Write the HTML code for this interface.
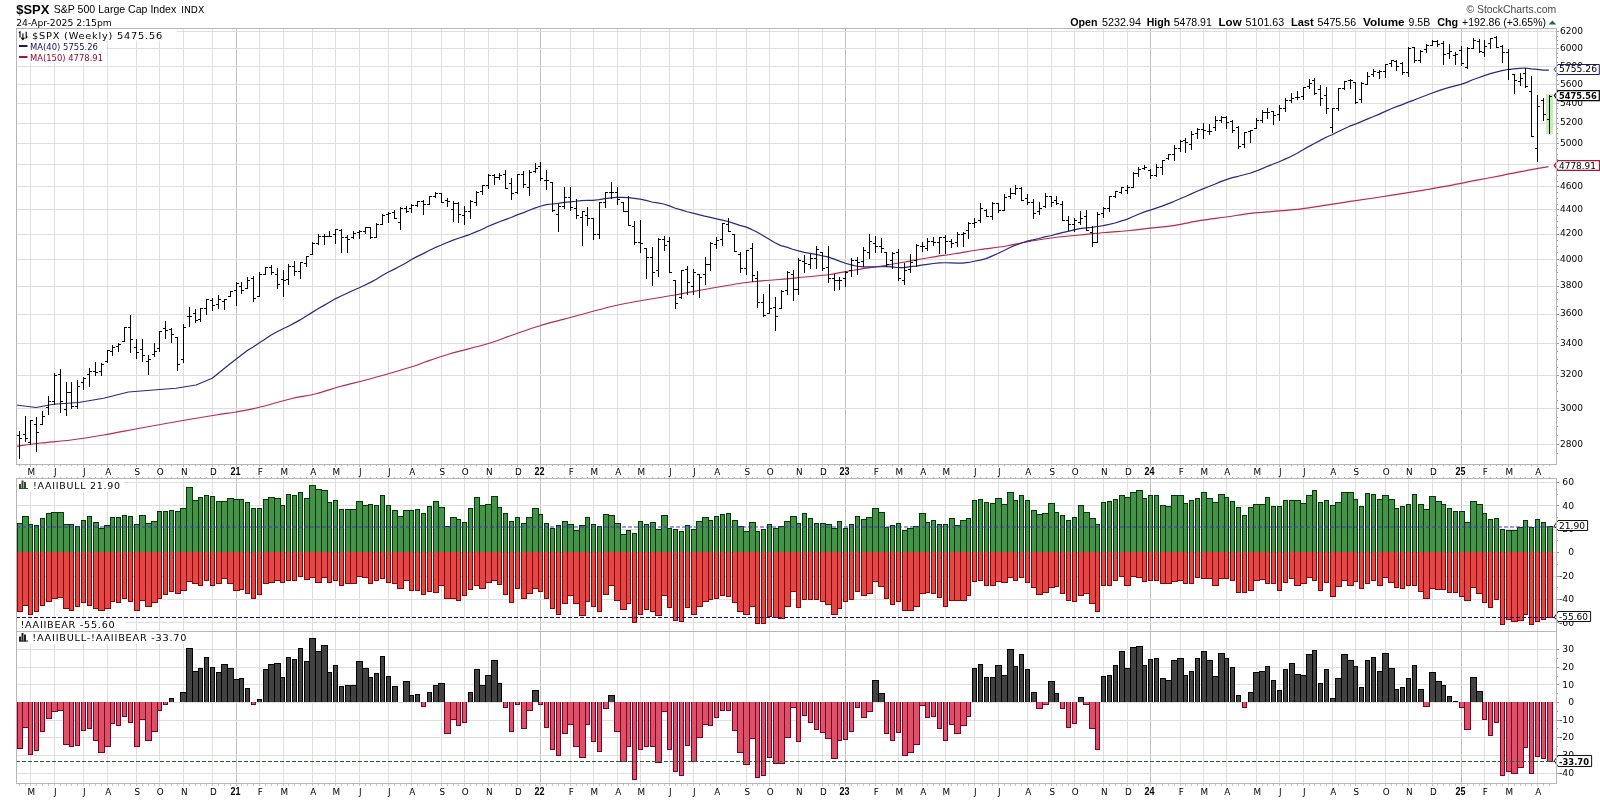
<!DOCTYPE html>
<html><head><meta charset="utf-8"><title>$SPX Weekly - StockCharts</title>
<style>html,body{margin:0;padding:0;background:#fff;overflow:hidden}svg{display:block;will-change:transform}</style>
</head><body><svg width="1600" height="800" viewBox="0 0 1600 800"><rect x="0" y="0" width="1600" height="800" fill="#fff"/><text x="16.25" y="13.5" font-size="13" font-family="'Liberation Sans', Arial, sans-serif" fill="#000" font-weight="bold" textLength="33.1" lengthAdjust="spacingAndGlyphs">$SPX</text><text x="53.75" y="13.1" font-size="10.5" font-family="'Liberation Sans', Arial, sans-serif" fill="#000" textLength="122.5" lengthAdjust="spacingAndGlyphs">S&amp;P 500 Large Cap Index</text><text x="181.25" y="13.1" font-size="9.3" font-family="'DejaVu Sans', Verdana, sans-serif" fill="#000" textLength="23" lengthAdjust="spacingAndGlyphs">INDX</text><text x="16.25" y="25.6" font-size="9.3" font-family="'DejaVu Sans', Verdana, sans-serif" fill="#000" textLength="95.6" lengthAdjust="spacingAndGlyphs">24-Apr-2025 2:15pm</text><text x="1070.2" y="25.75" font-size="11" font-family="'Liberation Sans', Arial, sans-serif" fill="#000" font-weight="bold" textLength="27.3" lengthAdjust="spacingAndGlyphs">Open</text><text x="1101.9" y="25.75" font-size="10.6" font-family="'Liberation Sans', Arial, sans-serif" fill="#000" textLength="39" lengthAdjust="spacingAndGlyphs">5232.94</text><text x="1146.7" y="25.75" font-size="11" font-family="'Liberation Sans', Arial, sans-serif" fill="#000" font-weight="bold" textLength="23.5" lengthAdjust="spacingAndGlyphs">High</text><text x="1173.75" y="25.75" font-size="10.6" font-family="'Liberation Sans', Arial, sans-serif" fill="#000" textLength="38.1" lengthAdjust="spacingAndGlyphs">5478.91</text><text x="1218.6" y="25.75" font-size="11" font-family="'Liberation Sans', Arial, sans-serif" fill="#000" font-weight="bold" textLength="23" lengthAdjust="spacingAndGlyphs">Low</text><text x="1245.6" y="25.75" font-size="10.6" font-family="'Liberation Sans', Arial, sans-serif" fill="#000" textLength="38.6" lengthAdjust="spacingAndGlyphs">5101.63</text><text x="1290.9" y="25.75" font-size="11" font-family="'Liberation Sans', Arial, sans-serif" fill="#000" font-weight="bold" textLength="22.7" lengthAdjust="spacingAndGlyphs">Last</text><text x="1317.6" y="25.75" font-size="10.6" font-family="'Liberation Sans', Arial, sans-serif" fill="#000" textLength="38.5" lengthAdjust="spacingAndGlyphs">5475.56</text><text x="1363.1" y="25.75" font-size="11" font-family="'Liberation Sans', Arial, sans-serif" fill="#000" font-weight="bold" textLength="41.5" lengthAdjust="spacingAndGlyphs">Volume</text><text x="1408.6" y="25.75" font-size="10.6" font-family="'Liberation Sans', Arial, sans-serif" fill="#000" textLength="21.6" lengthAdjust="spacingAndGlyphs">9.5B</text><text x="1437.2" y="25.75" font-size="11" font-family="'Liberation Sans', Arial, sans-serif" fill="#000" font-weight="bold" textLength="21" lengthAdjust="spacingAndGlyphs">Chg</text><text x="1462" y="25.75" font-size="10.6" font-family="'Liberation Sans', Arial, sans-serif" fill="#000" textLength="84" lengthAdjust="spacingAndGlyphs">+192.86 (+3.65%)</text><path d="M1548.6 24.5 L1552.4 20.6 L1556.2 24.5 Z" fill="#335f3f"/><text x="1466.4" y="13.1" font-size="10.4" font-family="'Liberation Sans', Arial, sans-serif" fill="#474747" textLength="89.8" lengthAdjust="spacingAndGlyphs">&#169; StockCharts.com</text><g shape-rendering="crispEdges"><line x1="30.5" y1="28" x2="30.5" y2="464" stroke="#dedede"/><line x1="54.5" y1="28" x2="54.5" y2="464" stroke="#dedede"/><line x1="83.5" y1="28" x2="83.5" y2="464" stroke="#dedede"/><line x1="107.5" y1="28" x2="107.5" y2="464" stroke="#dedede"/><line x1="136.5" y1="28" x2="136.5" y2="464" stroke="#dedede"/><line x1="159.5" y1="28" x2="159.5" y2="464" stroke="#dedede"/><line x1="183.5" y1="28" x2="183.5" y2="464" stroke="#dedede"/><line x1="212.5" y1="28" x2="212.5" y2="464" stroke="#dedede"/><line x1="236.5" y1="28" x2="236.5" y2="464" stroke="#c0c0c0"/><line x1="259.5" y1="28" x2="259.5" y2="464" stroke="#dedede"/><line x1="283.5" y1="28" x2="283.5" y2="464" stroke="#dedede"/><line x1="312.5" y1="28" x2="312.5" y2="464" stroke="#dedede"/><line x1="335.5" y1="28" x2="335.5" y2="464" stroke="#dedede"/><line x1="359.5" y1="28" x2="359.5" y2="464" stroke="#dedede"/><line x1="388.5" y1="28" x2="388.5" y2="464" stroke="#dedede"/><line x1="411.5" y1="28" x2="411.5" y2="464" stroke="#dedede"/><line x1="441.5" y1="28" x2="441.5" y2="464" stroke="#dedede"/><line x1="464.5" y1="28" x2="464.5" y2="464" stroke="#dedede"/><line x1="488.5" y1="28" x2="488.5" y2="464" stroke="#dedede"/><line x1="517.5" y1="28" x2="517.5" y2="464" stroke="#dedede"/><line x1="540.5" y1="28" x2="540.5" y2="464" stroke="#c0c0c0"/><line x1="570.5" y1="28" x2="570.5" y2="464" stroke="#dedede"/><line x1="593.5" y1="28" x2="593.5" y2="464" stroke="#dedede"/><line x1="617.5" y1="28" x2="617.5" y2="464" stroke="#dedede"/><line x1="640.5" y1="28" x2="640.5" y2="464" stroke="#dedede"/><line x1="669.5" y1="28" x2="669.5" y2="464" stroke="#dedede"/><line x1="693.5" y1="28" x2="693.5" y2="464" stroke="#dedede"/><line x1="716.5" y1="28" x2="716.5" y2="464" stroke="#dedede"/><line x1="746.5" y1="28" x2="746.5" y2="464" stroke="#dedede"/><line x1="769.5" y1="28" x2="769.5" y2="464" stroke="#dedede"/><line x1="798.5" y1="28" x2="798.5" y2="464" stroke="#dedede"/><line x1="822.5" y1="28" x2="822.5" y2="464" stroke="#dedede"/><line x1="845.5" y1="28" x2="845.5" y2="464" stroke="#c0c0c0"/><line x1="875.5" y1="28" x2="875.5" y2="464" stroke="#dedede"/><line x1="898.5" y1="28" x2="898.5" y2="464" stroke="#dedede"/><line x1="922.5" y1="28" x2="922.5" y2="464" stroke="#dedede"/><line x1="945.5" y1="28" x2="945.5" y2="464" stroke="#dedede"/><line x1="974.5" y1="28" x2="974.5" y2="464" stroke="#dedede"/><line x1="998.5" y1="28" x2="998.5" y2="464" stroke="#dedede"/><line x1="1027.5" y1="28" x2="1027.5" y2="464" stroke="#dedede"/><line x1="1051.5" y1="28" x2="1051.5" y2="464" stroke="#dedede"/><line x1="1074.5" y1="28" x2="1074.5" y2="464" stroke="#dedede"/><line x1="1103.5" y1="28" x2="1103.5" y2="464" stroke="#dedede"/><line x1="1127.5" y1="28" x2="1127.5" y2="464" stroke="#dedede"/><line x1="1150.5" y1="28" x2="1150.5" y2="464" stroke="#c0c0c0"/><line x1="1180.5" y1="28" x2="1180.5" y2="464" stroke="#dedede"/><line x1="1203.5" y1="28" x2="1203.5" y2="464" stroke="#dedede"/><line x1="1226.5" y1="28" x2="1226.5" y2="464" stroke="#dedede"/><line x1="1256.5" y1="28" x2="1256.5" y2="464" stroke="#dedede"/><line x1="1279.5" y1="28" x2="1279.5" y2="464" stroke="#dedede"/><line x1="1303.5" y1="28" x2="1303.5" y2="464" stroke="#dedede"/><line x1="1332.5" y1="28" x2="1332.5" y2="464" stroke="#dedede"/><line x1="1355.5" y1="28" x2="1355.5" y2="464" stroke="#dedede"/><line x1="1385.5" y1="28" x2="1385.5" y2="464" stroke="#dedede"/><line x1="1408.5" y1="28" x2="1408.5" y2="464" stroke="#dedede"/><line x1="1432.5" y1="28" x2="1432.5" y2="464" stroke="#dedede"/><line x1="1461.5" y1="28" x2="1461.5" y2="464" stroke="#c0c0c0"/><line x1="1484.5" y1="28" x2="1484.5" y2="464" stroke="#dedede"/><line x1="1508.5" y1="28" x2="1508.5" y2="464" stroke="#dedede"/><line x1="1537.5" y1="28" x2="1537.5" y2="464" stroke="#dedede"/><line x1="16" y1="444.5" x2="1556" y2="444.5" stroke="#dedede"/><line x1="16" y1="408.5" x2="1556" y2="408.5" stroke="#dedede"/><line x1="16" y1="375.5" x2="1556" y2="375.5" stroke="#dedede"/><line x1="16" y1="343.5" x2="1556" y2="343.5" stroke="#dedede"/><line x1="16" y1="314.5" x2="1556" y2="314.5" stroke="#dedede"/><line x1="16" y1="286.5" x2="1556" y2="286.5" stroke="#dedede"/><line x1="16" y1="259.5" x2="1556" y2="259.5" stroke="#dedede"/><line x1="16" y1="234.5" x2="1556" y2="234.5" stroke="#dedede"/><line x1="16" y1="209.5" x2="1556" y2="209.5" stroke="#dedede"/><line x1="16" y1="186.5" x2="1556" y2="186.5" stroke="#dedede"/><line x1="16" y1="164.5" x2="1556" y2="164.5" stroke="#dedede"/><line x1="16" y1="143.5" x2="1556" y2="143.5" stroke="#dedede"/><line x1="16" y1="123.5" x2="1556" y2="123.5" stroke="#dedede"/><line x1="16" y1="103.5" x2="1556" y2="103.5" stroke="#dedede"/><line x1="16" y1="84.5" x2="1556" y2="84.5" stroke="#dedede"/><line x1="16" y1="66.5" x2="1556" y2="66.5" stroke="#dedede"/><line x1="16" y1="48.5" x2="1556" y2="48.5" stroke="#dedede"/><line x1="16" y1="31.5" x2="1556" y2="31.5" stroke="#dedede"/></g><path d="M16 446.25 C20.17 445.71 31.83 444.04 41 443 C50.17 441.96 60.58 441.33 71 440 C81.42 438.67 91.83 437 103.5 435 C115.17 433 128.5 430.29 141 428 C153.5 425.71 166 423.42 178.5 421.25 C191 419.08 206.42 416.54 216 415 C225.58 413.46 228.92 413.25 236 412 C243.08 410.75 249.33 409.71 258.5 407.5 C267.67 405.29 281.42 401.04 291 398.75 C300.58 396.46 307.67 395.83 316 393.75 C324.33 391.67 332.67 388.54 341 386.25 C349.33 383.96 357.67 382.21 366 380 C374.33 377.79 382.67 375.42 391 373 C399.33 370.58 410.33 367.33 416 365.5 C421.67 363.67 419.33 363.96 425 362 C430.67 360.04 439.58 356.79 450 353.75 C460.42 350.71 477.08 346.88 487.5 343.75 C497.92 340.62 503.75 338 512.5 335 C521.25 332 529.58 328.88 540 325.75 C550.42 322.62 562.92 319.5 575 316.25 C587.08 313 602.08 308.75 612.5 306.25 C622.92 303.75 627.08 303.12 637.5 301.25 C647.92 299.38 662.5 297.21 675 295 C687.5 292.79 700 290.17 712.5 288 C725 285.83 738.75 283.42 750 282 C761.25 280.58 770.83 280.33 780 279.5 C789.17 278.67 796.67 277.83 805 277 C813.33 276.17 821.67 275.67 830 274.5 C838.33 273.33 846.67 271.38 855 270 C863.33 268.62 871.67 267.58 880 266.25 C888.33 264.92 896.67 263.46 905 262 C913.33 260.54 921.67 258.88 930 257.5 C938.33 256.12 946.67 255.08 955 253.75 C963.33 252.42 971.67 250.75 980 249.5 C988.33 248.25 996.67 247.62 1005 246.25 C1013.33 244.88 1021.67 242.71 1030 241.25 C1038.33 239.79 1046.67 238.54 1055 237.5 C1063.33 236.46 1071.67 235.83 1080 235 C1088.33 234.17 1096.67 233.25 1105 232.5 C1113.33 231.75 1122.45 231.22 1130 230.5 C1137.55 229.78 1142.8 229.07 1150.3 228.2 C1157.8 227.33 1166.62 226.6 1175 225.3 C1183.38 224 1192.1 221.78 1200.6 220.4 C1209.1 219.02 1217.6 218.18 1226 217 C1234.4 215.82 1242.67 214.27 1251 213.3 C1259.33 212.33 1267.62 211.93 1276 211.2 C1284.38 210.47 1292.97 209.9 1301.3 208.9 C1309.63 207.9 1317.62 206.48 1326 205.2 C1334.38 203.92 1343.1 202.48 1351.6 201.2 C1360.1 199.92 1368.62 198.75 1377 197.5 C1385.38 196.25 1393.57 195.03 1401.9 193.7 C1410.23 192.37 1418.62 190.93 1427 189.5 C1435.38 188.07 1443.87 186.65 1452.2 185.1 C1460.53 183.55 1468.62 181.83 1477 180.2 C1485.38 178.57 1494.5 176.87 1502.5 175.3 C1510.5 173.73 1517.33 172.23 1525 170.8 C1532.67 169.37 1544.58 167.38 1548.5 166.7" fill="none" stroke="#bc2850" stroke-width="1.2"/><path d="M16 405 L36 407.5 L53.5 404.25 L78.5 402.5 L103.5 398.25 L128.5 392 L153.5 390 L176 388.25 L196 385 L212.25 378.25 L228.5 365 L247.33 350.43 L253.19 347.04 L259.06 342.99 L264.92 339.17 L270.78 335.26 L276.65 332.05 L282.51 329.08 L288.37 326.3 L294.23 323.1 L300.1 319.89 L305.96 316.22 L311.82 312.63 L317.69 309.04 L323.55 305.64 L329.41 302.23 L335.27 298.85 L341.14 296 L347 293.29 L352.86 290.51 L358.73 288.05 L364.59 285.22 L370.45 282.4 L376.31 279.16 L382.18 275.6 L388.04 272.19 L393.9 269.39 L399.77 266.34 L405.63 263.31 L411.49 259.5 L417.35 256.38 L423.22 253.61 L429.08 250.55 L434.94 247.68 L440.81 245.27 L446.67 242.71 L452.53 240.35 L458.39 238.3 L464.26 236.33 L470.12 234.32 L475.98 231.88 L481.85 229.52 L487.71 226.5 L493.57 224.08 L499.44 221.77 L505.3 219.69 L511.16 217.5 L517.02 214.89 L522.89 212.9 L528.75 210.49 L534.61 208.15 L540.48 206.21 L546.34 204.64 L552.2 204.02 L558.06 203.29 L563.93 202.34 L569.79 201.8 L575.65 201.27 L581.52 200.6 L587.38 200.25 L593.24 200.31 L599.1 199.71 L604.97 198.62 L610.83 197.86 L616.69 197.47 L622.56 197.41 L628.42 197.56 L634.28 198.37 L640.14 199.14 L646.01 200.37 L651.87 202.03 L657.73 202.85 L663.6 204.03 L669.46 205.9 L675.32 208.21 L681.19 209.87 L687.05 211.73 L692.91 213.09 L698.77 214.67 L704.64 216.18 L710.5 217.46 L716.36 218.83 L722.23 220.09 L728.09 221.47 L733.95 223.41 L739.81 225.42 L745.68 226.86 L751.54 229.42 L757.4 232.3 L763.27 235.81 L769.13 239.32 L774.99 242.76 L780.85 245.59 L786.72 247.17 L792.58 249.27 L798.44 250.91 L804.31 252.36 L810.17 253.46 L816.03 254.46 L821.89 255.73 L827.76 256.84 L833.62 258.84 L839.48 261.13 L845.35 263.25 L851.21 264.87 L857.07 266.24 L862.94 266.91 L868.8 266.87 L874.66 266.96 L880.52 266.75 L886.39 266.53 L892.25 266.89 L898.11 267.72 L903.98 267.68 L909.84 266.69 L915.7 266.06 L921.56 265.14 L927.43 264.36 L933.29 263.48 L939.15 262.8 L945.02 262.77 L950.88 262.86 L956.74 263.15 L962.6 263.22 L968.47 262.47 L974.33 261.26 L980.19 260.15 L986.06 258.64 L991.92 256.13 L997.78 253.54 L1003.64 250.74 L1009.51 247.69 L1015.37 245.08 L1021.23 243.25 L1027.1 241.09 L1032.96 239.9 L1038.82 238.52 L1044.68 236.94 L1050.55 235.74 L1056.41 234.12 L1062.27 232.7 L1068.14 231.36 L1074 229.91 L1079.86 228.6 L1085.73 227.89 L1091.59 227.39 L1097.45 226.51 L1103.31 225.67 L1109.18 224.4 L1115.04 222.96 L1120.9 221.07 L1126.77 219.41 L1132.63 216.82 L1138.49 214.29 L1144.35 211.9 L1150.22 210.14 L1156.08 208.16 L1161.94 206.1 L1167.81 203.86 L1173.67 201.57 L1179.53 199.01 L1185.39 196.45 L1191.26 193.9 L1197.12 191.23 L1202.98 188.85 L1208.85 186.54 L1214.71 184.23 L1220.57 181.67 L1226.43 179.58 L1232.3 177.56 L1238.16 176.29 L1244.02 174.73 L1249.89 173.25 L1255.75 171.19 L1261.61 168.87 L1267.48 166.32 L1273.34 163.98 L1279.2 161.73 L1285.06 159.14 L1290.93 156.46 L1296.79 153.42 L1302.65 150.02 L1308.52 146.61 L1314.38 143.54 L1320.24 140.35 L1326.1 137.23 L1331.97 134.69 L1337.83 131.78 L1343.69 128.94 L1349.56 126.19 L1355.42 124.13 L1361.28 121.58 L1367.14 119.17 L1373.01 116.73 L1378.87 114.35 L1384.73 111.61 L1390.6 108.97 L1396.46 106.62 L1402.32 104.61 L1408.18 102.09 L1414.05 100.06 L1419.91 97.77 L1425.77 95.51 L1431.64 93.26 L1437.5 91.07 L1443.36 89.16 L1449.23 87.43 L1455.09 85.85 L1460.95 84.4 L1466.81 82.35 L1472.68 79.73 L1478.54 77.74 L1484.4 75.68 L1490.27 73.66 L1496.13 72.05 L1501.99 70.58 L1507.85 69.48 L1513.72 68.82 L1519.58 68.28 L1525.44 68 L1531.31 68.88 L1537.17 69.32 L1543.03 70.05 L1548.89 70.1" fill="none" stroke="#2a287e" stroke-width="1.2" stroke-linejoin="round"/><rect x="1546" y="94" width="7" height="40" fill="#c6eeb4"/><g fill="#000" shape-rendering="crispEdges"><rect x="19" y="431" width="1" height="28"/><rect x="17" y="435" width="2" height="1"/><rect x="20" y="438" width="2" height="1"/><rect x="25" y="416" width="1" height="26"/><rect x="23" y="434" width="2" height="1"/><rect x="26" y="438" width="2" height="1"/><rect x="30" y="420" width="1" height="25"/><rect x="28" y="442" width="2" height="1"/><rect x="31" y="420" width="2" height="1"/><rect x="36" y="417" width="1" height="35"/><rect x="34" y="424" width="2" height="1"/><rect x="37" y="432" width="2" height="1"/><rect x="42" y="411" width="1" height="14"/><rect x="40" y="424" width="2" height="1"/><rect x="43" y="416" width="2" height="1"/><rect x="48" y="396" width="1" height="19"/><rect x="46" y="407" width="2" height="1"/><rect x="49" y="401" width="2" height="1"/><rect x="54" y="373" width="1" height="32"/><rect x="52" y="401" width="2" height="1"/><rect x="55" y="375" width="2" height="1"/><rect x="60" y="369" width="1" height="44"/><rect x="58" y="374" width="2" height="1"/><rect x="61" y="401" width="2" height="1"/><rect x="66" y="382" width="1" height="34"/><rect x="64" y="409" width="2" height="1"/><rect x="67" y="392" width="2" height="1"/><rect x="71" y="382" width="1" height="27"/><rect x="69" y="392" width="2" height="1"/><rect x="72" y="406" width="2" height="1"/><rect x="77" y="380" width="1" height="29"/><rect x="75" y="406" width="2" height="1"/><rect x="78" y="386" width="2" height="1"/><rect x="83" y="377" width="1" height="13"/><rect x="81" y="382" width="2" height="1"/><rect x="84" y="378" width="2" height="1"/><rect x="89" y="368" width="1" height="19"/><rect x="87" y="374" width="2" height="1"/><rect x="90" y="371" width="2" height="1"/><rect x="95" y="362" width="1" height="14"/><rect x="93" y="371" width="2" height="1"/><rect x="96" y="372" width="2" height="1"/><rect x="101" y="363" width="1" height="13"/><rect x="99" y="371" width="2" height="1"/><rect x="102" y="364" width="2" height="1"/><rect x="107" y="350" width="1" height="13"/><rect x="105" y="361" width="2" height="1"/><rect x="108" y="350" width="2" height="1"/><rect x="112" y="345" width="1" height="11"/><rect x="110" y="351" width="2" height="1"/><rect x="113" y="347" width="2" height="1"/><rect x="118" y="343" width="1" height="9"/><rect x="116" y="346" width="2" height="1"/><rect x="119" y="344" width="2" height="1"/><rect x="124" y="327" width="1" height="15"/><rect x="122" y="341" width="2" height="1"/><rect x="125" y="327" width="2" height="1"/><rect x="130" y="315" width="1" height="38"/><rect x="128" y="327" width="2" height="1"/><rect x="131" y="339" width="2" height="1"/><rect x="136" y="339" width="1" height="20"/><rect x="134" y="347" width="2" height="1"/><rect x="137" y="352" width="2" height="1"/><rect x="142" y="339" width="1" height="23"/><rect x="140" y="349" width="2" height="1"/><rect x="143" y="355" width="2" height="1"/><rect x="148" y="355" width="1" height="20"/><rect x="146" y="361" width="2" height="1"/><rect x="149" y="359" width="2" height="1"/><rect x="154" y="343" width="1" height="14"/><rect x="152" y="354" width="2" height="1"/><rect x="155" y="351" width="2" height="1"/><rect x="159" y="331" width="1" height="21"/><rect x="157" y="348" width="2" height="1"/><rect x="160" y="331" width="2" height="1"/><rect x="165" y="321" width="1" height="18"/><rect x="163" y="328" width="2" height="1"/><rect x="166" y="330" width="2" height="1"/><rect x="171" y="328" width="1" height="15"/><rect x="169" y="329" width="2" height="1"/><rect x="172" y="334" width="2" height="1"/><rect x="177" y="337" width="1" height="34"/><rect x="175" y="337" width="2" height="1"/><rect x="178" y="364" width="2" height="1"/><rect x="183" y="324" width="1" height="39"/><rect x="181" y="359" width="2" height="1"/><rect x="184" y="327" width="2" height="1"/><rect x="189" y="307" width="1" height="20"/><rect x="187" y="316" width="2" height="1"/><rect x="190" y="316" width="2" height="1"/><rect x="195" y="309" width="1" height="14"/><rect x="193" y="313" width="2" height="1"/><rect x="196" y="320" width="2" height="1"/><rect x="200" y="308" width="1" height="14"/><rect x="198" y="319" width="2" height="1"/><rect x="201" y="308" width="2" height="1"/><rect x="206" y="299" width="1" height="16"/><rect x="204" y="308" width="2" height="1"/><rect x="207" y="299" width="2" height="1"/><rect x="212" y="298" width="1" height="13"/><rect x="210" y="300" width="2" height="1"/><rect x="213" y="305" width="2" height="1"/><rect x="218" y="295" width="1" height="14"/><rect x="216" y="304" width="2" height="1"/><rect x="219" y="299" width="2" height="1"/><rect x="224" y="299" width="1" height="11"/><rect x="222" y="301" width="2" height="1"/><rect x="225" y="299" width="2" height="1"/><rect x="230" y="291" width="1" height="6"/><rect x="228" y="296" width="2" height="1"/><rect x="231" y="291" width="2" height="1"/><rect x="236" y="282" width="1" height="24"/><rect x="234" y="290" width="2" height="1"/><rect x="237" y="283" width="2" height="1"/><rect x="241" y="282" width="1" height="12"/><rect x="239" y="286" width="2" height="1"/><rect x="242" y="290" width="2" height="1"/><rect x="247" y="277" width="1" height="12"/><rect x="245" y="288" width="2" height="1"/><rect x="248" y="280" width="2" height="1"/><rect x="253" y="276" width="1" height="26"/><rect x="251" y="278" width="2" height="1"/><rect x="254" y="298" width="2" height="1"/><rect x="259" y="272" width="1" height="25"/><rect x="257" y="296" width="2" height="1"/><rect x="260" y="274" width="2" height="1"/><rect x="265" y="267" width="1" height="8"/><rect x="263" y="274" width="2" height="1"/><rect x="266" y="267" width="2" height="1"/><rect x="271" y="265" width="1" height="10"/><rect x="269" y="267" width="2" height="1"/><rect x="272" y="272" width="2" height="1"/><rect x="277" y="268" width="1" height="21"/><rect x="275" y="274" width="2" height="1"/><rect x="278" y="284" width="2" height="1"/><rect x="283" y="270" width="1" height="27"/><rect x="281" y="279" width="2" height="1"/><rect x="284" y="280" width="2" height="1"/><rect x="288" y="264" width="1" height="21"/><rect x="286" y="279" width="2" height="1"/><rect x="289" y="266" width="2" height="1"/><rect x="294" y="261" width="1" height="15"/><rect x="292" y="266" width="2" height="1"/><rect x="295" y="271" width="2" height="1"/><rect x="300" y="262" width="1" height="17"/><rect x="298" y="271" width="2" height="1"/><rect x="301" y="262" width="2" height="1"/><rect x="306" y="256" width="1" height="11"/><rect x="304" y="263" width="2" height="1"/><rect x="307" y="256" width="2" height="1"/><rect x="312" y="242" width="1" height="13"/><rect x="310" y="254" width="2" height="1"/><rect x="313" y="243" width="2" height="1"/><rect x="318" y="234" width="1" height="11"/><rect x="316" y="243" width="2" height="1"/><rect x="319" y="236" width="2" height="1"/><rect x="324" y="234" width="1" height="11"/><rect x="322" y="236" width="2" height="1"/><rect x="325" y="236" width="2" height="1"/><rect x="329" y="231" width="1" height="6"/><rect x="327" y="236" width="2" height="1"/><rect x="330" y="236" width="2" height="1"/><rect x="335" y="229" width="1" height="15"/><rect x="333" y="234" width="2" height="1"/><rect x="336" y="229" width="2" height="1"/><rect x="341" y="229" width="1" height="24"/><rect x="339" y="230" width="2" height="1"/><rect x="342" y="237" width="2" height="1"/><rect x="347" y="235" width="1" height="18"/><rect x="345" y="237" width="2" height="1"/><rect x="348" y="239" width="2" height="1"/><rect x="353" y="231" width="1" height="8"/><rect x="351" y="237" width="2" height="1"/><rect x="354" y="233" width="2" height="1"/><rect x="359" y="230" width="1" height="9"/><rect x="357" y="232" width="2" height="1"/><rect x="360" y="231" width="2" height="1"/><rect x="365" y="227" width="1" height="7"/><rect x="363" y="231" width="2" height="1"/><rect x="366" y="227" width="2" height="1"/><rect x="370" y="227" width="1" height="12"/><rect x="368" y="227" width="2" height="1"/><rect x="371" y="237" width="2" height="1"/><rect x="376" y="223" width="1" height="15"/><rect x="374" y="237" width="2" height="1"/><rect x="377" y="224" width="2" height="1"/><rect x="382" y="214" width="1" height="11"/><rect x="380" y="224" width="2" height="1"/><rect x="383" y="215" width="2" height="1"/><rect x="388" y="212" width="1" height="11"/><rect x="386" y="214" width="2" height="1"/><rect x="389" y="213" width="2" height="1"/><rect x="394" y="210" width="1" height="9"/><rect x="392" y="212" width="2" height="1"/><rect x="395" y="218" width="2" height="1"/><rect x="400" y="207" width="1" height="23"/><rect x="398" y="222" width="2" height="1"/><rect x="401" y="208" width="2" height="1"/><rect x="406" y="206" width="1" height="7"/><rect x="404" y="208" width="2" height="1"/><rect x="407" y="211" width="2" height="1"/><rect x="411" y="204" width="1" height="9"/><rect x="409" y="208" width="2" height="1"/><rect x="412" y="205" width="2" height="1"/><rect x="417" y="201" width="1" height="6"/><rect x="415" y="205" width="2" height="1"/><rect x="418" y="201" width="2" height="1"/><rect x="423" y="200" width="1" height="15"/><rect x="421" y="201" width="2" height="1"/><rect x="424" y="204" width="2" height="1"/><rect x="429" y="196" width="1" height="9"/><rect x="427" y="204" width="2" height="1"/><rect x="430" y="196" width="2" height="1"/><rect x="435" y="192" width="1" height="6"/><rect x="433" y="196" width="2" height="1"/><rect x="436" y="193" width="2" height="1"/><rect x="441" y="193" width="1" height="10"/><rect x="439" y="193" width="2" height="1"/><rect x="442" y="202" width="2" height="1"/><rect x="447" y="198" width="1" height="9"/><rect x="445" y="200" width="2" height="1"/><rect x="448" y="201" width="2" height="1"/><rect x="453" y="201" width="1" height="21"/><rect x="451" y="209" width="2" height="1"/><rect x="454" y="203" width="2" height="1"/><rect x="458" y="202" width="1" height="21"/><rect x="456" y="203" width="2" height="1"/><rect x="459" y="214" width="2" height="1"/><rect x="464" y="206" width="1" height="19"/><rect x="462" y="215" width="2" height="1"/><rect x="465" y="211" width="2" height="1"/><rect x="470" y="200" width="1" height="19"/><rect x="468" y="211" width="2" height="1"/><rect x="471" y="201" width="2" height="1"/><rect x="476" y="191" width="1" height="15"/><rect x="474" y="202" width="2" height="1"/><rect x="477" y="192" width="2" height="1"/><rect x="482" y="185" width="1" height="10"/><rect x="480" y="191" width="2" height="1"/><rect x="483" y="185" width="2" height="1"/><rect x="488" y="174" width="1" height="15"/><rect x="486" y="185" width="2" height="1"/><rect x="489" y="175" width="2" height="1"/><rect x="494" y="174" width="1" height="11"/><rect x="492" y="175" width="2" height="1"/><rect x="495" y="177" width="2" height="1"/><rect x="499" y="173" width="1" height="7"/><rect x="497" y="177" width="2" height="1"/><rect x="500" y="175" width="2" height="1"/><rect x="505" y="170" width="1" height="19"/><rect x="503" y="174" width="2" height="1"/><rect x="506" y="188" width="2" height="1"/><rect x="511" y="178" width="1" height="22"/><rect x="509" y="183" width="2" height="1"/><rect x="512" y="193" width="2" height="1"/><rect x="517" y="174" width="1" height="20"/><rect x="515" y="192" width="2" height="1"/><rect x="518" y="174" width="2" height="1"/><rect x="523" y="171" width="1" height="17"/><rect x="521" y="174" width="2" height="1"/><rect x="524" y="184" width="2" height="1"/><rect x="529" y="170" width="1" height="26"/><rect x="527" y="187" width="2" height="1"/><rect x="530" y="172" width="2" height="1"/><rect x="535" y="163" width="1" height="10"/><rect x="533" y="171" width="2" height="1"/><rect x="536" y="168" width="2" height="1"/><rect x="540" y="162" width="1" height="19"/><rect x="538" y="166" width="2" height="1"/><rect x="541" y="178" width="2" height="1"/><rect x="546" y="170" width="1" height="20"/><rect x="544" y="180" width="2" height="1"/><rect x="547" y="180" width="2" height="1"/><rect x="552" y="182" width="1" height="30"/><rect x="550" y="182" width="2" height="1"/><rect x="553" y="210" width="2" height="1"/><rect x="558" y="204" width="1" height="28"/><rect x="556" y="214" width="2" height="1"/><rect x="559" y="206" width="2" height="1"/><rect x="564" y="187" width="1" height="22"/><rect x="562" y="206" width="2" height="1"/><rect x="565" y="197" width="2" height="1"/><rect x="570" y="187" width="1" height="24"/><rect x="568" y="197" width="2" height="1"/><rect x="571" y="207" width="2" height="1"/><rect x="576" y="199" width="1" height="20"/><rect x="574" y="208" width="2" height="1"/><rect x="577" y="215" width="2" height="1"/><rect x="582" y="211" width="1" height="35"/><rect x="580" y="217" width="2" height="1"/><rect x="583" y="211" width="2" height="1"/><rect x="587" y="207" width="1" height="19"/><rect x="585" y="215" width="2" height="1"/><rect x="588" y="218" width="2" height="1"/><rect x="593" y="218" width="1" height="22"/><rect x="591" y="218" width="2" height="1"/><rect x="594" y="234" width="2" height="1"/><rect x="599" y="202" width="1" height="37"/><rect x="597" y="234" width="2" height="1"/><rect x="600" y="202" width="2" height="1"/><rect x="605" y="192" width="1" height="16"/><rect x="603" y="202" width="2" height="1"/><rect x="606" y="192" width="2" height="1"/><rect x="611" y="182" width="1" height="17"/><rect x="609" y="192" width="2" height="1"/><rect x="612" y="192" width="2" height="1"/><rect x="617" y="187" width="1" height="18"/><rect x="615" y="192" width="2" height="1"/><rect x="618" y="199" width="2" height="1"/><rect x="623" y="202" width="1" height="10"/><rect x="621" y="202" width="2" height="1"/><rect x="624" y="211" width="2" height="1"/><rect x="628" y="196" width="1" height="30"/><rect x="626" y="211" width="2" height="1"/><rect x="629" y="225" width="2" height="1"/><rect x="634" y="221" width="1" height="24"/><rect x="632" y="226" width="2" height="1"/><rect x="635" y="242" width="2" height="1"/><rect x="640" y="220" width="1" height="33"/><rect x="638" y="242" width="2" height="1"/><rect x="641" y="243" width="2" height="1"/><rect x="646" y="248" width="1" height="31"/><rect x="644" y="248" width="2" height="1"/><rect x="647" y="257" width="2" height="1"/><rect x="652" y="247" width="1" height="39"/><rect x="650" y="257" width="2" height="1"/><rect x="653" y="272" width="2" height="1"/><rect x="658" y="238" width="1" height="39"/><rect x="656" y="270" width="2" height="1"/><rect x="659" y="239" width="2" height="1"/><rect x="664" y="236" width="1" height="15"/><rect x="662" y="239" width="2" height="1"/><rect x="665" y="245" width="2" height="1"/><rect x="669" y="237" width="1" height="36"/><rect x="667" y="241" width="2" height="1"/><rect x="670" y="272" width="2" height="1"/><rect x="675" y="280" width="1" height="29"/><rect x="673" y="280" width="2" height="1"/><rect x="676" y="303" width="2" height="1"/><rect x="681" y="270" width="1" height="29"/><rect x="679" y="297" width="2" height="1"/><rect x="682" y="270" width="2" height="1"/><rect x="687" y="266" width="1" height="29"/><rect x="685" y="269" width="2" height="1"/><rect x="688" y="282" width="2" height="1"/><rect x="693" y="269" width="1" height="26"/><rect x="691" y="286" width="2" height="1"/><rect x="694" y="272" width="2" height="1"/><rect x="699" y="274" width="1" height="24"/><rect x="697" y="274" width="2" height="1"/><rect x="700" y="277" width="2" height="1"/><rect x="705" y="257" width="1" height="28"/><rect x="703" y="274" width="2" height="1"/><rect x="706" y="264" width="2" height="1"/><rect x="710" y="242" width="1" height="29"/><rect x="708" y="264" width="2" height="1"/><rect x="711" y="243" width="2" height="1"/><rect x="716" y="237" width="1" height="12"/><rect x="714" y="244" width="2" height="1"/><rect x="717" y="240" width="2" height="1"/><rect x="722" y="223" width="1" height="23"/><rect x="720" y="239" width="2" height="1"/><rect x="723" y="223" width="2" height="1"/><rect x="728" y="218" width="1" height="14"/><rect x="726" y="224" width="2" height="1"/><rect x="729" y="231" width="2" height="1"/><rect x="734" y="234" width="1" height="18"/><rect x="732" y="234" width="2" height="1"/><rect x="735" y="251" width="2" height="1"/><rect x="740" y="252" width="1" height="21"/><rect x="738" y="254" width="2" height="1"/><rect x="741" y="268" width="2" height="1"/><rect x="746" y="250" width="1" height="25"/><rect x="744" y="268" width="2" height="1"/><rect x="747" y="250" width="2" height="1"/><rect x="752" y="243" width="1" height="39"/><rect x="750" y="248" width="2" height="1"/><rect x="753" y="275" width="2" height="1"/><rect x="757" y="271" width="1" height="37"/><rect x="755" y="278" width="2" height="1"/><rect x="758" y="302" width="2" height="1"/><rect x="763" y="294" width="1" height="23"/><rect x="761" y="302" width="2" height="1"/><rect x="764" y="315" width="2" height="1"/><rect x="769" y="284" width="1" height="30"/><rect x="767" y="313" width="2" height="1"/><rect x="770" y="308" width="2" height="1"/><rect x="775" y="297" width="1" height="34"/><rect x="773" y="307" width="2" height="1"/><rect x="776" y="316" width="2" height="1"/><rect x="781" y="290" width="1" height="19"/><rect x="779" y="308" width="2" height="1"/><rect x="782" y="291" width="2" height="1"/><rect x="787" y="271" width="1" height="24"/><rect x="785" y="290" width="2" height="1"/><rect x="788" y="272" width="2" height="1"/><rect x="793" y="270" width="1" height="31"/><rect x="791" y="274" width="2" height="1"/><rect x="794" y="289" width="2" height="1"/><rect x="798" y="258" width="1" height="37"/><rect x="796" y="289" width="2" height="1"/><rect x="799" y="260" width="2" height="1"/><rect x="804" y="255" width="1" height="18"/><rect x="802" y="261" width="2" height="1"/><rect x="805" y="263" width="2" height="1"/><rect x="810" y="254" width="1" height="15"/><rect x="808" y="264" width="2" height="1"/><rect x="811" y="258" width="2" height="1"/><rect x="816" y="246" width="1" height="23"/><rect x="814" y="258" width="2" height="1"/><rect x="817" y="249" width="2" height="1"/><rect x="822" y="252" width="1" height="19"/><rect x="820" y="252" width="2" height="1"/><rect x="823" y="268" width="2" height="1"/><rect x="828" y="246" width="1" height="37"/><rect x="826" y="267" width="2" height="1"/><rect x="829" y="278" width="2" height="1"/><rect x="834" y="274" width="1" height="17"/><rect x="832" y="278" width="2" height="1"/><rect x="835" y="280" width="2" height="1"/><rect x="839" y="277" width="1" height="13"/><rect x="837" y="280" width="2" height="1"/><rect x="840" y="280" width="2" height="1"/><rect x="845" y="271" width="1" height="16"/><rect x="843" y="278" width="2" height="1"/><rect x="846" y="272" width="2" height="1"/><rect x="851" y="258" width="1" height="19"/><rect x="849" y="270" width="2" height="1"/><rect x="852" y="260" width="2" height="1"/><rect x="857" y="257" width="1" height="18"/><rect x="855" y="260" width="2" height="1"/><rect x="858" y="262" width="2" height="1"/><rect x="863" y="247" width="1" height="20"/><rect x="861" y="261" width="2" height="1"/><rect x="864" y="250" width="2" height="1"/><rect x="869" y="234" width="1" height="25"/><rect x="867" y="252" width="2" height="1"/><rect x="870" y="241" width="2" height="1"/><rect x="875" y="236" width="1" height="17"/><rect x="873" y="243" width="2" height="1"/><rect x="876" y="246" width="2" height="1"/><rect x="881" y="238" width="1" height="15"/><rect x="879" y="246" width="2" height="1"/><rect x="882" y="248" width="2" height="1"/><rect x="886" y="252" width="1" height="15"/><rect x="884" y="252" width="2" height="1"/><rect x="887" y="264" width="2" height="1"/><rect x="892" y="252" width="1" height="17"/><rect x="890" y="260" width="2" height="1"/><rect x="893" y="253" width="2" height="1"/><rect x="898" y="249" width="1" height="32"/><rect x="896" y="252" width="2" height="1"/><rect x="899" y="278" width="2" height="1"/><rect x="904" y="263" width="1" height="22"/><rect x="902" y="280" width="2" height="1"/><rect x="905" y="270" width="2" height="1"/><rect x="910" y="254" width="1" height="19"/><rect x="908" y="269" width="2" height="1"/><rect x="911" y="262" width="2" height="1"/><rect x="916" y="244" width="1" height="23"/><rect x="914" y="260" width="2" height="1"/><rect x="917" y="245" width="2" height="1"/><rect x="922" y="242" width="1" height="10"/><rect x="920" y="246" width="2" height="1"/><rect x="923" y="246" width="2" height="1"/><rect x="927" y="238" width="1" height="13"/><rect x="925" y="248" width="2" height="1"/><rect x="928" y="241" width="2" height="1"/><rect x="933" y="237" width="1" height="9"/><rect x="931" y="241" width="2" height="1"/><rect x="934" y="242" width="2" height="1"/><rect x="939" y="237" width="1" height="17"/><rect x="937" y="242" width="2" height="1"/><rect x="940" y="237" width="2" height="1"/><rect x="945" y="235" width="1" height="19"/><rect x="943" y="237" width="2" height="1"/><rect x="946" y="241" width="2" height="1"/><rect x="951" y="239" width="1" height="9"/><rect x="949" y="241" width="2" height="1"/><rect x="952" y="243" width="2" height="1"/><rect x="957" y="232" width="1" height="15"/><rect x="955" y="242" width="2" height="1"/><rect x="958" y="234" width="2" height="1"/><rect x="963" y="232" width="1" height="15"/><rect x="961" y="234" width="2" height="1"/><rect x="964" y="233" width="2" height="1"/><rect x="968" y="222" width="1" height="17"/><rect x="966" y="230" width="2" height="1"/><rect x="969" y="223" width="2" height="1"/><rect x="974" y="218" width="1" height="10"/><rect x="972" y="223" width="2" height="1"/><rect x="975" y="222" width="2" height="1"/><rect x="980" y="203" width="1" height="20"/><rect x="978" y="220" width="2" height="1"/><rect x="981" y="208" width="2" height="1"/><rect x="986" y="209" width="1" height="8"/><rect x="984" y="210" width="2" height="1"/><rect x="987" y="216" width="2" height="1"/><rect x="992" y="202" width="1" height="18"/><rect x="990" y="216" width="2" height="1"/><rect x="993" y="203" width="2" height="1"/><rect x="998" y="203" width="1" height="10"/><rect x="996" y="203" width="2" height="1"/><rect x="999" y="210" width="2" height="1"/><rect x="1004" y="194" width="1" height="17"/><rect x="1002" y="210" width="2" height="1"/><rect x="1005" y="197" width="2" height="1"/><rect x="1010" y="188" width="1" height="11"/><rect x="1008" y="196" width="2" height="1"/><rect x="1011" y="193" width="2" height="1"/><rect x="1015" y="185" width="1" height="10"/><rect x="1013" y="193" width="2" height="1"/><rect x="1016" y="188" width="2" height="1"/><rect x="1021" y="187" width="1" height="14"/><rect x="1019" y="188" width="2" height="1"/><rect x="1022" y="200" width="2" height="1"/><rect x="1027" y="194" width="1" height="11"/><rect x="1025" y="198" width="2" height="1"/><rect x="1028" y="202" width="2" height="1"/><rect x="1033" y="199" width="1" height="20"/><rect x="1031" y="202" width="2" height="1"/><rect x="1034" y="213" width="2" height="1"/><rect x="1039" y="202" width="1" height="13"/><rect x="1037" y="211" width="2" height="1"/><rect x="1040" y="208" width="2" height="1"/><rect x="1045" y="193" width="1" height="15"/><rect x="1043" y="206" width="2" height="1"/><rect x="1046" y="196" width="2" height="1"/><rect x="1051" y="196" width="1" height="11"/><rect x="1049" y="196" width="2" height="1"/><rect x="1052" y="202" width="2" height="1"/><rect x="1056" y="196" width="1" height="9"/><rect x="1054" y="200" width="2" height="1"/><rect x="1057" y="203" width="2" height="1"/><rect x="1062" y="201" width="1" height="20"/><rect x="1060" y="204" width="2" height="1"/><rect x="1063" y="220" width="2" height="1"/><rect x="1068" y="216" width="1" height="15"/><rect x="1066" y="220" width="2" height="1"/><rect x="1069" y="224" width="2" height="1"/><rect x="1074" y="218" width="1" height="14"/><rect x="1072" y="224" width="2" height="1"/><rect x="1075" y="220" width="2" height="1"/><rect x="1080" y="211" width="1" height="14"/><rect x="1078" y="222" width="2" height="1"/><rect x="1081" y="218" width="2" height="1"/><rect x="1086" y="210" width="1" height="21"/><rect x="1084" y="216" width="2" height="1"/><rect x="1087" y="230" width="2" height="1"/><rect x="1092" y="226" width="1" height="21"/><rect x="1090" y="232" width="2" height="1"/><rect x="1093" y="242" width="2" height="1"/><rect x="1097" y="212" width="1" height="31"/><rect x="1095" y="242" width="2" height="1"/><rect x="1098" y="214" width="2" height="1"/><rect x="1103" y="207" width="1" height="11"/><rect x="1101" y="213" width="2" height="1"/><rect x="1104" y="208" width="2" height="1"/><rect x="1109" y="196" width="1" height="16"/><rect x="1107" y="208" width="2" height="1"/><rect x="1110" y="196" width="2" height="1"/><rect x="1115" y="191" width="1" height="7"/><rect x="1113" y="196" width="2" height="1"/><rect x="1116" y="191" width="2" height="1"/><rect x="1121" y="187" width="1" height="7"/><rect x="1119" y="192" width="2" height="1"/><rect x="1122" y="187" width="2" height="1"/><rect x="1127" y="185" width="1" height="9"/><rect x="1125" y="190" width="2" height="1"/><rect x="1128" y="187" width="2" height="1"/><rect x="1133" y="172" width="1" height="16"/><rect x="1131" y="187" width="2" height="1"/><rect x="1134" y="173" width="2" height="1"/><rect x="1138" y="167" width="1" height="10"/><rect x="1136" y="173" width="2" height="1"/><rect x="1139" y="169" width="2" height="1"/><rect x="1144" y="165" width="1" height="5"/><rect x="1142" y="168" width="2" height="1"/><rect x="1145" y="167" width="2" height="1"/><rect x="1150" y="169" width="1" height="10"/><rect x="1148" y="170" width="2" height="1"/><rect x="1151" y="175" width="2" height="1"/><rect x="1156" y="164" width="1" height="13"/><rect x="1154" y="175" width="2" height="1"/><rect x="1157" y="167" width="2" height="1"/><rect x="1162" y="160" width="1" height="15"/><rect x="1160" y="167" width="2" height="1"/><rect x="1163" y="160" width="2" height="1"/><rect x="1168" y="154" width="1" height="6"/><rect x="1166" y="158" width="2" height="1"/><rect x="1169" y="154" width="2" height="1"/><rect x="1174" y="145" width="1" height="16"/><rect x="1172" y="154" width="2" height="1"/><rect x="1175" y="148" width="2" height="1"/><rect x="1180" y="140" width="1" height="12"/><rect x="1178" y="148" width="2" height="1"/><rect x="1181" y="141" width="2" height="1"/><rect x="1185" y="138" width="1" height="15"/><rect x="1183" y="140" width="2" height="1"/><rect x="1186" y="142" width="2" height="1"/><rect x="1191" y="131" width="1" height="19"/><rect x="1189" y="144" width="2" height="1"/><rect x="1192" y="134" width="2" height="1"/><rect x="1197" y="128" width="1" height="11"/><rect x="1195" y="133" width="2" height="1"/><rect x="1198" y="129" width="2" height="1"/><rect x="1203" y="123" width="1" height="16"/><rect x="1201" y="129" width="2" height="1"/><rect x="1204" y="130" width="2" height="1"/><rect x="1209" y="124" width="1" height="11"/><rect x="1207" y="131" width="2" height="1"/><rect x="1210" y="131" width="2" height="1"/><rect x="1215" y="116" width="1" height="15"/><rect x="1213" y="127" width="2" height="1"/><rect x="1216" y="120" width="2" height="1"/><rect x="1221" y="116" width="1" height="7"/><rect x="1219" y="120" width="2" height="1"/><rect x="1222" y="117" width="2" height="1"/><rect x="1226" y="116" width="1" height="13"/><rect x="1224" y="117" width="2" height="1"/><rect x="1227" y="122" width="2" height="1"/><rect x="1232" y="120" width="1" height="13"/><rect x="1230" y="121" width="2" height="1"/><rect x="1233" y="130" width="2" height="1"/><rect x="1238" y="126" width="1" height="23"/><rect x="1236" y="127" width="2" height="1"/><rect x="1239" y="146" width="2" height="1"/><rect x="1244" y="132" width="1" height="16"/><rect x="1242" y="144" width="2" height="1"/><rect x="1245" y="132" width="2" height="1"/><rect x="1250" y="130" width="1" height="13"/><rect x="1248" y="131" width="2" height="1"/><rect x="1251" y="130" width="2" height="1"/><rect x="1256" y="118" width="1" height="11"/><rect x="1254" y="128" width="2" height="1"/><rect x="1257" y="120" width="2" height="1"/><rect x="1262" y="110" width="1" height="13"/><rect x="1260" y="120" width="2" height="1"/><rect x="1263" y="112" width="2" height="1"/><rect x="1267" y="108" width="1" height="11"/><rect x="1265" y="112" width="2" height="1"/><rect x="1268" y="112" width="2" height="1"/><rect x="1273" y="111" width="1" height="14"/><rect x="1271" y="111" width="2" height="1"/><rect x="1274" y="115" width="2" height="1"/><rect x="1279" y="105" width="1" height="16"/><rect x="1277" y="114" width="2" height="1"/><rect x="1280" y="108" width="2" height="1"/><rect x="1285" y="98" width="1" height="14"/><rect x="1283" y="108" width="2" height="1"/><rect x="1286" y="100" width="2" height="1"/><rect x="1291" y="93" width="1" height="10"/><rect x="1289" y="100" width="2" height="1"/><rect x="1292" y="98" width="2" height="1"/><rect x="1297" y="91" width="1" height="9"/><rect x="1295" y="97" width="2" height="1"/><rect x="1298" y="97" width="2" height="1"/><rect x="1303" y="87" width="1" height="13"/><rect x="1301" y="96" width="2" height="1"/><rect x="1304" y="87" width="2" height="1"/><rect x="1309" y="79" width="1" height="10"/><rect x="1307" y="86" width="2" height="1"/><rect x="1310" y="83" width="2" height="1"/><rect x="1314" y="78" width="1" height="17"/><rect x="1312" y="80" width="2" height="1"/><rect x="1315" y="93" width="2" height="1"/><rect x="1320" y="85" width="1" height="21"/><rect x="1318" y="89" width="2" height="1"/><rect x="1321" y="98" width="2" height="1"/><rect x="1326" y="87" width="1" height="27"/><rect x="1324" y="95" width="2" height="1"/><rect x="1327" y="108" width="2" height="1"/><rect x="1332" y="108" width="1" height="25"/><rect x="1330" y="127" width="2" height="1"/><rect x="1333" y="108" width="2" height="1"/><rect x="1338" y="88" width="1" height="23"/><rect x="1336" y="108" width="2" height="1"/><rect x="1339" y="88" width="2" height="1"/><rect x="1344" y="81" width="1" height="9"/><rect x="1342" y="88" width="2" height="1"/><rect x="1345" y="81" width="2" height="1"/><rect x="1350" y="79" width="1" height="10"/><rect x="1348" y="80" width="2" height="1"/><rect x="1351" y="80" width="2" height="1"/><rect x="1355" y="82" width="1" height="22"/><rect x="1353" y="82" width="2" height="1"/><rect x="1356" y="102" width="2" height="1"/><rect x="1361" y="82" width="1" height="21"/><rect x="1359" y="99" width="2" height="1"/><rect x="1362" y="83" width="2" height="1"/><rect x="1367" y="72" width="1" height="13"/><rect x="1365" y="84" width="2" height="1"/><rect x="1368" y="76" width="2" height="1"/><rect x="1373" y="69" width="1" height="8"/><rect x="1371" y="74" width="2" height="1"/><rect x="1374" y="71" width="2" height="1"/><rect x="1379" y="70" width="1" height="9"/><rect x="1377" y="72" width="2" height="1"/><rect x="1380" y="71" width="2" height="1"/><rect x="1385" y="64" width="1" height="14"/><rect x="1383" y="71" width="2" height="1"/><rect x="1386" y="64" width="2" height="1"/><rect x="1391" y="60" width="1" height="7"/><rect x="1389" y="63" width="2" height="1"/><rect x="1392" y="60" width="2" height="1"/><rect x="1396" y="60" width="1" height="11"/><rect x="1394" y="61" width="2" height="1"/><rect x="1397" y="66" width="2" height="1"/><rect x="1402" y="62" width="1" height="13"/><rect x="1400" y="63" width="2" height="1"/><rect x="1403" y="72" width="2" height="1"/><rect x="1408" y="47" width="1" height="30"/><rect x="1406" y="72" width="2" height="1"/><rect x="1409" y="48" width="2" height="1"/><rect x="1414" y="47" width="1" height="16"/><rect x="1412" y="47" width="2" height="1"/><rect x="1415" y="60" width="2" height="1"/><rect x="1420" y="50" width="1" height="13"/><rect x="1418" y="60" width="2" height="1"/><rect x="1421" y="51" width="2" height="1"/><rect x="1426" y="44" width="1" height="9"/><rect x="1424" y="49" width="2" height="1"/><rect x="1427" y="45" width="2" height="1"/><rect x="1432" y="40" width="1" height="6"/><rect x="1430" y="45" width="2" height="1"/><rect x="1433" y="41" width="2" height="1"/><rect x="1437" y="40" width="1" height="7"/><rect x="1435" y="41" width="2" height="1"/><rect x="1438" y="44" width="2" height="1"/><rect x="1443" y="41" width="1" height="24"/><rect x="1441" y="43" width="2" height="1"/><rect x="1444" y="54" width="2" height="1"/><rect x="1449" y="44" width="1" height="15"/><rect x="1447" y="53" width="2" height="1"/><rect x="1450" y="51" width="2" height="1"/><rect x="1455" y="52" width="1" height="13"/><rect x="1453" y="55" width="2" height="1"/><rect x="1456" y="54" width="2" height="1"/><rect x="1461" y="46" width="1" height="20"/><rect x="1459" y="50" width="2" height="1"/><rect x="1462" y="63" width="2" height="1"/><rect x="1467" y="47" width="1" height="22"/><rect x="1465" y="67" width="2" height="1"/><rect x="1468" y="48" width="2" height="1"/><rect x="1473" y="38" width="1" height="11"/><rect x="1471" y="48" width="2" height="1"/><rect x="1474" y="40" width="2" height="1"/><rect x="1479" y="39" width="1" height="14"/><rect x="1477" y="41" width="2" height="1"/><rect x="1480" y="51" width="2" height="1"/><rect x="1484" y="40" width="1" height="17"/><rect x="1482" y="52" width="2" height="1"/><rect x="1485" y="46" width="2" height="1"/><rect x="1490" y="38" width="1" height="11"/><rect x="1488" y="43" width="2" height="1"/><rect x="1491" y="38" width="2" height="1"/><rect x="1496" y="36" width="1" height="12"/><rect x="1494" y="37" width="2" height="1"/><rect x="1497" y="47" width="2" height="1"/><rect x="1502" y="45" width="1" height="18"/><rect x="1500" y="46" width="2" height="1"/><rect x="1503" y="52" width="2" height="1"/><rect x="1508" y="49" width="1" height="31"/><rect x="1506" y="52" width="2" height="1"/><rect x="1509" y="69" width="2" height="1"/><rect x="1514" y="74" width="1" height="20"/><rect x="1512" y="74" width="2" height="1"/><rect x="1515" y="80" width="2" height="1"/><rect x="1520" y="73" width="1" height="13"/><rect x="1518" y="81" width="2" height="1"/><rect x="1521" y="78" width="2" height="1"/><rect x="1525" y="68" width="1" height="20"/><rect x="1523" y="73" width="2" height="1"/><rect x="1526" y="86" width="2" height="1"/><rect x="1531" y="76" width="1" height="61"/><rect x="1529" y="91" width="2" height="1"/><rect x="1532" y="136" width="2" height="1"/><rect x="1537" y="95" width="1" height="67"/><rect x="1535" y="148" width="2" height="1"/><rect x="1538" y="106" width="2" height="1"/><rect x="1543" y="98" width="1" height="23"/><rect x="1541" y="100" width="2" height="1"/><rect x="1544" y="114" width="2" height="1"/><rect x="1549" y="95" width="1" height="39"/><rect x="1547" y="119" width="2" height="1"/><rect x="1550" y="96" width="2" height="1"/></g><g fill="#fff"><rect x="17" y="29" width="160" height="11.5"/><rect x="17" y="40" width="89" height="23"/></g><path d="M18.8 32.6 L20 31.8 V37.6 M22.9 33.6 V39.4 M21.3 37.6 L22.9 39.6 L24.5 37.6 M26.2 31.8 V37.8 L27.4 36.4" stroke="#000" stroke-width="1.1" fill="none"/><text x="32" y="38.7" font-size="8.9" font-family="'DejaVu Sans', Verdana, sans-serif" fill="#000" textLength="131" lengthAdjust="spacingAndGlyphs" letter-spacing="0.7">$SPX (Weekly) 5475.56</text><rect x="19" y="45" width="8.5" height="2" fill="#1a1a6a"/><text x="30" y="49.5" font-size="8.6" font-family="'DejaVu Sans', Verdana, sans-serif" fill="#12125c" textLength="68" lengthAdjust="spacingAndGlyphs">MA(40) 5755.26</text><rect x="19" y="56" width="8.5" height="2" fill="#b0103a"/><text x="30" y="60.5" font-size="8.6" font-family="'DejaVu Sans', Verdana, sans-serif" fill="#920a34" textLength="73" lengthAdjust="spacingAndGlyphs">MA(150) 4778.91</text><g stroke="#999" shape-rendering="crispEdges"><line x1="1556" y1="444.5" x2="1559" y2="444.5"/><line x1="1556" y1="408.5" x2="1559" y2="408.5"/><line x1="1556" y1="375.5" x2="1559" y2="375.5"/><line x1="1556" y1="343.5" x2="1559" y2="343.5"/><line x1="1556" y1="314.5" x2="1559" y2="314.5"/><line x1="1556" y1="286.5" x2="1559" y2="286.5"/><line x1="1556" y1="259.5" x2="1559" y2="259.5"/><line x1="1556" y1="234.5" x2="1559" y2="234.5"/><line x1="1556" y1="209.5" x2="1559" y2="209.5"/><line x1="1556" y1="186.5" x2="1559" y2="186.5"/><line x1="1556" y1="164.5" x2="1559" y2="164.5"/><line x1="1556" y1="143.5" x2="1559" y2="143.5"/><line x1="1556" y1="123.5" x2="1559" y2="123.5"/><line x1="1556" y1="103.5" x2="1559" y2="103.5"/><line x1="1556" y1="84.5" x2="1559" y2="84.5"/><line x1="1556" y1="66.5" x2="1559" y2="66.5"/><line x1="1556" y1="48.5" x2="1559" y2="48.5"/><line x1="1556" y1="31.5" x2="1559" y2="31.5"/><line x1="1556" y1="453.5" x2="1558" y2="453.5"/><line x1="1556" y1="435.5" x2="1558" y2="435.5"/><line x1="1556" y1="426.5" x2="1558" y2="426.5"/><line x1="1556" y1="417.5" x2="1558" y2="417.5"/><line x1="1556" y1="400.5" x2="1558" y2="400.5"/><line x1="1556" y1="391.5" x2="1558" y2="391.5"/><line x1="1556" y1="383.5" x2="1558" y2="383.5"/><line x1="1556" y1="367.5" x2="1558" y2="367.5"/><line x1="1556" y1="359.5" x2="1558" y2="359.5"/><line x1="1556" y1="351.5" x2="1558" y2="351.5"/><line x1="1556" y1="336.5" x2="1558" y2="336.5"/><line x1="1556" y1="328.5" x2="1558" y2="328.5"/><line x1="1556" y1="321.5" x2="1558" y2="321.5"/><line x1="1556" y1="306.5" x2="1558" y2="306.5"/><line x1="1556" y1="299.5" x2="1558" y2="299.5"/><line x1="1556" y1="292.5" x2="1558" y2="292.5"/><line x1="1556" y1="279.5" x2="1558" y2="279.5"/><line x1="1556" y1="272.5" x2="1558" y2="272.5"/><line x1="1556" y1="265.5" x2="1558" y2="265.5"/><line x1="1556" y1="252.5" x2="1558" y2="252.5"/><line x1="1556" y1="246.5" x2="1558" y2="246.5"/><line x1="1556" y1="240.5" x2="1558" y2="240.5"/><line x1="1556" y1="227.5" x2="1558" y2="227.5"/><line x1="1556" y1="221.5" x2="1558" y2="221.5"/><line x1="1556" y1="215.5" x2="1558" y2="215.5"/><line x1="1556" y1="204.5" x2="1558" y2="204.5"/><line x1="1556" y1="198.5" x2="1558" y2="198.5"/><line x1="1556" y1="192.5" x2="1558" y2="192.5"/><line x1="1556" y1="181.5" x2="1558" y2="181.5"/><line x1="1556" y1="175.5" x2="1558" y2="175.5"/><line x1="1556" y1="170.5" x2="1558" y2="170.5"/><line x1="1556" y1="159.5" x2="1558" y2="159.5"/><line x1="1556" y1="154.5" x2="1558" y2="154.5"/><line x1="1556" y1="148.5" x2="1558" y2="148.5"/><line x1="1556" y1="138.5" x2="1558" y2="138.5"/><line x1="1556" y1="133.5" x2="1558" y2="133.5"/><line x1="1556" y1="128.5" x2="1558" y2="128.5"/><line x1="1556" y1="118.5" x2="1558" y2="118.5"/><line x1="1556" y1="113.5" x2="1558" y2="113.5"/><line x1="1556" y1="108.5" x2="1558" y2="108.5"/><line x1="1556" y1="98.5" x2="1558" y2="98.5"/><line x1="1556" y1="94.5" x2="1558" y2="94.5"/><line x1="1556" y1="89.5" x2="1558" y2="89.5"/><line x1="1556" y1="80.5" x2="1558" y2="80.5"/><line x1="1556" y1="75.5" x2="1558" y2="75.5"/><line x1="1556" y1="71.5" x2="1558" y2="71.5"/><line x1="1556" y1="62.5" x2="1558" y2="62.5"/><line x1="1556" y1="57.5" x2="1558" y2="57.5"/><line x1="1556" y1="53.5" x2="1558" y2="53.5"/><line x1="1556" y1="44.5" x2="1558" y2="44.5"/><line x1="1556" y1="40.5" x2="1558" y2="40.5"/><line x1="1556" y1="36.5" x2="1558" y2="36.5"/></g><text x="1583" y="446.79" font-size="9.2" font-family="'DejaVu Sans', Verdana, sans-serif" fill="#000" text-anchor="end" textLength="23" lengthAdjust="spacingAndGlyphs">2800</text><text x="1583" y="410.97" font-size="9.2" font-family="'DejaVu Sans', Verdana, sans-serif" fill="#000" text-anchor="end" textLength="23" lengthAdjust="spacingAndGlyphs">3000</text><text x="1583" y="377.46" font-size="9.2" font-family="'DejaVu Sans', Verdana, sans-serif" fill="#000" text-anchor="end" textLength="23" lengthAdjust="spacingAndGlyphs">3200</text><text x="1583" y="345.99" font-size="9.2" font-family="'DejaVu Sans', Verdana, sans-serif" fill="#000" text-anchor="end" textLength="23" lengthAdjust="spacingAndGlyphs">3400</text><text x="1583" y="316.32" font-size="9.2" font-family="'DejaVu Sans', Verdana, sans-serif" fill="#000" text-anchor="end" textLength="23" lengthAdjust="spacingAndGlyphs">3600</text><text x="1583" y="288.25" font-size="9.2" font-family="'DejaVu Sans', Verdana, sans-serif" fill="#000" text-anchor="end" textLength="23" lengthAdjust="spacingAndGlyphs">3800</text><text x="1583" y="261.62" font-size="9.2" font-family="'DejaVu Sans', Verdana, sans-serif" fill="#000" text-anchor="end" textLength="23" lengthAdjust="spacingAndGlyphs">4000</text><text x="1583" y="236.28" font-size="9.2" font-family="'DejaVu Sans', Verdana, sans-serif" fill="#000" text-anchor="end" textLength="23" lengthAdjust="spacingAndGlyphs">4200</text><text x="1583" y="212.13" font-size="9.2" font-family="'DejaVu Sans', Verdana, sans-serif" fill="#000" text-anchor="end" textLength="23" lengthAdjust="spacingAndGlyphs">4400</text><text x="1583" y="189.06" font-size="9.2" font-family="'DejaVu Sans', Verdana, sans-serif" fill="#000" text-anchor="end" textLength="23" lengthAdjust="spacingAndGlyphs">4600</text><text x="1583" y="166.96" font-size="9.2" font-family="'DejaVu Sans', Verdana, sans-serif" fill="#000" text-anchor="end" textLength="23" lengthAdjust="spacingAndGlyphs">4800</text><text x="1583" y="145.77" font-size="9.2" font-family="'DejaVu Sans', Verdana, sans-serif" fill="#000" text-anchor="end" textLength="23" lengthAdjust="spacingAndGlyphs">5000</text><text x="1583" y="125.4" font-size="9.2" font-family="'DejaVu Sans', Verdana, sans-serif" fill="#000" text-anchor="end" textLength="23" lengthAdjust="spacingAndGlyphs">5200</text><text x="1583" y="105.81" font-size="9.2" font-family="'DejaVu Sans', Verdana, sans-serif" fill="#000" text-anchor="end" textLength="23" lengthAdjust="spacingAndGlyphs">5400</text><text x="1583" y="86.93" font-size="9.2" font-family="'DejaVu Sans', Verdana, sans-serif" fill="#000" text-anchor="end" textLength="23" lengthAdjust="spacingAndGlyphs">5600</text><text x="1583" y="68.71" font-size="9.2" font-family="'DejaVu Sans', Verdana, sans-serif" fill="#000" text-anchor="end" textLength="23" lengthAdjust="spacingAndGlyphs">5800</text><text x="1583" y="51.11" font-size="9.2" font-family="'DejaVu Sans', Verdana, sans-serif" fill="#000" text-anchor="end" textLength="23" lengthAdjust="spacingAndGlyphs">6000</text><text x="1583" y="34.09" font-size="9.2" font-family="'DejaVu Sans', Verdana, sans-serif" fill="#000" text-anchor="end" textLength="23" lengthAdjust="spacingAndGlyphs">6200</text><path d="M1554.3 69.4 L1558 64.5 H1599.3 V74.5 H1558 Z" fill="#fff" stroke="#1a1a6a" stroke-width="1.0"/><text x="1559" y="72.4" font-size="9.3" font-family="'DejaVu Sans', Verdana, sans-serif" fill="#000" textLength="38" lengthAdjust="spacingAndGlyphs">5755.26</text><path d="M1554.3 95.6 L1558 90.7 H1599.3 V100.6 H1558 Z" fill="#fff" stroke="#000" stroke-width="1.2"/><text x="1559" y="99.4" font-size="9.3" font-family="'DejaVu Sans', Verdana, sans-serif" fill="#000" font-weight="bold" textLength="37.8" lengthAdjust="spacingAndGlyphs">5475.56</text><path d="M1554.3 165.4 L1558 160.6 H1599.6 V170.4 H1558 Z" fill="#fff" stroke="#a8183e" stroke-width="1.4"/><text x="1559" y="168.8" font-size="9.3" font-family="'DejaVu Sans', Verdana, sans-serif" fill="#000" textLength="37" lengthAdjust="spacingAndGlyphs">4778.91</text><rect x="16.5" y="28.5" width="1540" height="436" fill="none" stroke="#b6b6b6" shape-rendering="crispEdges"/><g shape-rendering="crispEdges"><line x1="16" y1="464.5" x2="1557" y2="464.5" stroke="#b6b6b6"/><line x1="16" y1="478.5" x2="1557" y2="478.5" stroke="#b6b6b6"/><line x1="19.5" y1="465" x2="19.5" y2="466" stroke="#b8b8b8"/><line x1="19.5" y1="477" x2="19.5" y2="478" stroke="#b8b8b8"/><line x1="25.5" y1="465" x2="25.5" y2="466" stroke="#b8b8b8"/><line x1="25.5" y1="477" x2="25.5" y2="478" stroke="#b8b8b8"/><line x1="30.5" y1="465" x2="30.5" y2="467" stroke="#b8b8b8"/><line x1="30.5" y1="476" x2="30.5" y2="478" stroke="#b8b8b8"/><line x1="36.5" y1="465" x2="36.5" y2="466" stroke="#b8b8b8"/><line x1="36.5" y1="477" x2="36.5" y2="478" stroke="#b8b8b8"/><line x1="42.5" y1="465" x2="42.5" y2="466" stroke="#b8b8b8"/><line x1="42.5" y1="477" x2="42.5" y2="478" stroke="#b8b8b8"/><line x1="48.5" y1="465" x2="48.5" y2="466" stroke="#b8b8b8"/><line x1="48.5" y1="477" x2="48.5" y2="478" stroke="#b8b8b8"/><line x1="54.5" y1="465" x2="54.5" y2="467" stroke="#b8b8b8"/><line x1="54.5" y1="476" x2="54.5" y2="478" stroke="#b8b8b8"/><line x1="60.5" y1="465" x2="60.5" y2="466" stroke="#b8b8b8"/><line x1="60.5" y1="477" x2="60.5" y2="478" stroke="#b8b8b8"/><line x1="66.5" y1="465" x2="66.5" y2="466" stroke="#b8b8b8"/><line x1="66.5" y1="477" x2="66.5" y2="478" stroke="#b8b8b8"/><line x1="71.5" y1="465" x2="71.5" y2="466" stroke="#b8b8b8"/><line x1="71.5" y1="477" x2="71.5" y2="478" stroke="#b8b8b8"/><line x1="77.5" y1="465" x2="77.5" y2="466" stroke="#b8b8b8"/><line x1="77.5" y1="477" x2="77.5" y2="478" stroke="#b8b8b8"/><line x1="83.5" y1="465" x2="83.5" y2="467" stroke="#b8b8b8"/><line x1="83.5" y1="476" x2="83.5" y2="478" stroke="#b8b8b8"/><line x1="89.5" y1="465" x2="89.5" y2="466" stroke="#b8b8b8"/><line x1="89.5" y1="477" x2="89.5" y2="478" stroke="#b8b8b8"/><line x1="95.5" y1="465" x2="95.5" y2="466" stroke="#b8b8b8"/><line x1="95.5" y1="477" x2="95.5" y2="478" stroke="#b8b8b8"/><line x1="101.5" y1="465" x2="101.5" y2="466" stroke="#b8b8b8"/><line x1="101.5" y1="477" x2="101.5" y2="478" stroke="#b8b8b8"/><line x1="107.5" y1="465" x2="107.5" y2="467" stroke="#b8b8b8"/><line x1="107.5" y1="476" x2="107.5" y2="478" stroke="#b8b8b8"/><line x1="112.5" y1="465" x2="112.5" y2="466" stroke="#b8b8b8"/><line x1="112.5" y1="477" x2="112.5" y2="478" stroke="#b8b8b8"/><line x1="118.5" y1="465" x2="118.5" y2="466" stroke="#b8b8b8"/><line x1="118.5" y1="477" x2="118.5" y2="478" stroke="#b8b8b8"/><line x1="124.5" y1="465" x2="124.5" y2="466" stroke="#b8b8b8"/><line x1="124.5" y1="477" x2="124.5" y2="478" stroke="#b8b8b8"/><line x1="130.5" y1="465" x2="130.5" y2="466" stroke="#b8b8b8"/><line x1="130.5" y1="477" x2="130.5" y2="478" stroke="#b8b8b8"/><line x1="136.5" y1="465" x2="136.5" y2="467" stroke="#b8b8b8"/><line x1="136.5" y1="476" x2="136.5" y2="478" stroke="#b8b8b8"/><line x1="142.5" y1="465" x2="142.5" y2="466" stroke="#b8b8b8"/><line x1="142.5" y1="477" x2="142.5" y2="478" stroke="#b8b8b8"/><line x1="148.5" y1="465" x2="148.5" y2="466" stroke="#b8b8b8"/><line x1="148.5" y1="477" x2="148.5" y2="478" stroke="#b8b8b8"/><line x1="154.5" y1="465" x2="154.5" y2="466" stroke="#b8b8b8"/><line x1="154.5" y1="477" x2="154.5" y2="478" stroke="#b8b8b8"/><line x1="159.5" y1="465" x2="159.5" y2="467" stroke="#b8b8b8"/><line x1="159.5" y1="476" x2="159.5" y2="478" stroke="#b8b8b8"/><line x1="165.5" y1="465" x2="165.5" y2="466" stroke="#b8b8b8"/><line x1="165.5" y1="477" x2="165.5" y2="478" stroke="#b8b8b8"/><line x1="171.5" y1="465" x2="171.5" y2="466" stroke="#b8b8b8"/><line x1="171.5" y1="477" x2="171.5" y2="478" stroke="#b8b8b8"/><line x1="177.5" y1="465" x2="177.5" y2="466" stroke="#b8b8b8"/><line x1="177.5" y1="477" x2="177.5" y2="478" stroke="#b8b8b8"/><line x1="183.5" y1="465" x2="183.5" y2="467" stroke="#b8b8b8"/><line x1="183.5" y1="476" x2="183.5" y2="478" stroke="#b8b8b8"/><line x1="189.5" y1="465" x2="189.5" y2="466" stroke="#b8b8b8"/><line x1="189.5" y1="477" x2="189.5" y2="478" stroke="#b8b8b8"/><line x1="195.5" y1="465" x2="195.5" y2="466" stroke="#b8b8b8"/><line x1="195.5" y1="477" x2="195.5" y2="478" stroke="#b8b8b8"/><line x1="200.5" y1="465" x2="200.5" y2="466" stroke="#b8b8b8"/><line x1="200.5" y1="477" x2="200.5" y2="478" stroke="#b8b8b8"/><line x1="206.5" y1="465" x2="206.5" y2="466" stroke="#b8b8b8"/><line x1="206.5" y1="477" x2="206.5" y2="478" stroke="#b8b8b8"/><line x1="212.5" y1="465" x2="212.5" y2="467" stroke="#b8b8b8"/><line x1="212.5" y1="476" x2="212.5" y2="478" stroke="#b8b8b8"/><line x1="218.5" y1="465" x2="218.5" y2="466" stroke="#b8b8b8"/><line x1="218.5" y1="477" x2="218.5" y2="478" stroke="#b8b8b8"/><line x1="224.5" y1="465" x2="224.5" y2="466" stroke="#b8b8b8"/><line x1="224.5" y1="477" x2="224.5" y2="478" stroke="#b8b8b8"/><line x1="230.5" y1="465" x2="230.5" y2="466" stroke="#b8b8b8"/><line x1="230.5" y1="477" x2="230.5" y2="478" stroke="#b8b8b8"/><line x1="236.5" y1="465" x2="236.5" y2="467" stroke="#b8b8b8"/><line x1="236.5" y1="476" x2="236.5" y2="478" stroke="#b8b8b8"/><line x1="241.5" y1="465" x2="241.5" y2="466" stroke="#b8b8b8"/><line x1="241.5" y1="477" x2="241.5" y2="478" stroke="#b8b8b8"/><line x1="247.5" y1="465" x2="247.5" y2="466" stroke="#b8b8b8"/><line x1="247.5" y1="477" x2="247.5" y2="478" stroke="#b8b8b8"/><line x1="253.5" y1="465" x2="253.5" y2="466" stroke="#b8b8b8"/><line x1="253.5" y1="477" x2="253.5" y2="478" stroke="#b8b8b8"/><line x1="259.5" y1="465" x2="259.5" y2="467" stroke="#b8b8b8"/><line x1="259.5" y1="476" x2="259.5" y2="478" stroke="#b8b8b8"/><line x1="265.5" y1="465" x2="265.5" y2="466" stroke="#b8b8b8"/><line x1="265.5" y1="477" x2="265.5" y2="478" stroke="#b8b8b8"/><line x1="271.5" y1="465" x2="271.5" y2="466" stroke="#b8b8b8"/><line x1="271.5" y1="477" x2="271.5" y2="478" stroke="#b8b8b8"/><line x1="277.5" y1="465" x2="277.5" y2="466" stroke="#b8b8b8"/><line x1="277.5" y1="477" x2="277.5" y2="478" stroke="#b8b8b8"/><line x1="283.5" y1="465" x2="283.5" y2="467" stroke="#b8b8b8"/><line x1="283.5" y1="476" x2="283.5" y2="478" stroke="#b8b8b8"/><line x1="288.5" y1="465" x2="288.5" y2="466" stroke="#b8b8b8"/><line x1="288.5" y1="477" x2="288.5" y2="478" stroke="#b8b8b8"/><line x1="294.5" y1="465" x2="294.5" y2="466" stroke="#b8b8b8"/><line x1="294.5" y1="477" x2="294.5" y2="478" stroke="#b8b8b8"/><line x1="300.5" y1="465" x2="300.5" y2="466" stroke="#b8b8b8"/><line x1="300.5" y1="477" x2="300.5" y2="478" stroke="#b8b8b8"/><line x1="306.5" y1="465" x2="306.5" y2="466" stroke="#b8b8b8"/><line x1="306.5" y1="477" x2="306.5" y2="478" stroke="#b8b8b8"/><line x1="312.5" y1="465" x2="312.5" y2="467" stroke="#b8b8b8"/><line x1="312.5" y1="476" x2="312.5" y2="478" stroke="#b8b8b8"/><line x1="318.5" y1="465" x2="318.5" y2="466" stroke="#b8b8b8"/><line x1="318.5" y1="477" x2="318.5" y2="478" stroke="#b8b8b8"/><line x1="324.5" y1="465" x2="324.5" y2="466" stroke="#b8b8b8"/><line x1="324.5" y1="477" x2="324.5" y2="478" stroke="#b8b8b8"/><line x1="329.5" y1="465" x2="329.5" y2="466" stroke="#b8b8b8"/><line x1="329.5" y1="477" x2="329.5" y2="478" stroke="#b8b8b8"/><line x1="335.5" y1="465" x2="335.5" y2="467" stroke="#b8b8b8"/><line x1="335.5" y1="476" x2="335.5" y2="478" stroke="#b8b8b8"/><line x1="341.5" y1="465" x2="341.5" y2="466" stroke="#b8b8b8"/><line x1="341.5" y1="477" x2="341.5" y2="478" stroke="#b8b8b8"/><line x1="347.5" y1="465" x2="347.5" y2="466" stroke="#b8b8b8"/><line x1="347.5" y1="477" x2="347.5" y2="478" stroke="#b8b8b8"/><line x1="353.5" y1="465" x2="353.5" y2="466" stroke="#b8b8b8"/><line x1="353.5" y1="477" x2="353.5" y2="478" stroke="#b8b8b8"/><line x1="359.5" y1="465" x2="359.5" y2="467" stroke="#b8b8b8"/><line x1="359.5" y1="476" x2="359.5" y2="478" stroke="#b8b8b8"/><line x1="365.5" y1="465" x2="365.5" y2="466" stroke="#b8b8b8"/><line x1="365.5" y1="477" x2="365.5" y2="478" stroke="#b8b8b8"/><line x1="370.5" y1="465" x2="370.5" y2="466" stroke="#b8b8b8"/><line x1="370.5" y1="477" x2="370.5" y2="478" stroke="#b8b8b8"/><line x1="376.5" y1="465" x2="376.5" y2="466" stroke="#b8b8b8"/><line x1="376.5" y1="477" x2="376.5" y2="478" stroke="#b8b8b8"/><line x1="382.5" y1="465" x2="382.5" y2="466" stroke="#b8b8b8"/><line x1="382.5" y1="477" x2="382.5" y2="478" stroke="#b8b8b8"/><line x1="388.5" y1="465" x2="388.5" y2="467" stroke="#b8b8b8"/><line x1="388.5" y1="476" x2="388.5" y2="478" stroke="#b8b8b8"/><line x1="394.5" y1="465" x2="394.5" y2="466" stroke="#b8b8b8"/><line x1="394.5" y1="477" x2="394.5" y2="478" stroke="#b8b8b8"/><line x1="400.5" y1="465" x2="400.5" y2="466" stroke="#b8b8b8"/><line x1="400.5" y1="477" x2="400.5" y2="478" stroke="#b8b8b8"/><line x1="406.5" y1="465" x2="406.5" y2="466" stroke="#b8b8b8"/><line x1="406.5" y1="477" x2="406.5" y2="478" stroke="#b8b8b8"/><line x1="411.5" y1="465" x2="411.5" y2="467" stroke="#b8b8b8"/><line x1="411.5" y1="476" x2="411.5" y2="478" stroke="#b8b8b8"/><line x1="417.5" y1="465" x2="417.5" y2="466" stroke="#b8b8b8"/><line x1="417.5" y1="477" x2="417.5" y2="478" stroke="#b8b8b8"/><line x1="423.5" y1="465" x2="423.5" y2="466" stroke="#b8b8b8"/><line x1="423.5" y1="477" x2="423.5" y2="478" stroke="#b8b8b8"/><line x1="429.5" y1="465" x2="429.5" y2="466" stroke="#b8b8b8"/><line x1="429.5" y1="477" x2="429.5" y2="478" stroke="#b8b8b8"/><line x1="435.5" y1="465" x2="435.5" y2="466" stroke="#b8b8b8"/><line x1="435.5" y1="477" x2="435.5" y2="478" stroke="#b8b8b8"/><line x1="441.5" y1="465" x2="441.5" y2="467" stroke="#b8b8b8"/><line x1="441.5" y1="476" x2="441.5" y2="478" stroke="#b8b8b8"/><line x1="447.5" y1="465" x2="447.5" y2="466" stroke="#b8b8b8"/><line x1="447.5" y1="477" x2="447.5" y2="478" stroke="#b8b8b8"/><line x1="453.5" y1="465" x2="453.5" y2="466" stroke="#b8b8b8"/><line x1="453.5" y1="477" x2="453.5" y2="478" stroke="#b8b8b8"/><line x1="458.5" y1="465" x2="458.5" y2="466" stroke="#b8b8b8"/><line x1="458.5" y1="477" x2="458.5" y2="478" stroke="#b8b8b8"/><line x1="464.5" y1="465" x2="464.5" y2="467" stroke="#b8b8b8"/><line x1="464.5" y1="476" x2="464.5" y2="478" stroke="#b8b8b8"/><line x1="470.5" y1="465" x2="470.5" y2="466" stroke="#b8b8b8"/><line x1="470.5" y1="477" x2="470.5" y2="478" stroke="#b8b8b8"/><line x1="476.5" y1="465" x2="476.5" y2="466" stroke="#b8b8b8"/><line x1="476.5" y1="477" x2="476.5" y2="478" stroke="#b8b8b8"/><line x1="482.5" y1="465" x2="482.5" y2="466" stroke="#b8b8b8"/><line x1="482.5" y1="477" x2="482.5" y2="478" stroke="#b8b8b8"/><line x1="488.5" y1="465" x2="488.5" y2="467" stroke="#b8b8b8"/><line x1="488.5" y1="476" x2="488.5" y2="478" stroke="#b8b8b8"/><line x1="494.5" y1="465" x2="494.5" y2="466" stroke="#b8b8b8"/><line x1="494.5" y1="477" x2="494.5" y2="478" stroke="#b8b8b8"/><line x1="499.5" y1="465" x2="499.5" y2="466" stroke="#b8b8b8"/><line x1="499.5" y1="477" x2="499.5" y2="478" stroke="#b8b8b8"/><line x1="505.5" y1="465" x2="505.5" y2="466" stroke="#b8b8b8"/><line x1="505.5" y1="477" x2="505.5" y2="478" stroke="#b8b8b8"/><line x1="511.5" y1="465" x2="511.5" y2="466" stroke="#b8b8b8"/><line x1="511.5" y1="477" x2="511.5" y2="478" stroke="#b8b8b8"/><line x1="517.5" y1="465" x2="517.5" y2="467" stroke="#b8b8b8"/><line x1="517.5" y1="476" x2="517.5" y2="478" stroke="#b8b8b8"/><line x1="523.5" y1="465" x2="523.5" y2="466" stroke="#b8b8b8"/><line x1="523.5" y1="477" x2="523.5" y2="478" stroke="#b8b8b8"/><line x1="529.5" y1="465" x2="529.5" y2="466" stroke="#b8b8b8"/><line x1="529.5" y1="477" x2="529.5" y2="478" stroke="#b8b8b8"/><line x1="535.5" y1="465" x2="535.5" y2="466" stroke="#b8b8b8"/><line x1="535.5" y1="477" x2="535.5" y2="478" stroke="#b8b8b8"/><line x1="540.5" y1="465" x2="540.5" y2="467" stroke="#b8b8b8"/><line x1="540.5" y1="476" x2="540.5" y2="478" stroke="#b8b8b8"/><line x1="546.5" y1="465" x2="546.5" y2="466" stroke="#b8b8b8"/><line x1="546.5" y1="477" x2="546.5" y2="478" stroke="#b8b8b8"/><line x1="552.5" y1="465" x2="552.5" y2="466" stroke="#b8b8b8"/><line x1="552.5" y1="477" x2="552.5" y2="478" stroke="#b8b8b8"/><line x1="558.5" y1="465" x2="558.5" y2="466" stroke="#b8b8b8"/><line x1="558.5" y1="477" x2="558.5" y2="478" stroke="#b8b8b8"/><line x1="564.5" y1="465" x2="564.5" y2="466" stroke="#b8b8b8"/><line x1="564.5" y1="477" x2="564.5" y2="478" stroke="#b8b8b8"/><line x1="570.5" y1="465" x2="570.5" y2="467" stroke="#b8b8b8"/><line x1="570.5" y1="476" x2="570.5" y2="478" stroke="#b8b8b8"/><line x1="576.5" y1="465" x2="576.5" y2="466" stroke="#b8b8b8"/><line x1="576.5" y1="477" x2="576.5" y2="478" stroke="#b8b8b8"/><line x1="582.5" y1="465" x2="582.5" y2="466" stroke="#b8b8b8"/><line x1="582.5" y1="477" x2="582.5" y2="478" stroke="#b8b8b8"/><line x1="587.5" y1="465" x2="587.5" y2="466" stroke="#b8b8b8"/><line x1="587.5" y1="477" x2="587.5" y2="478" stroke="#b8b8b8"/><line x1="593.5" y1="465" x2="593.5" y2="467" stroke="#b8b8b8"/><line x1="593.5" y1="476" x2="593.5" y2="478" stroke="#b8b8b8"/><line x1="599.5" y1="465" x2="599.5" y2="466" stroke="#b8b8b8"/><line x1="599.5" y1="477" x2="599.5" y2="478" stroke="#b8b8b8"/><line x1="605.5" y1="465" x2="605.5" y2="466" stroke="#b8b8b8"/><line x1="605.5" y1="477" x2="605.5" y2="478" stroke="#b8b8b8"/><line x1="611.5" y1="465" x2="611.5" y2="466" stroke="#b8b8b8"/><line x1="611.5" y1="477" x2="611.5" y2="478" stroke="#b8b8b8"/><line x1="617.5" y1="465" x2="617.5" y2="467" stroke="#b8b8b8"/><line x1="617.5" y1="476" x2="617.5" y2="478" stroke="#b8b8b8"/><line x1="623.5" y1="465" x2="623.5" y2="466" stroke="#b8b8b8"/><line x1="623.5" y1="477" x2="623.5" y2="478" stroke="#b8b8b8"/><line x1="628.5" y1="465" x2="628.5" y2="466" stroke="#b8b8b8"/><line x1="628.5" y1="477" x2="628.5" y2="478" stroke="#b8b8b8"/><line x1="634.5" y1="465" x2="634.5" y2="466" stroke="#b8b8b8"/><line x1="634.5" y1="477" x2="634.5" y2="478" stroke="#b8b8b8"/><line x1="640.5" y1="465" x2="640.5" y2="467" stroke="#b8b8b8"/><line x1="640.5" y1="476" x2="640.5" y2="478" stroke="#b8b8b8"/><line x1="646.5" y1="465" x2="646.5" y2="466" stroke="#b8b8b8"/><line x1="646.5" y1="477" x2="646.5" y2="478" stroke="#b8b8b8"/><line x1="652.5" y1="465" x2="652.5" y2="466" stroke="#b8b8b8"/><line x1="652.5" y1="477" x2="652.5" y2="478" stroke="#b8b8b8"/><line x1="658.5" y1="465" x2="658.5" y2="466" stroke="#b8b8b8"/><line x1="658.5" y1="477" x2="658.5" y2="478" stroke="#b8b8b8"/><line x1="664.5" y1="465" x2="664.5" y2="466" stroke="#b8b8b8"/><line x1="664.5" y1="477" x2="664.5" y2="478" stroke="#b8b8b8"/><line x1="669.5" y1="465" x2="669.5" y2="467" stroke="#b8b8b8"/><line x1="669.5" y1="476" x2="669.5" y2="478" stroke="#b8b8b8"/><line x1="675.5" y1="465" x2="675.5" y2="466" stroke="#b8b8b8"/><line x1="675.5" y1="477" x2="675.5" y2="478" stroke="#b8b8b8"/><line x1="681.5" y1="465" x2="681.5" y2="466" stroke="#b8b8b8"/><line x1="681.5" y1="477" x2="681.5" y2="478" stroke="#b8b8b8"/><line x1="687.5" y1="465" x2="687.5" y2="466" stroke="#b8b8b8"/><line x1="687.5" y1="477" x2="687.5" y2="478" stroke="#b8b8b8"/><line x1="693.5" y1="465" x2="693.5" y2="467" stroke="#b8b8b8"/><line x1="693.5" y1="476" x2="693.5" y2="478" stroke="#b8b8b8"/><line x1="699.5" y1="465" x2="699.5" y2="466" stroke="#b8b8b8"/><line x1="699.5" y1="477" x2="699.5" y2="478" stroke="#b8b8b8"/><line x1="705.5" y1="465" x2="705.5" y2="466" stroke="#b8b8b8"/><line x1="705.5" y1="477" x2="705.5" y2="478" stroke="#b8b8b8"/><line x1="710.5" y1="465" x2="710.5" y2="466" stroke="#b8b8b8"/><line x1="710.5" y1="477" x2="710.5" y2="478" stroke="#b8b8b8"/><line x1="716.5" y1="465" x2="716.5" y2="467" stroke="#b8b8b8"/><line x1="716.5" y1="476" x2="716.5" y2="478" stroke="#b8b8b8"/><line x1="722.5" y1="465" x2="722.5" y2="466" stroke="#b8b8b8"/><line x1="722.5" y1="477" x2="722.5" y2="478" stroke="#b8b8b8"/><line x1="728.5" y1="465" x2="728.5" y2="466" stroke="#b8b8b8"/><line x1="728.5" y1="477" x2="728.5" y2="478" stroke="#b8b8b8"/><line x1="734.5" y1="465" x2="734.5" y2="466" stroke="#b8b8b8"/><line x1="734.5" y1="477" x2="734.5" y2="478" stroke="#b8b8b8"/><line x1="740.5" y1="465" x2="740.5" y2="466" stroke="#b8b8b8"/><line x1="740.5" y1="477" x2="740.5" y2="478" stroke="#b8b8b8"/><line x1="746.5" y1="465" x2="746.5" y2="467" stroke="#b8b8b8"/><line x1="746.5" y1="476" x2="746.5" y2="478" stroke="#b8b8b8"/><line x1="752.5" y1="465" x2="752.5" y2="466" stroke="#b8b8b8"/><line x1="752.5" y1="477" x2="752.5" y2="478" stroke="#b8b8b8"/><line x1="757.5" y1="465" x2="757.5" y2="466" stroke="#b8b8b8"/><line x1="757.5" y1="477" x2="757.5" y2="478" stroke="#b8b8b8"/><line x1="763.5" y1="465" x2="763.5" y2="466" stroke="#b8b8b8"/><line x1="763.5" y1="477" x2="763.5" y2="478" stroke="#b8b8b8"/><line x1="769.5" y1="465" x2="769.5" y2="467" stroke="#b8b8b8"/><line x1="769.5" y1="476" x2="769.5" y2="478" stroke="#b8b8b8"/><line x1="775.5" y1="465" x2="775.5" y2="466" stroke="#b8b8b8"/><line x1="775.5" y1="477" x2="775.5" y2="478" stroke="#b8b8b8"/><line x1="781.5" y1="465" x2="781.5" y2="466" stroke="#b8b8b8"/><line x1="781.5" y1="477" x2="781.5" y2="478" stroke="#b8b8b8"/><line x1="787.5" y1="465" x2="787.5" y2="466" stroke="#b8b8b8"/><line x1="787.5" y1="477" x2="787.5" y2="478" stroke="#b8b8b8"/><line x1="793.5" y1="465" x2="793.5" y2="466" stroke="#b8b8b8"/><line x1="793.5" y1="477" x2="793.5" y2="478" stroke="#b8b8b8"/><line x1="798.5" y1="465" x2="798.5" y2="467" stroke="#b8b8b8"/><line x1="798.5" y1="476" x2="798.5" y2="478" stroke="#b8b8b8"/><line x1="804.5" y1="465" x2="804.5" y2="466" stroke="#b8b8b8"/><line x1="804.5" y1="477" x2="804.5" y2="478" stroke="#b8b8b8"/><line x1="810.5" y1="465" x2="810.5" y2="466" stroke="#b8b8b8"/><line x1="810.5" y1="477" x2="810.5" y2="478" stroke="#b8b8b8"/><line x1="816.5" y1="465" x2="816.5" y2="466" stroke="#b8b8b8"/><line x1="816.5" y1="477" x2="816.5" y2="478" stroke="#b8b8b8"/><line x1="822.5" y1="465" x2="822.5" y2="467" stroke="#b8b8b8"/><line x1="822.5" y1="476" x2="822.5" y2="478" stroke="#b8b8b8"/><line x1="828.5" y1="465" x2="828.5" y2="466" stroke="#b8b8b8"/><line x1="828.5" y1="477" x2="828.5" y2="478" stroke="#b8b8b8"/><line x1="834.5" y1="465" x2="834.5" y2="466" stroke="#b8b8b8"/><line x1="834.5" y1="477" x2="834.5" y2="478" stroke="#b8b8b8"/><line x1="839.5" y1="465" x2="839.5" y2="466" stroke="#b8b8b8"/><line x1="839.5" y1="477" x2="839.5" y2="478" stroke="#b8b8b8"/><line x1="845.5" y1="465" x2="845.5" y2="467" stroke="#b8b8b8"/><line x1="845.5" y1="476" x2="845.5" y2="478" stroke="#b8b8b8"/><line x1="851.5" y1="465" x2="851.5" y2="466" stroke="#b8b8b8"/><line x1="851.5" y1="477" x2="851.5" y2="478" stroke="#b8b8b8"/><line x1="857.5" y1="465" x2="857.5" y2="466" stroke="#b8b8b8"/><line x1="857.5" y1="477" x2="857.5" y2="478" stroke="#b8b8b8"/><line x1="863.5" y1="465" x2="863.5" y2="466" stroke="#b8b8b8"/><line x1="863.5" y1="477" x2="863.5" y2="478" stroke="#b8b8b8"/><line x1="869.5" y1="465" x2="869.5" y2="466" stroke="#b8b8b8"/><line x1="869.5" y1="477" x2="869.5" y2="478" stroke="#b8b8b8"/><line x1="875.5" y1="465" x2="875.5" y2="467" stroke="#b8b8b8"/><line x1="875.5" y1="476" x2="875.5" y2="478" stroke="#b8b8b8"/><line x1="881.5" y1="465" x2="881.5" y2="466" stroke="#b8b8b8"/><line x1="881.5" y1="477" x2="881.5" y2="478" stroke="#b8b8b8"/><line x1="886.5" y1="465" x2="886.5" y2="466" stroke="#b8b8b8"/><line x1="886.5" y1="477" x2="886.5" y2="478" stroke="#b8b8b8"/><line x1="892.5" y1="465" x2="892.5" y2="466" stroke="#b8b8b8"/><line x1="892.5" y1="477" x2="892.5" y2="478" stroke="#b8b8b8"/><line x1="898.5" y1="465" x2="898.5" y2="467" stroke="#b8b8b8"/><line x1="898.5" y1="476" x2="898.5" y2="478" stroke="#b8b8b8"/><line x1="904.5" y1="465" x2="904.5" y2="466" stroke="#b8b8b8"/><line x1="904.5" y1="477" x2="904.5" y2="478" stroke="#b8b8b8"/><line x1="910.5" y1="465" x2="910.5" y2="466" stroke="#b8b8b8"/><line x1="910.5" y1="477" x2="910.5" y2="478" stroke="#b8b8b8"/><line x1="916.5" y1="465" x2="916.5" y2="466" stroke="#b8b8b8"/><line x1="916.5" y1="477" x2="916.5" y2="478" stroke="#b8b8b8"/><line x1="922.5" y1="465" x2="922.5" y2="467" stroke="#b8b8b8"/><line x1="922.5" y1="476" x2="922.5" y2="478" stroke="#b8b8b8"/><line x1="927.5" y1="465" x2="927.5" y2="466" stroke="#b8b8b8"/><line x1="927.5" y1="477" x2="927.5" y2="478" stroke="#b8b8b8"/><line x1="933.5" y1="465" x2="933.5" y2="466" stroke="#b8b8b8"/><line x1="933.5" y1="477" x2="933.5" y2="478" stroke="#b8b8b8"/><line x1="939.5" y1="465" x2="939.5" y2="466" stroke="#b8b8b8"/><line x1="939.5" y1="477" x2="939.5" y2="478" stroke="#b8b8b8"/><line x1="945.5" y1="465" x2="945.5" y2="467" stroke="#b8b8b8"/><line x1="945.5" y1="476" x2="945.5" y2="478" stroke="#b8b8b8"/><line x1="951.5" y1="465" x2="951.5" y2="466" stroke="#b8b8b8"/><line x1="951.5" y1="477" x2="951.5" y2="478" stroke="#b8b8b8"/><line x1="957.5" y1="465" x2="957.5" y2="466" stroke="#b8b8b8"/><line x1="957.5" y1="477" x2="957.5" y2="478" stroke="#b8b8b8"/><line x1="963.5" y1="465" x2="963.5" y2="466" stroke="#b8b8b8"/><line x1="963.5" y1="477" x2="963.5" y2="478" stroke="#b8b8b8"/><line x1="968.5" y1="465" x2="968.5" y2="466" stroke="#b8b8b8"/><line x1="968.5" y1="477" x2="968.5" y2="478" stroke="#b8b8b8"/><line x1="974.5" y1="465" x2="974.5" y2="467" stroke="#b8b8b8"/><line x1="974.5" y1="476" x2="974.5" y2="478" stroke="#b8b8b8"/><line x1="980.5" y1="465" x2="980.5" y2="466" stroke="#b8b8b8"/><line x1="980.5" y1="477" x2="980.5" y2="478" stroke="#b8b8b8"/><line x1="986.5" y1="465" x2="986.5" y2="466" stroke="#b8b8b8"/><line x1="986.5" y1="477" x2="986.5" y2="478" stroke="#b8b8b8"/><line x1="992.5" y1="465" x2="992.5" y2="466" stroke="#b8b8b8"/><line x1="992.5" y1="477" x2="992.5" y2="478" stroke="#b8b8b8"/><line x1="998.5" y1="465" x2="998.5" y2="467" stroke="#b8b8b8"/><line x1="998.5" y1="476" x2="998.5" y2="478" stroke="#b8b8b8"/><line x1="1004.5" y1="465" x2="1004.5" y2="466" stroke="#b8b8b8"/><line x1="1004.5" y1="477" x2="1004.5" y2="478" stroke="#b8b8b8"/><line x1="1010.5" y1="465" x2="1010.5" y2="466" stroke="#b8b8b8"/><line x1="1010.5" y1="477" x2="1010.5" y2="478" stroke="#b8b8b8"/><line x1="1015.5" y1="465" x2="1015.5" y2="466" stroke="#b8b8b8"/><line x1="1015.5" y1="477" x2="1015.5" y2="478" stroke="#b8b8b8"/><line x1="1021.5" y1="465" x2="1021.5" y2="466" stroke="#b8b8b8"/><line x1="1021.5" y1="477" x2="1021.5" y2="478" stroke="#b8b8b8"/><line x1="1027.5" y1="465" x2="1027.5" y2="467" stroke="#b8b8b8"/><line x1="1027.5" y1="476" x2="1027.5" y2="478" stroke="#b8b8b8"/><line x1="1033.5" y1="465" x2="1033.5" y2="466" stroke="#b8b8b8"/><line x1="1033.5" y1="477" x2="1033.5" y2="478" stroke="#b8b8b8"/><line x1="1039.5" y1="465" x2="1039.5" y2="466" stroke="#b8b8b8"/><line x1="1039.5" y1="477" x2="1039.5" y2="478" stroke="#b8b8b8"/><line x1="1045.5" y1="465" x2="1045.5" y2="466" stroke="#b8b8b8"/><line x1="1045.5" y1="477" x2="1045.5" y2="478" stroke="#b8b8b8"/><line x1="1051.5" y1="465" x2="1051.5" y2="467" stroke="#b8b8b8"/><line x1="1051.5" y1="476" x2="1051.5" y2="478" stroke="#b8b8b8"/><line x1="1056.5" y1="465" x2="1056.5" y2="466" stroke="#b8b8b8"/><line x1="1056.5" y1="477" x2="1056.5" y2="478" stroke="#b8b8b8"/><line x1="1062.5" y1="465" x2="1062.5" y2="466" stroke="#b8b8b8"/><line x1="1062.5" y1="477" x2="1062.5" y2="478" stroke="#b8b8b8"/><line x1="1068.5" y1="465" x2="1068.5" y2="466" stroke="#b8b8b8"/><line x1="1068.5" y1="477" x2="1068.5" y2="478" stroke="#b8b8b8"/><line x1="1074.5" y1="465" x2="1074.5" y2="467" stroke="#b8b8b8"/><line x1="1074.5" y1="476" x2="1074.5" y2="478" stroke="#b8b8b8"/><line x1="1080.5" y1="465" x2="1080.5" y2="466" stroke="#b8b8b8"/><line x1="1080.5" y1="477" x2="1080.5" y2="478" stroke="#b8b8b8"/><line x1="1086.5" y1="465" x2="1086.5" y2="466" stroke="#b8b8b8"/><line x1="1086.5" y1="477" x2="1086.5" y2="478" stroke="#b8b8b8"/><line x1="1092.5" y1="465" x2="1092.5" y2="466" stroke="#b8b8b8"/><line x1="1092.5" y1="477" x2="1092.5" y2="478" stroke="#b8b8b8"/><line x1="1097.5" y1="465" x2="1097.5" y2="466" stroke="#b8b8b8"/><line x1="1097.5" y1="477" x2="1097.5" y2="478" stroke="#b8b8b8"/><line x1="1103.5" y1="465" x2="1103.5" y2="467" stroke="#b8b8b8"/><line x1="1103.5" y1="476" x2="1103.5" y2="478" stroke="#b8b8b8"/><line x1="1109.5" y1="465" x2="1109.5" y2="466" stroke="#b8b8b8"/><line x1="1109.5" y1="477" x2="1109.5" y2="478" stroke="#b8b8b8"/><line x1="1115.5" y1="465" x2="1115.5" y2="466" stroke="#b8b8b8"/><line x1="1115.5" y1="477" x2="1115.5" y2="478" stroke="#b8b8b8"/><line x1="1121.5" y1="465" x2="1121.5" y2="466" stroke="#b8b8b8"/><line x1="1121.5" y1="477" x2="1121.5" y2="478" stroke="#b8b8b8"/><line x1="1127.5" y1="465" x2="1127.5" y2="467" stroke="#b8b8b8"/><line x1="1127.5" y1="476" x2="1127.5" y2="478" stroke="#b8b8b8"/><line x1="1133.5" y1="465" x2="1133.5" y2="466" stroke="#b8b8b8"/><line x1="1133.5" y1="477" x2="1133.5" y2="478" stroke="#b8b8b8"/><line x1="1138.5" y1="465" x2="1138.5" y2="466" stroke="#b8b8b8"/><line x1="1138.5" y1="477" x2="1138.5" y2="478" stroke="#b8b8b8"/><line x1="1144.5" y1="465" x2="1144.5" y2="466" stroke="#b8b8b8"/><line x1="1144.5" y1="477" x2="1144.5" y2="478" stroke="#b8b8b8"/><line x1="1150.5" y1="465" x2="1150.5" y2="467" stroke="#b8b8b8"/><line x1="1150.5" y1="476" x2="1150.5" y2="478" stroke="#b8b8b8"/><line x1="1156.5" y1="465" x2="1156.5" y2="466" stroke="#b8b8b8"/><line x1="1156.5" y1="477" x2="1156.5" y2="478" stroke="#b8b8b8"/><line x1="1162.5" y1="465" x2="1162.5" y2="466" stroke="#b8b8b8"/><line x1="1162.5" y1="477" x2="1162.5" y2="478" stroke="#b8b8b8"/><line x1="1168.5" y1="465" x2="1168.5" y2="466" stroke="#b8b8b8"/><line x1="1168.5" y1="477" x2="1168.5" y2="478" stroke="#b8b8b8"/><line x1="1174.5" y1="465" x2="1174.5" y2="466" stroke="#b8b8b8"/><line x1="1174.5" y1="477" x2="1174.5" y2="478" stroke="#b8b8b8"/><line x1="1180.5" y1="465" x2="1180.5" y2="467" stroke="#b8b8b8"/><line x1="1180.5" y1="476" x2="1180.5" y2="478" stroke="#b8b8b8"/><line x1="1185.5" y1="465" x2="1185.5" y2="466" stroke="#b8b8b8"/><line x1="1185.5" y1="477" x2="1185.5" y2="478" stroke="#b8b8b8"/><line x1="1191.5" y1="465" x2="1191.5" y2="466" stroke="#b8b8b8"/><line x1="1191.5" y1="477" x2="1191.5" y2="478" stroke="#b8b8b8"/><line x1="1197.5" y1="465" x2="1197.5" y2="466" stroke="#b8b8b8"/><line x1="1197.5" y1="477" x2="1197.5" y2="478" stroke="#b8b8b8"/><line x1="1203.5" y1="465" x2="1203.5" y2="467" stroke="#b8b8b8"/><line x1="1203.5" y1="476" x2="1203.5" y2="478" stroke="#b8b8b8"/><line x1="1209.5" y1="465" x2="1209.5" y2="466" stroke="#b8b8b8"/><line x1="1209.5" y1="477" x2="1209.5" y2="478" stroke="#b8b8b8"/><line x1="1215.5" y1="465" x2="1215.5" y2="466" stroke="#b8b8b8"/><line x1="1215.5" y1="477" x2="1215.5" y2="478" stroke="#b8b8b8"/><line x1="1221.5" y1="465" x2="1221.5" y2="466" stroke="#b8b8b8"/><line x1="1221.5" y1="477" x2="1221.5" y2="478" stroke="#b8b8b8"/><line x1="1226.5" y1="465" x2="1226.5" y2="467" stroke="#b8b8b8"/><line x1="1226.5" y1="476" x2="1226.5" y2="478" stroke="#b8b8b8"/><line x1="1232.5" y1="465" x2="1232.5" y2="466" stroke="#b8b8b8"/><line x1="1232.5" y1="477" x2="1232.5" y2="478" stroke="#b8b8b8"/><line x1="1238.5" y1="465" x2="1238.5" y2="466" stroke="#b8b8b8"/><line x1="1238.5" y1="477" x2="1238.5" y2="478" stroke="#b8b8b8"/><line x1="1244.5" y1="465" x2="1244.5" y2="466" stroke="#b8b8b8"/><line x1="1244.5" y1="477" x2="1244.5" y2="478" stroke="#b8b8b8"/><line x1="1250.5" y1="465" x2="1250.5" y2="466" stroke="#b8b8b8"/><line x1="1250.5" y1="477" x2="1250.5" y2="478" stroke="#b8b8b8"/><line x1="1256.5" y1="465" x2="1256.5" y2="467" stroke="#b8b8b8"/><line x1="1256.5" y1="476" x2="1256.5" y2="478" stroke="#b8b8b8"/><line x1="1262.5" y1="465" x2="1262.5" y2="466" stroke="#b8b8b8"/><line x1="1262.5" y1="477" x2="1262.5" y2="478" stroke="#b8b8b8"/><line x1="1267.5" y1="465" x2="1267.5" y2="466" stroke="#b8b8b8"/><line x1="1267.5" y1="477" x2="1267.5" y2="478" stroke="#b8b8b8"/><line x1="1273.5" y1="465" x2="1273.5" y2="466" stroke="#b8b8b8"/><line x1="1273.5" y1="477" x2="1273.5" y2="478" stroke="#b8b8b8"/><line x1="1279.5" y1="465" x2="1279.5" y2="467" stroke="#b8b8b8"/><line x1="1279.5" y1="476" x2="1279.5" y2="478" stroke="#b8b8b8"/><line x1="1285.5" y1="465" x2="1285.5" y2="466" stroke="#b8b8b8"/><line x1="1285.5" y1="477" x2="1285.5" y2="478" stroke="#b8b8b8"/><line x1="1291.5" y1="465" x2="1291.5" y2="466" stroke="#b8b8b8"/><line x1="1291.5" y1="477" x2="1291.5" y2="478" stroke="#b8b8b8"/><line x1="1297.5" y1="465" x2="1297.5" y2="466" stroke="#b8b8b8"/><line x1="1297.5" y1="477" x2="1297.5" y2="478" stroke="#b8b8b8"/><line x1="1303.5" y1="465" x2="1303.5" y2="467" stroke="#b8b8b8"/><line x1="1303.5" y1="476" x2="1303.5" y2="478" stroke="#b8b8b8"/><line x1="1309.5" y1="465" x2="1309.5" y2="466" stroke="#b8b8b8"/><line x1="1309.5" y1="477" x2="1309.5" y2="478" stroke="#b8b8b8"/><line x1="1314.5" y1="465" x2="1314.5" y2="466" stroke="#b8b8b8"/><line x1="1314.5" y1="477" x2="1314.5" y2="478" stroke="#b8b8b8"/><line x1="1320.5" y1="465" x2="1320.5" y2="466" stroke="#b8b8b8"/><line x1="1320.5" y1="477" x2="1320.5" y2="478" stroke="#b8b8b8"/><line x1="1326.5" y1="465" x2="1326.5" y2="466" stroke="#b8b8b8"/><line x1="1326.5" y1="477" x2="1326.5" y2="478" stroke="#b8b8b8"/><line x1="1332.5" y1="465" x2="1332.5" y2="467" stroke="#b8b8b8"/><line x1="1332.5" y1="476" x2="1332.5" y2="478" stroke="#b8b8b8"/><line x1="1338.5" y1="465" x2="1338.5" y2="466" stroke="#b8b8b8"/><line x1="1338.5" y1="477" x2="1338.5" y2="478" stroke="#b8b8b8"/><line x1="1344.5" y1="465" x2="1344.5" y2="466" stroke="#b8b8b8"/><line x1="1344.5" y1="477" x2="1344.5" y2="478" stroke="#b8b8b8"/><line x1="1350.5" y1="465" x2="1350.5" y2="466" stroke="#b8b8b8"/><line x1="1350.5" y1="477" x2="1350.5" y2="478" stroke="#b8b8b8"/><line x1="1355.5" y1="465" x2="1355.5" y2="467" stroke="#b8b8b8"/><line x1="1355.5" y1="476" x2="1355.5" y2="478" stroke="#b8b8b8"/><line x1="1361.5" y1="465" x2="1361.5" y2="466" stroke="#b8b8b8"/><line x1="1361.5" y1="477" x2="1361.5" y2="478" stroke="#b8b8b8"/><line x1="1367.5" y1="465" x2="1367.5" y2="466" stroke="#b8b8b8"/><line x1="1367.5" y1="477" x2="1367.5" y2="478" stroke="#b8b8b8"/><line x1="1373.5" y1="465" x2="1373.5" y2="466" stroke="#b8b8b8"/><line x1="1373.5" y1="477" x2="1373.5" y2="478" stroke="#b8b8b8"/><line x1="1379.5" y1="465" x2="1379.5" y2="466" stroke="#b8b8b8"/><line x1="1379.5" y1="477" x2="1379.5" y2="478" stroke="#b8b8b8"/><line x1="1385.5" y1="465" x2="1385.5" y2="467" stroke="#b8b8b8"/><line x1="1385.5" y1="476" x2="1385.5" y2="478" stroke="#b8b8b8"/><line x1="1391.5" y1="465" x2="1391.5" y2="466" stroke="#b8b8b8"/><line x1="1391.5" y1="477" x2="1391.5" y2="478" stroke="#b8b8b8"/><line x1="1396.5" y1="465" x2="1396.5" y2="466" stroke="#b8b8b8"/><line x1="1396.5" y1="477" x2="1396.5" y2="478" stroke="#b8b8b8"/><line x1="1402.5" y1="465" x2="1402.5" y2="466" stroke="#b8b8b8"/><line x1="1402.5" y1="477" x2="1402.5" y2="478" stroke="#b8b8b8"/><line x1="1408.5" y1="465" x2="1408.5" y2="467" stroke="#b8b8b8"/><line x1="1408.5" y1="476" x2="1408.5" y2="478" stroke="#b8b8b8"/><line x1="1414.5" y1="465" x2="1414.5" y2="466" stroke="#b8b8b8"/><line x1="1414.5" y1="477" x2="1414.5" y2="478" stroke="#b8b8b8"/><line x1="1420.5" y1="465" x2="1420.5" y2="466" stroke="#b8b8b8"/><line x1="1420.5" y1="477" x2="1420.5" y2="478" stroke="#b8b8b8"/><line x1="1426.5" y1="465" x2="1426.5" y2="466" stroke="#b8b8b8"/><line x1="1426.5" y1="477" x2="1426.5" y2="478" stroke="#b8b8b8"/><line x1="1432.5" y1="465" x2="1432.5" y2="467" stroke="#b8b8b8"/><line x1="1432.5" y1="476" x2="1432.5" y2="478" stroke="#b8b8b8"/><line x1="1437.5" y1="465" x2="1437.5" y2="466" stroke="#b8b8b8"/><line x1="1437.5" y1="477" x2="1437.5" y2="478" stroke="#b8b8b8"/><line x1="1443.5" y1="465" x2="1443.5" y2="466" stroke="#b8b8b8"/><line x1="1443.5" y1="477" x2="1443.5" y2="478" stroke="#b8b8b8"/><line x1="1449.5" y1="465" x2="1449.5" y2="466" stroke="#b8b8b8"/><line x1="1449.5" y1="477" x2="1449.5" y2="478" stroke="#b8b8b8"/><line x1="1455.5" y1="465" x2="1455.5" y2="466" stroke="#b8b8b8"/><line x1="1455.5" y1="477" x2="1455.5" y2="478" stroke="#b8b8b8"/><line x1="1461.5" y1="465" x2="1461.5" y2="467" stroke="#b8b8b8"/><line x1="1461.5" y1="476" x2="1461.5" y2="478" stroke="#b8b8b8"/><line x1="1467.5" y1="465" x2="1467.5" y2="466" stroke="#b8b8b8"/><line x1="1467.5" y1="477" x2="1467.5" y2="478" stroke="#b8b8b8"/><line x1="1473.5" y1="465" x2="1473.5" y2="466" stroke="#b8b8b8"/><line x1="1473.5" y1="477" x2="1473.5" y2="478" stroke="#b8b8b8"/><line x1="1479.5" y1="465" x2="1479.5" y2="466" stroke="#b8b8b8"/><line x1="1479.5" y1="477" x2="1479.5" y2="478" stroke="#b8b8b8"/><line x1="1484.5" y1="465" x2="1484.5" y2="467" stroke="#b8b8b8"/><line x1="1484.5" y1="476" x2="1484.5" y2="478" stroke="#b8b8b8"/><line x1="1490.5" y1="465" x2="1490.5" y2="466" stroke="#b8b8b8"/><line x1="1490.5" y1="477" x2="1490.5" y2="478" stroke="#b8b8b8"/><line x1="1496.5" y1="465" x2="1496.5" y2="466" stroke="#b8b8b8"/><line x1="1496.5" y1="477" x2="1496.5" y2="478" stroke="#b8b8b8"/><line x1="1502.5" y1="465" x2="1502.5" y2="466" stroke="#b8b8b8"/><line x1="1502.5" y1="477" x2="1502.5" y2="478" stroke="#b8b8b8"/><line x1="1508.5" y1="465" x2="1508.5" y2="467" stroke="#b8b8b8"/><line x1="1508.5" y1="476" x2="1508.5" y2="478" stroke="#b8b8b8"/><line x1="1514.5" y1="465" x2="1514.5" y2="466" stroke="#b8b8b8"/><line x1="1514.5" y1="477" x2="1514.5" y2="478" stroke="#b8b8b8"/><line x1="1520.5" y1="465" x2="1520.5" y2="466" stroke="#b8b8b8"/><line x1="1520.5" y1="477" x2="1520.5" y2="478" stroke="#b8b8b8"/><line x1="1525.5" y1="465" x2="1525.5" y2="466" stroke="#b8b8b8"/><line x1="1525.5" y1="477" x2="1525.5" y2="478" stroke="#b8b8b8"/><line x1="1531.5" y1="465" x2="1531.5" y2="466" stroke="#b8b8b8"/><line x1="1531.5" y1="477" x2="1531.5" y2="478" stroke="#b8b8b8"/><line x1="1537.5" y1="465" x2="1537.5" y2="467" stroke="#b8b8b8"/><line x1="1537.5" y1="476" x2="1537.5" y2="478" stroke="#b8b8b8"/><line x1="1543.5" y1="465" x2="1543.5" y2="466" stroke="#b8b8b8"/><line x1="1543.5" y1="477" x2="1543.5" y2="478" stroke="#b8b8b8"/><line x1="1549.5" y1="465" x2="1549.5" y2="466" stroke="#b8b8b8"/><line x1="1549.5" y1="477" x2="1549.5" y2="478" stroke="#b8b8b8"/></g><text x="31.3" y="474.9" font-size="8.8" font-family="'DejaVu Sans', Verdana, sans-serif" fill="#000" text-anchor="middle">M</text><text x="55.3" y="474.9" font-size="8.8" font-family="'DejaVu Sans', Verdana, sans-serif" fill="#000" text-anchor="middle">J</text><text x="84.3" y="474.9" font-size="8.8" font-family="'DejaVu Sans', Verdana, sans-serif" fill="#000" text-anchor="middle">J</text><text x="108.3" y="474.9" font-size="8.8" font-family="'DejaVu Sans', Verdana, sans-serif" fill="#000" text-anchor="middle">A</text><text x="137.3" y="474.9" font-size="8.8" font-family="'DejaVu Sans', Verdana, sans-serif" fill="#000" text-anchor="middle">S</text><text x="160.3" y="474.9" font-size="8.8" font-family="'DejaVu Sans', Verdana, sans-serif" fill="#000" text-anchor="middle">O</text><text x="184.3" y="474.9" font-size="8.8" font-family="'DejaVu Sans', Verdana, sans-serif" fill="#000" text-anchor="middle">N</text><text x="213.3" y="474.9" font-size="8.8" font-family="'DejaVu Sans', Verdana, sans-serif" fill="#000" text-anchor="middle">D</text><text x="235.5" y="475.1" font-size="11.2" font-family="'Liberation Sans', Arial, sans-serif" fill="#000" font-weight="bold" text-anchor="middle" textLength="10" lengthAdjust="spacingAndGlyphs">21</text><text x="260.3" y="474.9" font-size="8.8" font-family="'DejaVu Sans', Verdana, sans-serif" fill="#000" text-anchor="middle">F</text><text x="284.3" y="474.9" font-size="8.8" font-family="'DejaVu Sans', Verdana, sans-serif" fill="#000" text-anchor="middle">M</text><text x="313.3" y="474.9" font-size="8.8" font-family="'DejaVu Sans', Verdana, sans-serif" fill="#000" text-anchor="middle">A</text><text x="336.3" y="474.9" font-size="8.8" font-family="'DejaVu Sans', Verdana, sans-serif" fill="#000" text-anchor="middle">M</text><text x="360.3" y="474.9" font-size="8.8" font-family="'DejaVu Sans', Verdana, sans-serif" fill="#000" text-anchor="middle">J</text><text x="389.3" y="474.9" font-size="8.8" font-family="'DejaVu Sans', Verdana, sans-serif" fill="#000" text-anchor="middle">J</text><text x="412.3" y="474.9" font-size="8.8" font-family="'DejaVu Sans', Verdana, sans-serif" fill="#000" text-anchor="middle">A</text><text x="442.3" y="474.9" font-size="8.8" font-family="'DejaVu Sans', Verdana, sans-serif" fill="#000" text-anchor="middle">S</text><text x="465.3" y="474.9" font-size="8.8" font-family="'DejaVu Sans', Verdana, sans-serif" fill="#000" text-anchor="middle">O</text><text x="489.3" y="474.9" font-size="8.8" font-family="'DejaVu Sans', Verdana, sans-serif" fill="#000" text-anchor="middle">N</text><text x="518.3" y="474.9" font-size="8.8" font-family="'DejaVu Sans', Verdana, sans-serif" fill="#000" text-anchor="middle">D</text><text x="539.5" y="475.1" font-size="11.2" font-family="'Liberation Sans', Arial, sans-serif" fill="#000" font-weight="bold" text-anchor="middle" textLength="10" lengthAdjust="spacingAndGlyphs">22</text><text x="571.3" y="474.9" font-size="8.8" font-family="'DejaVu Sans', Verdana, sans-serif" fill="#000" text-anchor="middle">F</text><text x="594.3" y="474.9" font-size="8.8" font-family="'DejaVu Sans', Verdana, sans-serif" fill="#000" text-anchor="middle">M</text><text x="618.3" y="474.9" font-size="8.8" font-family="'DejaVu Sans', Verdana, sans-serif" fill="#000" text-anchor="middle">A</text><text x="641.3" y="474.9" font-size="8.8" font-family="'DejaVu Sans', Verdana, sans-serif" fill="#000" text-anchor="middle">M</text><text x="670.3" y="474.9" font-size="8.8" font-family="'DejaVu Sans', Verdana, sans-serif" fill="#000" text-anchor="middle">J</text><text x="694.3" y="474.9" font-size="8.8" font-family="'DejaVu Sans', Verdana, sans-serif" fill="#000" text-anchor="middle">J</text><text x="717.3" y="474.9" font-size="8.8" font-family="'DejaVu Sans', Verdana, sans-serif" fill="#000" text-anchor="middle">A</text><text x="747.3" y="474.9" font-size="8.8" font-family="'DejaVu Sans', Verdana, sans-serif" fill="#000" text-anchor="middle">S</text><text x="770.3" y="474.9" font-size="8.8" font-family="'DejaVu Sans', Verdana, sans-serif" fill="#000" text-anchor="middle">O</text><text x="799.3" y="474.9" font-size="8.8" font-family="'DejaVu Sans', Verdana, sans-serif" fill="#000" text-anchor="middle">N</text><text x="823.3" y="474.9" font-size="8.8" font-family="'DejaVu Sans', Verdana, sans-serif" fill="#000" text-anchor="middle">D</text><text x="844.5" y="475.1" font-size="11.2" font-family="'Liberation Sans', Arial, sans-serif" fill="#000" font-weight="bold" text-anchor="middle" textLength="10" lengthAdjust="spacingAndGlyphs">23</text><text x="876.3" y="474.9" font-size="8.8" font-family="'DejaVu Sans', Verdana, sans-serif" fill="#000" text-anchor="middle">F</text><text x="899.3" y="474.9" font-size="8.8" font-family="'DejaVu Sans', Verdana, sans-serif" fill="#000" text-anchor="middle">M</text><text x="923.3" y="474.9" font-size="8.8" font-family="'DejaVu Sans', Verdana, sans-serif" fill="#000" text-anchor="middle">A</text><text x="946.3" y="474.9" font-size="8.8" font-family="'DejaVu Sans', Verdana, sans-serif" fill="#000" text-anchor="middle">M</text><text x="975.3" y="474.9" font-size="8.8" font-family="'DejaVu Sans', Verdana, sans-serif" fill="#000" text-anchor="middle">J</text><text x="999.3" y="474.9" font-size="8.8" font-family="'DejaVu Sans', Verdana, sans-serif" fill="#000" text-anchor="middle">J</text><text x="1028.3" y="474.9" font-size="8.8" font-family="'DejaVu Sans', Verdana, sans-serif" fill="#000" text-anchor="middle">A</text><text x="1052.3" y="474.9" font-size="8.8" font-family="'DejaVu Sans', Verdana, sans-serif" fill="#000" text-anchor="middle">S</text><text x="1075.3" y="474.9" font-size="8.8" font-family="'DejaVu Sans', Verdana, sans-serif" fill="#000" text-anchor="middle">O</text><text x="1104.3" y="474.9" font-size="8.8" font-family="'DejaVu Sans', Verdana, sans-serif" fill="#000" text-anchor="middle">N</text><text x="1128.3" y="474.9" font-size="8.8" font-family="'DejaVu Sans', Verdana, sans-serif" fill="#000" text-anchor="middle">D</text><text x="1149.5" y="475.1" font-size="11.2" font-family="'Liberation Sans', Arial, sans-serif" fill="#000" font-weight="bold" text-anchor="middle" textLength="10" lengthAdjust="spacingAndGlyphs">24</text><text x="1181.3" y="474.9" font-size="8.8" font-family="'DejaVu Sans', Verdana, sans-serif" fill="#000" text-anchor="middle">F</text><text x="1204.3" y="474.9" font-size="8.8" font-family="'DejaVu Sans', Verdana, sans-serif" fill="#000" text-anchor="middle">M</text><text x="1227.3" y="474.9" font-size="8.8" font-family="'DejaVu Sans', Verdana, sans-serif" fill="#000" text-anchor="middle">A</text><text x="1257.3" y="474.9" font-size="8.8" font-family="'DejaVu Sans', Verdana, sans-serif" fill="#000" text-anchor="middle">M</text><text x="1280.3" y="474.9" font-size="8.8" font-family="'DejaVu Sans', Verdana, sans-serif" fill="#000" text-anchor="middle">J</text><text x="1304.3" y="474.9" font-size="8.8" font-family="'DejaVu Sans', Verdana, sans-serif" fill="#000" text-anchor="middle">J</text><text x="1333.3" y="474.9" font-size="8.8" font-family="'DejaVu Sans', Verdana, sans-serif" fill="#000" text-anchor="middle">A</text><text x="1356.3" y="474.9" font-size="8.8" font-family="'DejaVu Sans', Verdana, sans-serif" fill="#000" text-anchor="middle">S</text><text x="1386.3" y="474.9" font-size="8.8" font-family="'DejaVu Sans', Verdana, sans-serif" fill="#000" text-anchor="middle">O</text><text x="1409.3" y="474.9" font-size="8.8" font-family="'DejaVu Sans', Verdana, sans-serif" fill="#000" text-anchor="middle">N</text><text x="1433.3" y="474.9" font-size="8.8" font-family="'DejaVu Sans', Verdana, sans-serif" fill="#000" text-anchor="middle">D</text><text x="1460.5" y="475.1" font-size="11.2" font-family="'Liberation Sans', Arial, sans-serif" fill="#000" font-weight="bold" text-anchor="middle" textLength="10" lengthAdjust="spacingAndGlyphs">25</text><text x="1485.3" y="474.9" font-size="8.8" font-family="'DejaVu Sans', Verdana, sans-serif" fill="#000" text-anchor="middle">F</text><text x="1509.3" y="474.9" font-size="8.8" font-family="'DejaVu Sans', Verdana, sans-serif" fill="#000" text-anchor="middle">M</text><text x="1538.3" y="474.9" font-size="8.8" font-family="'DejaVu Sans', Verdana, sans-serif" fill="#000" text-anchor="middle">A</text><g shape-rendering="crispEdges"><line x1="30.5" y1="478" x2="30.5" y2="631" stroke="#dedede"/><line x1="54.5" y1="478" x2="54.5" y2="631" stroke="#dedede"/><line x1="83.5" y1="478" x2="83.5" y2="631" stroke="#dedede"/><line x1="107.5" y1="478" x2="107.5" y2="631" stroke="#dedede"/><line x1="136.5" y1="478" x2="136.5" y2="631" stroke="#dedede"/><line x1="159.5" y1="478" x2="159.5" y2="631" stroke="#dedede"/><line x1="183.5" y1="478" x2="183.5" y2="631" stroke="#dedede"/><line x1="212.5" y1="478" x2="212.5" y2="631" stroke="#dedede"/><line x1="236.5" y1="478" x2="236.5" y2="631" stroke="#c0c0c0"/><line x1="259.5" y1="478" x2="259.5" y2="631" stroke="#dedede"/><line x1="283.5" y1="478" x2="283.5" y2="631" stroke="#dedede"/><line x1="312.5" y1="478" x2="312.5" y2="631" stroke="#dedede"/><line x1="335.5" y1="478" x2="335.5" y2="631" stroke="#dedede"/><line x1="359.5" y1="478" x2="359.5" y2="631" stroke="#dedede"/><line x1="388.5" y1="478" x2="388.5" y2="631" stroke="#dedede"/><line x1="411.5" y1="478" x2="411.5" y2="631" stroke="#dedede"/><line x1="441.5" y1="478" x2="441.5" y2="631" stroke="#dedede"/><line x1="464.5" y1="478" x2="464.5" y2="631" stroke="#dedede"/><line x1="488.5" y1="478" x2="488.5" y2="631" stroke="#dedede"/><line x1="517.5" y1="478" x2="517.5" y2="631" stroke="#dedede"/><line x1="540.5" y1="478" x2="540.5" y2="631" stroke="#c0c0c0"/><line x1="570.5" y1="478" x2="570.5" y2="631" stroke="#dedede"/><line x1="593.5" y1="478" x2="593.5" y2="631" stroke="#dedede"/><line x1="617.5" y1="478" x2="617.5" y2="631" stroke="#dedede"/><line x1="640.5" y1="478" x2="640.5" y2="631" stroke="#dedede"/><line x1="669.5" y1="478" x2="669.5" y2="631" stroke="#dedede"/><line x1="693.5" y1="478" x2="693.5" y2="631" stroke="#dedede"/><line x1="716.5" y1="478" x2="716.5" y2="631" stroke="#dedede"/><line x1="746.5" y1="478" x2="746.5" y2="631" stroke="#dedede"/><line x1="769.5" y1="478" x2="769.5" y2="631" stroke="#dedede"/><line x1="798.5" y1="478" x2="798.5" y2="631" stroke="#dedede"/><line x1="822.5" y1="478" x2="822.5" y2="631" stroke="#dedede"/><line x1="845.5" y1="478" x2="845.5" y2="631" stroke="#c0c0c0"/><line x1="875.5" y1="478" x2="875.5" y2="631" stroke="#dedede"/><line x1="898.5" y1="478" x2="898.5" y2="631" stroke="#dedede"/><line x1="922.5" y1="478" x2="922.5" y2="631" stroke="#dedede"/><line x1="945.5" y1="478" x2="945.5" y2="631" stroke="#dedede"/><line x1="974.5" y1="478" x2="974.5" y2="631" stroke="#dedede"/><line x1="998.5" y1="478" x2="998.5" y2="631" stroke="#dedede"/><line x1="1027.5" y1="478" x2="1027.5" y2="631" stroke="#dedede"/><line x1="1051.5" y1="478" x2="1051.5" y2="631" stroke="#dedede"/><line x1="1074.5" y1="478" x2="1074.5" y2="631" stroke="#dedede"/><line x1="1103.5" y1="478" x2="1103.5" y2="631" stroke="#dedede"/><line x1="1127.5" y1="478" x2="1127.5" y2="631" stroke="#dedede"/><line x1="1150.5" y1="478" x2="1150.5" y2="631" stroke="#c0c0c0"/><line x1="1180.5" y1="478" x2="1180.5" y2="631" stroke="#dedede"/><line x1="1203.5" y1="478" x2="1203.5" y2="631" stroke="#dedede"/><line x1="1226.5" y1="478" x2="1226.5" y2="631" stroke="#dedede"/><line x1="1256.5" y1="478" x2="1256.5" y2="631" stroke="#dedede"/><line x1="1279.5" y1="478" x2="1279.5" y2="631" stroke="#dedede"/><line x1="1303.5" y1="478" x2="1303.5" y2="631" stroke="#dedede"/><line x1="1332.5" y1="478" x2="1332.5" y2="631" stroke="#dedede"/><line x1="1355.5" y1="478" x2="1355.5" y2="631" stroke="#dedede"/><line x1="1385.5" y1="478" x2="1385.5" y2="631" stroke="#dedede"/><line x1="1408.5" y1="478" x2="1408.5" y2="631" stroke="#dedede"/><line x1="1432.5" y1="478" x2="1432.5" y2="631" stroke="#dedede"/><line x1="1461.5" y1="478" x2="1461.5" y2="631" stroke="#c0c0c0"/><line x1="1484.5" y1="478" x2="1484.5" y2="631" stroke="#dedede"/><line x1="1508.5" y1="478" x2="1508.5" y2="631" stroke="#dedede"/><line x1="1537.5" y1="478" x2="1537.5" y2="631" stroke="#dedede"/><line x1="16" y1="482.5" x2="1556" y2="482.5" stroke="#dedede"/><line x1="16" y1="505.5" x2="1556" y2="505.5" stroke="#dedede"/><line x1="16" y1="529.5" x2="1556" y2="529.5" stroke="#dedede"/><line x1="16" y1="552.5" x2="1556" y2="552.5" stroke="#dedede"/><line x1="16" y1="576.5" x2="1556" y2="576.5" stroke="#dedede"/><line x1="16" y1="599.5" x2="1556" y2="599.5" stroke="#dedede"/><line x1="16" y1="622.5" x2="1556" y2="622.5" stroke="#dedede"/></g><path d="M17 523H23V552H17ZM22 516H29V552H22ZM28 524H33V552H28ZM34 525H39V552H34ZM40 518H45V552H40ZM46 513H52V552H46ZM51 512H58V552H51ZM57 512H64V552H57ZM63 524H70V552H63ZM69 524H74V552H69ZM75 526H80V552H75ZM81 520H86V552H81ZM87 516H92V552H87ZM93 522H99V552H93ZM98 528H105V552H98ZM104 525H111V552H104ZM110 517H115V552H110ZM116 517H121V552H116ZM122 515H127V552H122ZM128 516H133V552H128ZM134 524H140V552H134ZM139 515H146V552H139ZM145 523H152V552H145ZM151 521H158V552H151ZM157 511H162V552H157ZM163 511H168V552H163ZM169 510H174V552H169ZM175 511H181V552H175ZM180 508H187V552H180ZM186 487H193V552H186ZM192 500H199V552H192ZM198 497H203V552H198ZM204 495H209V552H204ZM210 496H215V552H210ZM216 501H222V552H216ZM221 501H228V552H221ZM227 498H234V552H227ZM233 499H240V552H233ZM239 499H244V552H239ZM245 502H250V552H245ZM251 508H256V552H251ZM257 508H262V552H257ZM263 499H269V552H263ZM268 497H275V552H268ZM274 498H281V552H274ZM280 505H285V552H280ZM286 494H291V552H286ZM292 495H297V552H292ZM298 492H303V552H298ZM304 498H310V552H304ZM309 485H316V552H309ZM315 489H322V552H315ZM321 490H328V552H321ZM327 502H332V552H327ZM333 500H338V552H333ZM339 509H344V552H339ZM345 509H351V552H345ZM350 509H357V552H350ZM356 501H363V552H356ZM362 505H369V552H362ZM368 504H373V552H368ZM374 505H379V552H374ZM380 495H385V552H380ZM386 505H391V552H386ZM392 510H398V552H392ZM397 516H404V552H397ZM403 510H410V552H403ZM409 510H414V552H409ZM415 509H420V552H415ZM421 513H426V552H421ZM427 506H432V552H427ZM433 501H439V552H433ZM438 507H445V552H438ZM444 526H451V552H444ZM450 517H457V552H450ZM456 519H461V552H456ZM462 522H467V552H462ZM468 508H473V552H468ZM474 497H480V552H474ZM479 505H486V552H479ZM485 504H492V552H485ZM491 496H498V552H491ZM497 507H502V552H497ZM503 513H508V552H503ZM509 521H514V552H509ZM515 517H520V552H515ZM521 523H527V552H521ZM526 517H533V552H526ZM532 508H539V552H532ZM538 514H543V552H538ZM544 523H549V552H544ZM550 528H555V552H550ZM556 525H561V552H556ZM562 521H568V552H562ZM567 524H574V552H567ZM573 530H580V552H573ZM579 525H586V552H579ZM585 517H590V552H585ZM591 524H596V552H591ZM597 526H602V552H597ZM603 514H609V552H603ZM608 515H615V552H608ZM614 523H621V552H614ZM620 534H627V552H620ZM626 530H631V552H626ZM632 533H637V552H632ZM638 521H643V552H638ZM644 524H649V552H644ZM650 522H656V552H650ZM655 529H662V552H655ZM661 515H668V552H661ZM667 528H672V552H667ZM673 529H678V552H673ZM679 531H684V552H679ZM685 525H690V552H685ZM691 529H697V552H691ZM696 521H703V552H696ZM702 517H709V552H702ZM708 520H713V552H708ZM714 516H719V552H714ZM720 514H725V552H720ZM726 513H731V552H726ZM732 520H738V552H732ZM737 526H744V552H737ZM743 531H750V552H743ZM749 522H756V552H749ZM755 531H760V552H755ZM761 529H766V552H761ZM767 524H772V552H767ZM773 528H779V552H773ZM778 526H785V552H778ZM784 521H791V552H784ZM790 516H797V552H790ZM796 523H801V552H796ZM802 513H807V552H802ZM808 518H813V552H808ZM814 523H819V552H814ZM820 523H826V552H820ZM825 524H832V552H825ZM831 528H838V552H831ZM837 521H842V552H837ZM843 528H848V552H843ZM849 524H854V552H849ZM855 516H860V552H855ZM861 519H867V552H861ZM866 517H873V552H866ZM872 508H879V552H872ZM878 512H885V552H878ZM884 527H889V552H884ZM890 525H895V552H890ZM896 523H901V552H896ZM902 530H908V552H902ZM907 528H914V552H907ZM913 526H920V552H913ZM919 513H926V552H919ZM925 522H930V552H925ZM931 520H936V552H931ZM937 524H942V552H937ZM943 524H948V552H943ZM949 518H955V552H949ZM954 525H961V552H954ZM960 520H967V552H960ZM966 518H971V552H966ZM972 500H977V552H972ZM978 499H983V552H978ZM984 502H989V552H984ZM990 503H996V552H990ZM995 498H1002V552H995ZM1001 504H1008V552H1001ZM1007 492H1014V552H1007ZM1013 500H1018V552H1013ZM1019 495H1024V552H1019ZM1025 500H1030V552H1025ZM1031 510H1037V552H1031ZM1036 514H1043V552H1036ZM1042 513H1049V552H1042ZM1048 503H1055V552H1048ZM1054 512H1059V552H1054ZM1060 515H1065V552H1060ZM1066 520H1071V552H1066ZM1072 517H1077V552H1072ZM1078 505H1084V552H1078ZM1083 512H1090V552H1083ZM1089 518H1096V552H1089ZM1095 524H1100V552H1095ZM1101 502H1106V552H1101ZM1107 501H1112V552H1107ZM1113 499H1118V552H1113ZM1119 495H1125V552H1119ZM1124 497H1131V552H1124ZM1130 492H1137V552H1130ZM1136 490H1143V552H1136ZM1142 498H1147V552H1142ZM1148 495H1153V552H1148ZM1154 495H1159V552H1154ZM1160 505H1166V552H1160ZM1165 506H1172V552H1165ZM1171 495H1178V552H1171ZM1177 495H1184V552H1177ZM1183 503H1188V552H1183ZM1189 500H1194V552H1189ZM1195 498H1200V552H1195ZM1201 492H1207V552H1201ZM1206 498H1213V552H1206ZM1212 502H1219V552H1212ZM1218 494H1225V552H1218ZM1224 497H1229V552H1224ZM1230 501H1235V552H1230ZM1236 507H1241V552H1236ZM1242 515H1247V552H1242ZM1248 507H1254V552H1248ZM1253 504H1260V552H1253ZM1259 504H1266V552H1259ZM1265 497H1270V552H1265ZM1271 506H1276V552H1271ZM1277 506H1282V552H1277ZM1283 500H1288V552H1283ZM1289 500H1295V552H1289ZM1294 500H1301V552H1294ZM1300 503H1307V552H1300ZM1306 495H1313V552H1306ZM1312 490H1317V552H1312ZM1318 502H1323V552H1318ZM1324 500H1329V552H1324ZM1330 505H1336V552H1330ZM1335 502H1342V552H1335ZM1341 492H1348V552H1341ZM1347 492H1354V552H1347ZM1353 499H1358V552H1353ZM1359 506H1364V552H1359ZM1365 493H1370V552H1365ZM1371 494H1376V552H1371ZM1377 499H1383V552H1377ZM1382 495H1389V552H1382ZM1388 499H1395V552H1388ZM1394 508H1399V552H1394ZM1400 506H1405V552H1400ZM1406 504H1411V552H1406ZM1412 494H1417V552H1412ZM1418 504H1424V552H1418ZM1423 509H1430V552H1423ZM1429 496H1436V552H1429ZM1435 501H1442V552H1435ZM1441 504H1446V552H1441ZM1447 508H1452V552H1447ZM1453 511H1458V552H1453ZM1459 511H1465V552H1459ZM1464 522H1471V552H1464ZM1470 501H1477V552H1470ZM1476 504H1483V552H1476ZM1482 513H1487V552H1482ZM1488 519H1493V552H1488ZM1494 518H1499V552H1494ZM1500 529H1505V552H1500ZM1506 530H1512V552H1506ZM1511 530H1518V552H1511ZM1517 527H1524V552H1517ZM1523 520H1528V552H1523ZM1529 527H1534V552H1529ZM1535 519H1540V552H1535ZM1541 522H1546V552H1541ZM1547 526H1553V552H1547Z" fill="#47924a" shape-rendering="crispEdges"/><path d="M17.5 552V523.5H22.5V552M22.5 552V516.5H28.5V552M28.5 552V524.5H32.5V552M34.5 552V525.5H38.5V552M40.5 552V518.5H44.5V552M46.5 552V513.5H51.5V552M51.5 552V512.5H57.5V552M57.5 552V512.5H63.5V552M63.5 552V524.5H69.5V552M69.5 552V524.5H73.5V552M75.5 552V526.5H79.5V552M81.5 552V520.5H85.5V552M87.5 552V516.5H91.5V552M93.5 552V522.5H98.5V552M98.5 552V528.5H104.5V552M104.5 552V525.5H110.5V552M110.5 552V517.5H114.5V552M116.5 552V517.5H120.5V552M122.5 552V515.5H126.5V552M128.5 552V516.5H132.5V552M134.5 552V524.5H139.5V552M139.5 552V515.5H145.5V552M145.5 552V523.5H151.5V552M151.5 552V521.5H157.5V552M157.5 552V511.5H161.5V552M163.5 552V511.5H167.5V552M169.5 552V510.5H173.5V552M175.5 552V511.5H180.5V552M180.5 552V508.5H186.5V552M186.5 552V487.5H192.5V552M192.5 552V500.5H198.5V552M198.5 552V497.5H202.5V552M204.5 552V495.5H208.5V552M210.5 552V496.5H214.5V552M216.5 552V501.5H221.5V552M221.5 552V501.5H227.5V552M227.5 552V498.5H233.5V552M233.5 552V499.5H239.5V552M239.5 552V499.5H243.5V552M245.5 552V502.5H249.5V552M251.5 552V508.5H255.5V552M257.5 552V508.5H261.5V552M263.5 552V499.5H268.5V552M268.5 552V497.5H274.5V552M274.5 552V498.5H280.5V552M280.5 552V505.5H284.5V552M286.5 552V494.5H290.5V552M292.5 552V495.5H296.5V552M298.5 552V492.5H302.5V552M304.5 552V498.5H309.5V552M309.5 552V485.5H315.5V552M315.5 552V489.5H321.5V552M321.5 552V490.5H327.5V552M327.5 552V502.5H331.5V552M333.5 552V500.5H337.5V552M339.5 552V509.5H343.5V552M345.5 552V509.5H350.5V552M350.5 552V509.5H356.5V552M356.5 552V501.5H362.5V552M362.5 552V505.5H368.5V552M368.5 552V504.5H372.5V552M374.5 552V505.5H378.5V552M380.5 552V495.5H384.5V552M386.5 552V505.5H390.5V552M392.5 552V510.5H397.5V552M397.5 552V516.5H403.5V552M403.5 552V510.5H409.5V552M409.5 552V510.5H413.5V552M415.5 552V509.5H419.5V552M421.5 552V513.5H425.5V552M427.5 552V506.5H431.5V552M433.5 552V501.5H438.5V552M438.5 552V507.5H444.5V552M444.5 552V526.5H450.5V552M450.5 552V517.5H456.5V552M456.5 552V519.5H460.5V552M462.5 552V522.5H466.5V552M468.5 552V508.5H472.5V552M474.5 552V497.5H479.5V552M479.5 552V505.5H485.5V552M485.5 552V504.5H491.5V552M491.5 552V496.5H497.5V552M497.5 552V507.5H501.5V552M503.5 552V513.5H507.5V552M509.5 552V521.5H513.5V552M515.5 552V517.5H519.5V552M521.5 552V523.5H526.5V552M526.5 552V517.5H532.5V552M532.5 552V508.5H538.5V552M538.5 552V514.5H542.5V552M544.5 552V523.5H548.5V552M550.5 552V528.5H554.5V552M556.5 552V525.5H560.5V552M562.5 552V521.5H567.5V552M567.5 552V524.5H573.5V552M573.5 552V530.5H579.5V552M579.5 552V525.5H585.5V552M585.5 552V517.5H589.5V552M591.5 552V524.5H595.5V552M597.5 552V526.5H601.5V552M603.5 552V514.5H608.5V552M608.5 552V515.5H614.5V552M614.5 552V523.5H620.5V552M620.5 552V534.5H626.5V552M626.5 552V530.5H630.5V552M632.5 552V533.5H636.5V552M638.5 552V521.5H642.5V552M644.5 552V524.5H648.5V552M650.5 552V522.5H655.5V552M655.5 552V529.5H661.5V552M661.5 552V515.5H667.5V552M667.5 552V528.5H671.5V552M673.5 552V529.5H677.5V552M679.5 552V531.5H683.5V552M685.5 552V525.5H689.5V552M691.5 552V529.5H696.5V552M696.5 552V521.5H702.5V552M702.5 552V517.5H708.5V552M708.5 552V520.5H712.5V552M714.5 552V516.5H718.5V552M720.5 552V514.5H724.5V552M726.5 552V513.5H730.5V552M732.5 552V520.5H737.5V552M737.5 552V526.5H743.5V552M743.5 552V531.5H749.5V552M749.5 552V522.5H755.5V552M755.5 552V531.5H759.5V552M761.5 552V529.5H765.5V552M767.5 552V524.5H771.5V552M773.5 552V528.5H778.5V552M778.5 552V526.5H784.5V552M784.5 552V521.5H790.5V552M790.5 552V516.5H796.5V552M796.5 552V523.5H800.5V552M802.5 552V513.5H806.5V552M808.5 552V518.5H812.5V552M814.5 552V523.5H818.5V552M820.5 552V523.5H825.5V552M825.5 552V524.5H831.5V552M831.5 552V528.5H837.5V552M837.5 552V521.5H841.5V552M843.5 552V528.5H847.5V552M849.5 552V524.5H853.5V552M855.5 552V516.5H859.5V552M861.5 552V519.5H866.5V552M866.5 552V517.5H872.5V552M872.5 552V508.5H878.5V552M878.5 552V512.5H884.5V552M884.5 552V527.5H888.5V552M890.5 552V525.5H894.5V552M896.5 552V523.5H900.5V552M902.5 552V530.5H907.5V552M907.5 552V528.5H913.5V552M913.5 552V526.5H919.5V552M919.5 552V513.5H925.5V552M925.5 552V522.5H929.5V552M931.5 552V520.5H935.5V552M937.5 552V524.5H941.5V552M943.5 552V524.5H947.5V552M949.5 552V518.5H954.5V552M954.5 552V525.5H960.5V552M960.5 552V520.5H966.5V552M966.5 552V518.5H970.5V552M972.5 552V500.5H976.5V552M978.5 552V499.5H982.5V552M984.5 552V502.5H988.5V552M990.5 552V503.5H995.5V552M995.5 552V498.5H1001.5V552M1001.5 552V504.5H1007.5V552M1007.5 552V492.5H1013.5V552M1013.5 552V500.5H1017.5V552M1019.5 552V495.5H1023.5V552M1025.5 552V500.5H1029.5V552M1031.5 552V510.5H1036.5V552M1036.5 552V514.5H1042.5V552M1042.5 552V513.5H1048.5V552M1048.5 552V503.5H1054.5V552M1054.5 552V512.5H1058.5V552M1060.5 552V515.5H1064.5V552M1066.5 552V520.5H1070.5V552M1072.5 552V517.5H1076.5V552M1078.5 552V505.5H1083.5V552M1083.5 552V512.5H1089.5V552M1089.5 552V518.5H1095.5V552M1095.5 552V524.5H1099.5V552M1101.5 552V502.5H1105.5V552M1107.5 552V501.5H1111.5V552M1113.5 552V499.5H1117.5V552M1119.5 552V495.5H1124.5V552M1124.5 552V497.5H1130.5V552M1130.5 552V492.5H1136.5V552M1136.5 552V490.5H1142.5V552M1142.5 552V498.5H1146.5V552M1148.5 552V495.5H1152.5V552M1154.5 552V495.5H1158.5V552M1160.5 552V505.5H1165.5V552M1165.5 552V506.5H1171.5V552M1171.5 552V495.5H1177.5V552M1177.5 552V495.5H1183.5V552M1183.5 552V503.5H1187.5V552M1189.5 552V500.5H1193.5V552M1195.5 552V498.5H1199.5V552M1201.5 552V492.5H1206.5V552M1206.5 552V498.5H1212.5V552M1212.5 552V502.5H1218.5V552M1218.5 552V494.5H1224.5V552M1224.5 552V497.5H1228.5V552M1230.5 552V501.5H1234.5V552M1236.5 552V507.5H1240.5V552M1242.5 552V515.5H1246.5V552M1248.5 552V507.5H1253.5V552M1253.5 552V504.5H1259.5V552M1259.5 552V504.5H1265.5V552M1265.5 552V497.5H1269.5V552M1271.5 552V506.5H1275.5V552M1277.5 552V506.5H1281.5V552M1283.5 552V500.5H1287.5V552M1289.5 552V500.5H1294.5V552M1294.5 552V500.5H1300.5V552M1300.5 552V503.5H1306.5V552M1306.5 552V495.5H1312.5V552M1312.5 552V490.5H1316.5V552M1318.5 552V502.5H1322.5V552M1324.5 552V500.5H1328.5V552M1330.5 552V505.5H1335.5V552M1335.5 552V502.5H1341.5V552M1341.5 552V492.5H1347.5V552M1347.5 552V492.5H1353.5V552M1353.5 552V499.5H1357.5V552M1359.5 552V506.5H1363.5V552M1365.5 552V493.5H1369.5V552M1371.5 552V494.5H1375.5V552M1377.5 552V499.5H1382.5V552M1382.5 552V495.5H1388.5V552M1388.5 552V499.5H1394.5V552M1394.5 552V508.5H1398.5V552M1400.5 552V506.5H1404.5V552M1406.5 552V504.5H1410.5V552M1412.5 552V494.5H1416.5V552M1418.5 552V504.5H1423.5V552M1423.5 552V509.5H1429.5V552M1429.5 552V496.5H1435.5V552M1435.5 552V501.5H1441.5V552M1441.5 552V504.5H1445.5V552M1447.5 552V508.5H1451.5V552M1453.5 552V511.5H1457.5V552M1459.5 552V511.5H1464.5V552M1464.5 552V522.5H1470.5V552M1470.5 552V501.5H1476.5V552M1476.5 552V504.5H1482.5V552M1482.5 552V513.5H1486.5V552M1488.5 552V519.5H1492.5V552M1494.5 552V518.5H1498.5V552M1500.5 552V529.5H1504.5V552M1506.5 552V530.5H1511.5V552M1511.5 552V530.5H1517.5V552M1517.5 552V527.5H1523.5V552M1523.5 552V520.5H1527.5V552M1529.5 552V527.5H1533.5V552M1535.5 552V519.5H1539.5V552M1541.5 552V522.5H1545.5V552M1547.5 552V526.5H1552.5V552" fill="none" stroke="#013a03" stroke-width="1" shape-rendering="crispEdges"/><path d="M17 552H23V612H17ZM22 552H29V606H22ZM28 552H33V615H28ZM34 552H39V612H34ZM40 552H45V606H40ZM46 552H52V602H46ZM51 552H58V599H51ZM57 552H64V598H57ZM63 552H70V609H63ZM69 552H74V611H69ZM75 552H80V607H75ZM81 552H86V603H81ZM87 552H92V606H87ZM93 552H99V609H93ZM98 552H105V611H98ZM104 552H111V609H104ZM110 552H115V602H110ZM116 552H121V603H116ZM122 552H127V599H122ZM128 552H133V602H128ZM134 552H140V611H134ZM139 552H146V601H139ZM145 552H152V607H145ZM151 552H158V603H151ZM157 552H162V599H157ZM163 552H168V595H163ZM169 552H174V592H169ZM175 552H181V594H175ZM180 552H187V591H180ZM186 552H193V582H186ZM192 552H199V584H192ZM198 552H203V586H198ZM204 552H209V581H204ZM210 552H215V586H210ZM216 552H222V584H216ZM221 552H228V579H221ZM227 552H234V584H227ZM233 552H240V591H233ZM239 552H244V590H239ZM245 552H250V594H245ZM251 552H256V599H251ZM257 552H262V595H257ZM263 552H269V584H263ZM268 552H275V583H268ZM274 552H281V581H274ZM280 552H285V583H280ZM286 552H291V581H286ZM292 552H297V581H292ZM298 552H303V577H298ZM304 552H310V580H304ZM309 552H316V578H309ZM315 552H322V583H315ZM321 552H328V578H321ZM327 552H332V583H327ZM333 552H338V581H333ZM339 552H344V586H339ZM345 552H351V584H345ZM350 552H357V584H350ZM356 552H363V577H356ZM362 552H369V578H362ZM368 552H373V584H368ZM374 552H379V581H374ZM380 552H385V579H380ZM386 552H391V583H386ZM392 552H398V584H392ZM397 552H404V589H397ZM403 552H410V581H403ZM409 552H414V591H409ZM415 552H420V591H415ZM421 552H426V595H421ZM427 552H432V592H427ZM433 552H439V593H433ZM438 552H445V586H438ZM444 552H451V599H444ZM450 552H457V599H450ZM456 552H461V601H456ZM462 552H467V596H462ZM468 552H473V590H468ZM474 552H480V586H474ZM479 552H486V589H479ZM485 552H492V583H485ZM491 552H498V581H491ZM497 552H502V585H497ZM503 552H508V595H503ZM509 552H514V603H509ZM515 552H520V589H515ZM521 552H527V599H521ZM526 552H533V594H526ZM532 552H539V589H532ZM538 552H543V592H538ZM544 552H549V599H544ZM550 552H555V609H550ZM556 552H561V615H556ZM562 552H568V604H562ZM567 552H574V596H567ZM573 552H580V604H573ZM579 552H586V616H579ZM585 552H590V602H585ZM591 552H596V607H591ZM597 552H602V612H597ZM603 552H609V595H603ZM608 552H615V586H608ZM614 552H621V601H614ZM620 552H627V610H620ZM626 552H631V604H626ZM632 552H637V623H632ZM638 552H643V615H638ZM644 552H649V610H644ZM650 552H656V612H650ZM655 552H662V616H655ZM661 552H668V596H661ZM667 552H672V608H667ZM673 552H678V621H673ZM679 552H684V622H679ZM685 552H690V608H685ZM691 552H697V615H691ZM696 552H703V607H696ZM702 552H709V602H702ZM708 552H713V600H708ZM714 552H719V599H714ZM720 552H725V596H720ZM726 552H731V597H726ZM732 552H738V603H732ZM737 552H744V612H737ZM743 552H750V615H743ZM749 552H756V607H749ZM755 552H760V624H755ZM761 552H766V624H761ZM767 552H772V617H767ZM773 552H779V618H773ZM778 552H785V619H778ZM784 552H791V607H784ZM790 552H797V592H790ZM796 552H801V608H796ZM802 552H807V600H802ZM808 552H813V600H808ZM814 552H819V600H814ZM820 552H826V602H820ZM825 552H832V605H825ZM831 552H838V615H831ZM837 552H842V609H837ZM843 552H848V602H843ZM849 552H854V600H849ZM855 552H860V592H855ZM861 552H867V596H861ZM866 552H873V594H866ZM872 552H879V582H872ZM878 552H885V587H878ZM884 552H889V599H884ZM890 552H895V605H890ZM896 552H901V602H896ZM902 552H908V611H902ZM907 552H914V611H907ZM913 552H920V607H913ZM919 552H926V594H919ZM925 552H930V593H925ZM931 552H936V594H931ZM937 552H942V598H937ZM943 552H948V607H943ZM949 552H955V601H949ZM954 552H961V601H954ZM960 552H967V601H960ZM966 552H971V596H966ZM972 552H977V582H972ZM978 552H983V581H978ZM984 552H989V586H984ZM990 552H996V586H990ZM995 552H1002V582H995ZM1001 552H1008V583H1001ZM1007 552H1014V578H1007ZM1013 552H1018V581H1013ZM1019 552H1024V578H1019ZM1025 552H1030V583H1025ZM1031 552H1037V588H1031ZM1036 552H1043V595H1036ZM1042 552H1049V593H1042ZM1048 552H1055V588H1048ZM1054 552H1059V587H1054ZM1060 552H1065V594H1060ZM1066 552H1071V601H1066ZM1072 552H1077V602H1072ZM1078 552H1084V596H1078ZM1083 552H1090V594H1083ZM1089 552H1096V604H1089ZM1095 552H1100V612H1095ZM1101 552H1106V586H1101ZM1107 552H1112V586H1107ZM1113 552H1118V581H1113ZM1119 552H1125V577H1119ZM1124 552H1131V586H1124ZM1130 552H1137V577H1130ZM1136 552H1143V578H1136ZM1142 552H1147V582H1142ZM1148 552H1153V581H1148ZM1154 552H1159V581H1154ZM1160 552H1166V584H1160ZM1165 552H1172V584H1165ZM1171 552H1178V582H1171ZM1177 552H1184V581H1177ZM1183 552H1188V584H1183ZM1189 552H1194V584H1189ZM1195 552H1200V578H1195ZM1201 552H1207V579H1201ZM1206 552H1213V579H1206ZM1212 552H1219V586H1212ZM1218 552H1225V579H1218ZM1224 552H1229V579H1224ZM1230 552H1235V581H1230ZM1236 552H1241V593H1236ZM1242 552H1247V593H1242ZM1248 552H1254V591H1248ZM1253 552H1260V581H1253ZM1259 552H1266V580H1259ZM1265 552H1270V584H1265ZM1271 552H1276V584H1271ZM1277 552H1282V591H1277ZM1283 552H1288V583H1283ZM1289 552H1295V579H1289ZM1294 552H1301V586H1294ZM1300 552H1307V584H1300ZM1306 552H1313V578H1306ZM1312 552H1317V581H1312ZM1318 552H1323V591H1318ZM1324 552H1329V583H1324ZM1330 552H1336V597H1330ZM1335 552H1342V587H1335ZM1341 552H1348V581H1341ZM1347 552H1354V586H1347ZM1353 552H1358V582H1353ZM1359 552H1364V589H1359ZM1365 552H1370V584H1365ZM1371 552H1376V581H1371ZM1377 552H1383V586H1377ZM1382 552H1389V578H1382ZM1388 552H1395V583H1388ZM1394 552H1399V588H1394ZM1400 552H1405V589H1400ZM1406 552H1411V586H1406ZM1412 552H1417V586H1412ZM1418 552H1424V592H1418ZM1423 552H1430V599H1423ZM1429 552H1436V589H1429ZM1435 552H1442V590H1435ZM1441 552H1446V590H1441ZM1447 552H1452V593H1447ZM1453 552H1458V593H1453ZM1459 552H1465V597H1459ZM1464 552H1471V601H1464ZM1470 552H1477V588H1470ZM1476 552H1483V594H1476ZM1482 552H1487V603H1482ZM1488 552H1493V608H1488ZM1494 552H1499V600H1494ZM1500 552H1505V625H1500ZM1506 552H1512V620H1506ZM1511 552H1518V622H1511ZM1517 552H1524V621H1517ZM1523 552H1528V615H1523ZM1529 552H1534V625H1529ZM1535 552H1540V622H1535ZM1541 552H1546V620H1541ZM1547 552H1553V618H1547Z" fill="#e34848" shape-rendering="crispEdges"/><path d="M17.5 552V611.5H22.5V552M22.5 552V605.5H28.5V552M28.5 552V614.5H32.5V552M34.5 552V611.5H38.5V552M40.5 552V605.5H44.5V552M46.5 552V601.5H51.5V552M51.5 552V598.5H57.5V552M57.5 552V597.5H63.5V552M63.5 552V608.5H69.5V552M69.5 552V610.5H73.5V552M75.5 552V606.5H79.5V552M81.5 552V602.5H85.5V552M87.5 552V605.5H91.5V552M93.5 552V608.5H98.5V552M98.5 552V610.5H104.5V552M104.5 552V608.5H110.5V552M110.5 552V601.5H114.5V552M116.5 552V602.5H120.5V552M122.5 552V598.5H126.5V552M128.5 552V601.5H132.5V552M134.5 552V610.5H139.5V552M139.5 552V600.5H145.5V552M145.5 552V606.5H151.5V552M151.5 552V602.5H157.5V552M157.5 552V598.5H161.5V552M163.5 552V594.5H167.5V552M169.5 552V591.5H173.5V552M175.5 552V593.5H180.5V552M180.5 552V590.5H186.5V552M186.5 552V581.5H192.5V552M192.5 552V583.5H198.5V552M198.5 552V585.5H202.5V552M204.5 552V580.5H208.5V552M210.5 552V585.5H214.5V552M216.5 552V583.5H221.5V552M221.5 552V578.5H227.5V552M227.5 552V583.5H233.5V552M233.5 552V590.5H239.5V552M239.5 552V589.5H243.5V552M245.5 552V593.5H249.5V552M251.5 552V598.5H255.5V552M257.5 552V594.5H261.5V552M263.5 552V583.5H268.5V552M268.5 552V582.5H274.5V552M274.5 552V580.5H280.5V552M280.5 552V582.5H284.5V552M286.5 552V580.5H290.5V552M292.5 552V580.5H296.5V552M298.5 552V576.5H302.5V552M304.5 552V579.5H309.5V552M309.5 552V577.5H315.5V552M315.5 552V582.5H321.5V552M321.5 552V577.5H327.5V552M327.5 552V582.5H331.5V552M333.5 552V580.5H337.5V552M339.5 552V585.5H343.5V552M345.5 552V583.5H350.5V552M350.5 552V583.5H356.5V552M356.5 552V576.5H362.5V552M362.5 552V577.5H368.5V552M368.5 552V583.5H372.5V552M374.5 552V580.5H378.5V552M380.5 552V578.5H384.5V552M386.5 552V582.5H390.5V552M392.5 552V583.5H397.5V552M397.5 552V588.5H403.5V552M403.5 552V580.5H409.5V552M409.5 552V590.5H413.5V552M415.5 552V590.5H419.5V552M421.5 552V594.5H425.5V552M427.5 552V591.5H431.5V552M433.5 552V592.5H438.5V552M438.5 552V585.5H444.5V552M444.5 552V598.5H450.5V552M450.5 552V598.5H456.5V552M456.5 552V600.5H460.5V552M462.5 552V595.5H466.5V552M468.5 552V589.5H472.5V552M474.5 552V585.5H479.5V552M479.5 552V588.5H485.5V552M485.5 552V582.5H491.5V552M491.5 552V580.5H497.5V552M497.5 552V584.5H501.5V552M503.5 552V594.5H507.5V552M509.5 552V602.5H513.5V552M515.5 552V588.5H519.5V552M521.5 552V598.5H526.5V552M526.5 552V593.5H532.5V552M532.5 552V588.5H538.5V552M538.5 552V591.5H542.5V552M544.5 552V598.5H548.5V552M550.5 552V608.5H554.5V552M556.5 552V614.5H560.5V552M562.5 552V603.5H567.5V552M567.5 552V595.5H573.5V552M573.5 552V603.5H579.5V552M579.5 552V615.5H585.5V552M585.5 552V601.5H589.5V552M591.5 552V606.5H595.5V552M597.5 552V611.5H601.5V552M603.5 552V594.5H608.5V552M608.5 552V585.5H614.5V552M614.5 552V600.5H620.5V552M620.5 552V609.5H626.5V552M626.5 552V603.5H630.5V552M632.5 552V622.5H636.5V552M638.5 552V614.5H642.5V552M644.5 552V609.5H648.5V552M650.5 552V611.5H655.5V552M655.5 552V615.5H661.5V552M661.5 552V595.5H667.5V552M667.5 552V607.5H671.5V552M673.5 552V620.5H677.5V552M679.5 552V621.5H683.5V552M685.5 552V607.5H689.5V552M691.5 552V614.5H696.5V552M696.5 552V606.5H702.5V552M702.5 552V601.5H708.5V552M708.5 552V599.5H712.5V552M714.5 552V598.5H718.5V552M720.5 552V595.5H724.5V552M726.5 552V596.5H730.5V552M732.5 552V602.5H737.5V552M737.5 552V611.5H743.5V552M743.5 552V614.5H749.5V552M749.5 552V606.5H755.5V552M755.5 552V623.5H759.5V552M761.5 552V623.5H765.5V552M767.5 552V616.5H771.5V552M773.5 552V617.5H778.5V552M778.5 552V618.5H784.5V552M784.5 552V606.5H790.5V552M790.5 552V591.5H796.5V552M796.5 552V607.5H800.5V552M802.5 552V599.5H806.5V552M808.5 552V599.5H812.5V552M814.5 552V599.5H818.5V552M820.5 552V601.5H825.5V552M825.5 552V604.5H831.5V552M831.5 552V614.5H837.5V552M837.5 552V608.5H841.5V552M843.5 552V601.5H847.5V552M849.5 552V599.5H853.5V552M855.5 552V591.5H859.5V552M861.5 552V595.5H866.5V552M866.5 552V593.5H872.5V552M872.5 552V581.5H878.5V552M878.5 552V586.5H884.5V552M884.5 552V598.5H888.5V552M890.5 552V604.5H894.5V552M896.5 552V601.5H900.5V552M902.5 552V610.5H907.5V552M907.5 552V610.5H913.5V552M913.5 552V606.5H919.5V552M919.5 552V593.5H925.5V552M925.5 552V592.5H929.5V552M931.5 552V593.5H935.5V552M937.5 552V597.5H941.5V552M943.5 552V606.5H947.5V552M949.5 552V600.5H954.5V552M954.5 552V600.5H960.5V552M960.5 552V600.5H966.5V552M966.5 552V595.5H970.5V552M972.5 552V581.5H976.5V552M978.5 552V580.5H982.5V552M984.5 552V585.5H988.5V552M990.5 552V585.5H995.5V552M995.5 552V581.5H1001.5V552M1001.5 552V582.5H1007.5V552M1007.5 552V577.5H1013.5V552M1013.5 552V580.5H1017.5V552M1019.5 552V577.5H1023.5V552M1025.5 552V582.5H1029.5V552M1031.5 552V587.5H1036.5V552M1036.5 552V594.5H1042.5V552M1042.5 552V592.5H1048.5V552M1048.5 552V587.5H1054.5V552M1054.5 552V586.5H1058.5V552M1060.5 552V593.5H1064.5V552M1066.5 552V600.5H1070.5V552M1072.5 552V601.5H1076.5V552M1078.5 552V595.5H1083.5V552M1083.5 552V593.5H1089.5V552M1089.5 552V603.5H1095.5V552M1095.5 552V611.5H1099.5V552M1101.5 552V585.5H1105.5V552M1107.5 552V585.5H1111.5V552M1113.5 552V580.5H1117.5V552M1119.5 552V576.5H1124.5V552M1124.5 552V585.5H1130.5V552M1130.5 552V576.5H1136.5V552M1136.5 552V577.5H1142.5V552M1142.5 552V581.5H1146.5V552M1148.5 552V580.5H1152.5V552M1154.5 552V580.5H1158.5V552M1160.5 552V583.5H1165.5V552M1165.5 552V583.5H1171.5V552M1171.5 552V581.5H1177.5V552M1177.5 552V580.5H1183.5V552M1183.5 552V583.5H1187.5V552M1189.5 552V583.5H1193.5V552M1195.5 552V577.5H1199.5V552M1201.5 552V578.5H1206.5V552M1206.5 552V578.5H1212.5V552M1212.5 552V585.5H1218.5V552M1218.5 552V578.5H1224.5V552M1224.5 552V578.5H1228.5V552M1230.5 552V580.5H1234.5V552M1236.5 552V592.5H1240.5V552M1242.5 552V592.5H1246.5V552M1248.5 552V590.5H1253.5V552M1253.5 552V580.5H1259.5V552M1259.5 552V579.5H1265.5V552M1265.5 552V583.5H1269.5V552M1271.5 552V583.5H1275.5V552M1277.5 552V590.5H1281.5V552M1283.5 552V582.5H1287.5V552M1289.5 552V578.5H1294.5V552M1294.5 552V585.5H1300.5V552M1300.5 552V583.5H1306.5V552M1306.5 552V577.5H1312.5V552M1312.5 552V580.5H1316.5V552M1318.5 552V590.5H1322.5V552M1324.5 552V582.5H1328.5V552M1330.5 552V596.5H1335.5V552M1335.5 552V586.5H1341.5V552M1341.5 552V580.5H1347.5V552M1347.5 552V585.5H1353.5V552M1353.5 552V581.5H1357.5V552M1359.5 552V588.5H1363.5V552M1365.5 552V583.5H1369.5V552M1371.5 552V580.5H1375.5V552M1377.5 552V585.5H1382.5V552M1382.5 552V577.5H1388.5V552M1388.5 552V582.5H1394.5V552M1394.5 552V587.5H1398.5V552M1400.5 552V588.5H1404.5V552M1406.5 552V585.5H1410.5V552M1412.5 552V585.5H1416.5V552M1418.5 552V591.5H1423.5V552M1423.5 552V598.5H1429.5V552M1429.5 552V588.5H1435.5V552M1435.5 552V589.5H1441.5V552M1441.5 552V589.5H1445.5V552M1447.5 552V592.5H1451.5V552M1453.5 552V592.5H1457.5V552M1459.5 552V596.5H1464.5V552M1464.5 552V600.5H1470.5V552M1470.5 552V587.5H1476.5V552M1476.5 552V593.5H1482.5V552M1482.5 552V602.5H1486.5V552M1488.5 552V607.5H1492.5V552M1494.5 552V599.5H1498.5V552M1500.5 552V624.5H1504.5V552M1506.5 552V619.5H1511.5V552M1511.5 552V621.5H1517.5V552M1517.5 552V620.5H1523.5V552M1523.5 552V614.5H1527.5V552M1529.5 552V624.5H1533.5V552M1535.5 552V621.5H1539.5V552M1541.5 552V619.5H1545.5V552M1547.5 552V617.5H1552.5V552" fill="none" stroke="#8a0606" stroke-width="1" shape-rendering="crispEdges"/><line x1="16" y1="527" x2="1556" y2="527" stroke="#4432cc" stroke-width="1.2" stroke-dasharray="4 2"/><line x1="16" y1="617.5" x2="1556" y2="617.5" stroke="#0c0c80" stroke-width="1" stroke-dasharray="4 2"/><g fill="#fff"><rect x="17" y="479" width="107" height="13"/><rect x="17" y="619" width="109" height="12"/></g><g fill="#2e4a2e"><rect x="19" y="484" width="2" height="5"/><rect x="21.5" y="480.5" width="2" height="8.5"/><rect x="24" y="482" width="2" height="7"/><rect x="19" y="488" width="9" height="1"/></g><text x="32.9" y="488.6" font-size="8.9" font-family="'DejaVu Sans', Verdana, sans-serif" fill="#000" textLength="88" lengthAdjust="spacingAndGlyphs" letter-spacing="0.7">!AAIIBULL 21.90</text><text x="20.4" y="627.5" font-size="8.9" font-family="'DejaVu Sans', Verdana, sans-serif" fill="#000" textLength="95" lengthAdjust="spacingAndGlyphs" letter-spacing="0.7">!AAIIBEAR -55.60</text><g stroke="#999" shape-rendering="crispEdges"><line x1="1556" y1="482.5" x2="1559" y2="482.5"/><line x1="1556" y1="505.5" x2="1559" y2="505.5"/><line x1="1556" y1="529.5" x2="1559" y2="529.5"/><line x1="1556" y1="552.5" x2="1559" y2="552.5"/><line x1="1556" y1="576.5" x2="1559" y2="576.5"/><line x1="1556" y1="599.5" x2="1559" y2="599.5"/><line x1="1556" y1="622.5" x2="1559" y2="622.5"/><line x1="1556" y1="494.5" x2="1558" y2="494.5"/><line x1="1556" y1="517.5" x2="1558" y2="517.5"/><line x1="1556" y1="540.5" x2="1558" y2="540.5"/><line x1="1556" y1="564.5" x2="1558" y2="564.5"/><line x1="1556" y1="587.5" x2="1558" y2="587.5"/><line x1="1556" y1="611.5" x2="1558" y2="611.5"/></g><text x="1574" y="485.2" font-size="9.2" font-family="'DejaVu Sans', Verdana, sans-serif" fill="#000" text-anchor="end">60</text><text x="1574" y="508.6" font-size="9.2" font-family="'DejaVu Sans', Verdana, sans-serif" fill="#000" text-anchor="end">40</text><text x="1574" y="532" font-size="9.2" font-family="'DejaVu Sans', Verdana, sans-serif" fill="#000" text-anchor="end">20</text><text x="1574" y="555.4" font-size="9.2" font-family="'DejaVu Sans', Verdana, sans-serif" fill="#000" text-anchor="end">0</text><text x="1574" y="578.8" font-size="9.2" font-family="'DejaVu Sans', Verdana, sans-serif" fill="#000" text-anchor="end">-20</text><text x="1574" y="602.2" font-size="9.2" font-family="'DejaVu Sans', Verdana, sans-serif" fill="#000" text-anchor="end">-40</text><text x="1574" y="625.6" font-size="9.2" font-family="'DejaVu Sans', Verdana, sans-serif" fill="#000" text-anchor="end">-60</text><path d="M1554.3 525.8 L1558 520.5 H1587.6 V530.5 H1558 Z" fill="#fff" stroke="#111" stroke-width="1.0"/><text x="1559" y="528.8" font-size="9.3" font-family="'DejaVu Sans', Verdana, sans-serif" fill="#000" textLength="26.1" lengthAdjust="spacingAndGlyphs">21.90</text><path d="M1554.3 617.3 L1558 611.5 H1590.6 V621.5 H1558 Z" fill="#fff" stroke="#111" stroke-width="1.0"/><text x="1559" y="619.7" font-size="9.3" font-family="'DejaVu Sans', Verdana, sans-serif" fill="#000" textLength="29" lengthAdjust="spacingAndGlyphs">-55.60</text><rect x="16.5" y="478.5" width="1540" height="153" fill="none" stroke="#b6b6b6" shape-rendering="crispEdges"/><g shape-rendering="crispEdges"><line x1="30.5" y1="631" x2="30.5" y2="783" stroke="#dedede"/><line x1="54.5" y1="631" x2="54.5" y2="783" stroke="#dedede"/><line x1="83.5" y1="631" x2="83.5" y2="783" stroke="#dedede"/><line x1="107.5" y1="631" x2="107.5" y2="783" stroke="#dedede"/><line x1="136.5" y1="631" x2="136.5" y2="783" stroke="#dedede"/><line x1="159.5" y1="631" x2="159.5" y2="783" stroke="#dedede"/><line x1="183.5" y1="631" x2="183.5" y2="783" stroke="#dedede"/><line x1="212.5" y1="631" x2="212.5" y2="783" stroke="#dedede"/><line x1="236.5" y1="631" x2="236.5" y2="783" stroke="#c0c0c0"/><line x1="259.5" y1="631" x2="259.5" y2="783" stroke="#dedede"/><line x1="283.5" y1="631" x2="283.5" y2="783" stroke="#dedede"/><line x1="312.5" y1="631" x2="312.5" y2="783" stroke="#dedede"/><line x1="335.5" y1="631" x2="335.5" y2="783" stroke="#dedede"/><line x1="359.5" y1="631" x2="359.5" y2="783" stroke="#dedede"/><line x1="388.5" y1="631" x2="388.5" y2="783" stroke="#dedede"/><line x1="411.5" y1="631" x2="411.5" y2="783" stroke="#dedede"/><line x1="441.5" y1="631" x2="441.5" y2="783" stroke="#dedede"/><line x1="464.5" y1="631" x2="464.5" y2="783" stroke="#dedede"/><line x1="488.5" y1="631" x2="488.5" y2="783" stroke="#dedede"/><line x1="517.5" y1="631" x2="517.5" y2="783" stroke="#dedede"/><line x1="540.5" y1="631" x2="540.5" y2="783" stroke="#c0c0c0"/><line x1="570.5" y1="631" x2="570.5" y2="783" stroke="#dedede"/><line x1="593.5" y1="631" x2="593.5" y2="783" stroke="#dedede"/><line x1="617.5" y1="631" x2="617.5" y2="783" stroke="#dedede"/><line x1="640.5" y1="631" x2="640.5" y2="783" stroke="#dedede"/><line x1="669.5" y1="631" x2="669.5" y2="783" stroke="#dedede"/><line x1="693.5" y1="631" x2="693.5" y2="783" stroke="#dedede"/><line x1="716.5" y1="631" x2="716.5" y2="783" stroke="#dedede"/><line x1="746.5" y1="631" x2="746.5" y2="783" stroke="#dedede"/><line x1="769.5" y1="631" x2="769.5" y2="783" stroke="#dedede"/><line x1="798.5" y1="631" x2="798.5" y2="783" stroke="#dedede"/><line x1="822.5" y1="631" x2="822.5" y2="783" stroke="#dedede"/><line x1="845.5" y1="631" x2="845.5" y2="783" stroke="#c0c0c0"/><line x1="875.5" y1="631" x2="875.5" y2="783" stroke="#dedede"/><line x1="898.5" y1="631" x2="898.5" y2="783" stroke="#dedede"/><line x1="922.5" y1="631" x2="922.5" y2="783" stroke="#dedede"/><line x1="945.5" y1="631" x2="945.5" y2="783" stroke="#dedede"/><line x1="974.5" y1="631" x2="974.5" y2="783" stroke="#dedede"/><line x1="998.5" y1="631" x2="998.5" y2="783" stroke="#dedede"/><line x1="1027.5" y1="631" x2="1027.5" y2="783" stroke="#dedede"/><line x1="1051.5" y1="631" x2="1051.5" y2="783" stroke="#dedede"/><line x1="1074.5" y1="631" x2="1074.5" y2="783" stroke="#dedede"/><line x1="1103.5" y1="631" x2="1103.5" y2="783" stroke="#dedede"/><line x1="1127.5" y1="631" x2="1127.5" y2="783" stroke="#dedede"/><line x1="1150.5" y1="631" x2="1150.5" y2="783" stroke="#c0c0c0"/><line x1="1180.5" y1="631" x2="1180.5" y2="783" stroke="#dedede"/><line x1="1203.5" y1="631" x2="1203.5" y2="783" stroke="#dedede"/><line x1="1226.5" y1="631" x2="1226.5" y2="783" stroke="#dedede"/><line x1="1256.5" y1="631" x2="1256.5" y2="783" stroke="#dedede"/><line x1="1279.5" y1="631" x2="1279.5" y2="783" stroke="#dedede"/><line x1="1303.5" y1="631" x2="1303.5" y2="783" stroke="#dedede"/><line x1="1332.5" y1="631" x2="1332.5" y2="783" stroke="#dedede"/><line x1="1355.5" y1="631" x2="1355.5" y2="783" stroke="#dedede"/><line x1="1385.5" y1="631" x2="1385.5" y2="783" stroke="#dedede"/><line x1="1408.5" y1="631" x2="1408.5" y2="783" stroke="#dedede"/><line x1="1432.5" y1="631" x2="1432.5" y2="783" stroke="#dedede"/><line x1="1461.5" y1="631" x2="1461.5" y2="783" stroke="#c0c0c0"/><line x1="1484.5" y1="631" x2="1484.5" y2="783" stroke="#dedede"/><line x1="1508.5" y1="631" x2="1508.5" y2="783" stroke="#dedede"/><line x1="1537.5" y1="631" x2="1537.5" y2="783" stroke="#dedede"/><line x1="16" y1="649.5" x2="1556" y2="649.5" stroke="#dedede"/><line x1="16" y1="667.5" x2="1556" y2="667.5" stroke="#dedede"/><line x1="16" y1="684.5" x2="1556" y2="684.5" stroke="#dedede"/><line x1="16" y1="702.5" x2="1556" y2="702.5" stroke="#dedede"/><line x1="16" y1="720.5" x2="1556" y2="720.5" stroke="#dedede"/><line x1="16" y1="737.5" x2="1556" y2="737.5" stroke="#dedede"/><line x1="16" y1="755.5" x2="1556" y2="755.5" stroke="#dedede"/><line x1="16" y1="773.5" x2="1556" y2="773.5" stroke="#dedede"/></g><path d="M169 698H174V702H169ZM180 692H187V702H180ZM186 648H193V702H186ZM192 671H199V702H192ZM198 668H203V702H198ZM204 657H209V702H204ZM210 667H215V702H210ZM216 672H222V702H216ZM221 664H228V702H221ZM227 668H234V702H227ZM233 679H240V702H233ZM239 678H244V702H239ZM245 688H250V702H245ZM257 699H262V702H257ZM263 669H269V702H263ZM268 664H275V702H268ZM274 663H281V702H274ZM280 677H285V702H280ZM286 657H291V702H286ZM292 659H297V702H292ZM298 648H303V702H298ZM304 661H310V702H304ZM309 638H316V702H309ZM315 651H322V702H315ZM321 645H328V702H321ZM327 672H332V702H327ZM333 665H338V702H333ZM339 686H344V702H339ZM345 685H351V702H345ZM350 685H357V702H350ZM356 661H363V702H356ZM362 668H369V702H362ZM368 677H373V702H368ZM374 673H379V702H374ZM380 656H385V702H380ZM386 676H391V702H386ZM392 686H398V702H392ZM403 681H410V702H403ZM409 695H414V702H409ZM415 694H420V702H415ZM427 692H432V702H427ZM433 685H439V702H433ZM438 683H445V702H438ZM468 692H473V702H468ZM474 669H480V702H474ZM479 685H486V702H479ZM485 675H492V702H485ZM491 660H498V702H491ZM497 683H502V702H497ZM532 690H539V702H532ZM608 695H615V702H608ZM872 680H879V702H872ZM878 693H885V702H878ZM972 668H977V702H972ZM978 664H983V702H978ZM984 677H989V702H984ZM990 677H996V702H990ZM995 665H1002V702H995ZM1001 675H1008V702H1001ZM1007 649H1014V702H1007ZM1013 666H1018V702H1013ZM1019 654H1024V702H1019ZM1025 669H1030V702H1025ZM1031 692H1037V702H1031ZM1048 681H1055V702H1048ZM1054 693H1059V702H1054ZM1078 697H1084V702H1078ZM1101 676H1106V702H1101ZM1107 675H1112V702H1107ZM1113 665H1118V702H1113ZM1119 651H1125V702H1119ZM1124 668H1131V702H1124ZM1130 647H1137V702H1130ZM1136 646H1143V702H1136ZM1142 665H1147V702H1142ZM1148 659H1153V702H1148ZM1154 658H1159V702H1154ZM1160 678H1166V702H1160ZM1165 680H1172V702H1165ZM1171 660H1178V702H1171ZM1177 658H1184V702H1177ZM1183 675H1188V702H1183ZM1189 671H1194V702H1189ZM1195 658H1200V702H1195ZM1201 651H1207V702H1201ZM1206 660H1213V702H1206ZM1212 676H1219V702H1212ZM1218 653H1225V702H1218ZM1224 658H1229V702H1224ZM1230 667H1235V702H1230ZM1236 695H1241V702H1236ZM1248 692H1254V702H1248ZM1253 672H1260V702H1253ZM1259 671H1266V702H1259ZM1265 666H1270V702H1265ZM1271 680H1276V702H1271ZM1277 690H1282V702H1277ZM1283 669H1288V702H1283ZM1289 663H1295V702H1289ZM1294 674H1301V702H1294ZM1300 675H1307V702H1300ZM1306 654H1313V702H1306ZM1312 650H1317V702H1312ZM1318 683H1323V702H1318ZM1324 669H1329V702H1324ZM1330 698H1336V702H1330ZM1335 678H1342V702H1335ZM1341 654H1348V702H1341ZM1347 660H1354V702H1347ZM1353 666H1358V702H1353ZM1359 687H1364V702H1359ZM1365 660H1370V702H1365ZM1371 657H1376V702H1371ZM1377 671H1383V702H1377ZM1382 653H1389V702H1382ZM1388 668H1395V702H1388ZM1394 689H1399V702H1394ZM1400 687H1405V702H1400ZM1406 678H1411V702H1406ZM1412 665H1417V702H1412ZM1418 689H1424V702H1418ZM1429 672H1436V702H1429ZM1435 681H1442V702H1435ZM1441 685H1446V702H1441ZM1447 696H1452V702H1447ZM1453 701H1458V702H1453ZM1470 677H1477V702H1470ZM1476 691H1483V702H1476Z" fill="#424242" shape-rendering="crispEdges"/><path d="M169.5 702V698.5H173.5V702M180.5 702V692.5H186.5V702M186.5 702V648.5H192.5V702M192.5 702V671.5H198.5V702M198.5 702V668.5H202.5V702M204.5 702V657.5H208.5V702M210.5 702V667.5H214.5V702M216.5 702V672.5H221.5V702M221.5 702V664.5H227.5V702M227.5 702V668.5H233.5V702M233.5 702V679.5H239.5V702M239.5 702V678.5H243.5V702M245.5 702V688.5H249.5V702M257.5 702V699.5H261.5V702M263.5 702V669.5H268.5V702M268.5 702V664.5H274.5V702M274.5 702V663.5H280.5V702M280.5 702V677.5H284.5V702M286.5 702V657.5H290.5V702M292.5 702V659.5H296.5V702M298.5 702V648.5H302.5V702M304.5 702V661.5H309.5V702M309.5 702V638.5H315.5V702M315.5 702V651.5H321.5V702M321.5 702V645.5H327.5V702M327.5 702V672.5H331.5V702M333.5 702V665.5H337.5V702M339.5 702V686.5H343.5V702M345.5 702V685.5H350.5V702M350.5 702V685.5H356.5V702M356.5 702V661.5H362.5V702M362.5 702V668.5H368.5V702M368.5 702V677.5H372.5V702M374.5 702V673.5H378.5V702M380.5 702V656.5H384.5V702M386.5 702V676.5H390.5V702M392.5 702V686.5H397.5V702M403.5 702V681.5H409.5V702M409.5 702V695.5H413.5V702M415.5 702V694.5H419.5V702M427.5 702V692.5H431.5V702M433.5 702V685.5H438.5V702M438.5 702V683.5H444.5V702M468.5 702V692.5H472.5V702M474.5 702V669.5H479.5V702M479.5 702V685.5H485.5V702M485.5 702V675.5H491.5V702M491.5 702V660.5H497.5V702M497.5 702V683.5H501.5V702M532.5 702V690.5H538.5V702M608.5 702V695.5H614.5V702M872.5 702V680.5H878.5V702M878.5 702V693.5H884.5V702M972.5 702V668.5H976.5V702M978.5 702V664.5H982.5V702M984.5 702V677.5H988.5V702M990.5 702V677.5H995.5V702M995.5 702V665.5H1001.5V702M1001.5 702V675.5H1007.5V702M1007.5 702V649.5H1013.5V702M1013.5 702V666.5H1017.5V702M1019.5 702V654.5H1023.5V702M1025.5 702V669.5H1029.5V702M1031.5 702V692.5H1036.5V702M1048.5 702V681.5H1054.5V702M1054.5 702V693.5H1058.5V702M1078.5 702V697.5H1083.5V702M1101.5 702V676.5H1105.5V702M1107.5 702V675.5H1111.5V702M1113.5 702V665.5H1117.5V702M1119.5 702V651.5H1124.5V702M1124.5 702V668.5H1130.5V702M1130.5 702V647.5H1136.5V702M1136.5 702V646.5H1142.5V702M1142.5 702V665.5H1146.5V702M1148.5 702V659.5H1152.5V702M1154.5 702V658.5H1158.5V702M1160.5 702V678.5H1165.5V702M1165.5 702V680.5H1171.5V702M1171.5 702V660.5H1177.5V702M1177.5 702V658.5H1183.5V702M1183.5 702V675.5H1187.5V702M1189.5 702V671.5H1193.5V702M1195.5 702V658.5H1199.5V702M1201.5 702V651.5H1206.5V702M1206.5 702V660.5H1212.5V702M1212.5 702V676.5H1218.5V702M1218.5 702V653.5H1224.5V702M1224.5 702V658.5H1228.5V702M1230.5 702V667.5H1234.5V702M1236.5 702V695.5H1240.5V702M1248.5 702V692.5H1253.5V702M1253.5 702V672.5H1259.5V702M1259.5 702V671.5H1265.5V702M1265.5 702V666.5H1269.5V702M1271.5 702V680.5H1275.5V702M1277.5 702V690.5H1281.5V702M1283.5 702V669.5H1287.5V702M1289.5 702V663.5H1294.5V702M1294.5 702V674.5H1300.5V702M1300.5 702V675.5H1306.5V702M1306.5 702V654.5H1312.5V702M1312.5 702V650.5H1316.5V702M1318.5 702V683.5H1322.5V702M1324.5 702V669.5H1328.5V702M1330.5 702V698.5H1335.5V702M1335.5 702V678.5H1341.5V702M1341.5 702V654.5H1347.5V702M1347.5 702V660.5H1353.5V702M1353.5 702V666.5H1357.5V702M1359.5 702V687.5H1363.5V702M1365.5 702V660.5H1369.5V702M1371.5 702V657.5H1375.5V702M1377.5 702V671.5H1382.5V702M1382.5 702V653.5H1388.5V702M1388.5 702V668.5H1394.5V702M1394.5 702V689.5H1398.5V702M1400.5 702V687.5H1404.5V702M1406.5 702V678.5H1410.5V702M1412.5 702V665.5H1416.5V702M1418.5 702V689.5H1423.5V702M1429.5 702V672.5H1435.5V702M1435.5 702V681.5H1441.5V702M1441.5 702V685.5H1445.5V702M1447.5 702V696.5H1451.5V702M1453.5 702V701.5H1457.5V702M1470.5 702V677.5H1476.5V702M1476.5 702V691.5H1482.5V702" fill="none" stroke="#000" stroke-width="1" shape-rendering="crispEdges"/><path d="M17 702H23V749H17ZM22 702H29V728H22ZM28 702H33V755H28ZM34 702H39V751H34ZM40 702H45V732H40ZM46 702H52V719H46ZM51 702H58V712H51ZM57 702H64V711H57ZM63 702H70V745H63ZM69 702H74V747H69ZM75 702H80V746H75ZM81 702H86V731H81ZM87 702H92V729H87ZM93 702H99V741H93ZM98 702H105V753H98ZM104 702H111V747H104ZM110 702H115V724H110ZM116 702H121V726H116ZM122 702H127V717H122ZM128 702H133V723H128ZM134 702H140V747H134ZM139 702H146V720H139ZM145 702H152V741H145ZM151 702H158V732H151ZM157 702H162V711H157ZM163 702H168V705H163ZM251 702H256V705H251ZM421 702H426V707H421ZM444 702H451V734H444ZM450 702H457V720H450ZM456 702H461V726H456ZM462 702H467V723H462ZM503 702H508V708H503ZM509 702H514V732H509ZM515 702H520V705H515ZM521 702H527V729H521ZM526 702H533V711H526ZM538 702H543V705H538ZM544 702H549V728H544ZM550 702H555V750H550ZM556 702H561V756H556ZM562 702H568V734H562ZM567 702H574V725H567ZM573 702H580V747H573ZM579 702H586V758H579ZM585 702H590V725H585ZM591 702H596V742H591ZM597 702H602V752H597ZM603 702H609V709H603ZM614 702H621V732H614ZM620 702H627V762H620ZM626 702H631V747H626ZM632 702H637V780H632ZM638 702H643V750H638ZM644 702H649V747H644ZM650 702H656V747H650ZM655 702H662V763H655ZM661 702H668V712H661ZM667 702H672V750H667ZM673 702H678V772H673ZM679 702H684V776H679ZM685 702H690V746H685ZM691 702H697V762H691ZM696 702H703V738H696ZM702 702H709V725H702ZM708 702H713V726H708ZM714 702H719V718H714ZM720 702H725V711H720ZM726 702H731V711H726ZM732 702H738V731H732ZM737 702H744V753H737ZM743 702H750V765H743ZM749 702H756V739H749ZM755 702H760V778H755ZM761 702H766V776H761ZM767 702H772V758H767ZM773 702H779V764H773ZM778 702H785V764H778ZM784 702H791V738H784ZM790 702H797V708H790ZM796 702H801V742H796ZM802 702H807V716H802ZM808 702H813V723H808ZM814 702H819V730H814ZM820 702H826V733H820ZM825 702H832V739H825ZM831 702H838V759H831ZM837 702H842V741H837ZM843 702H848V740H843ZM849 702H854V732H849ZM855 702H860V708H855ZM861 702H867V718H861ZM866 702H873V712H866ZM884 702H889V734H884ZM890 702H895V741H890ZM896 702H901V733H896ZM902 702H908V756H902ZM907 702H914V753H907ZM913 702H920V745H913ZM919 702H926V706H919ZM925 702H930V718H925ZM931 702H936V717H931ZM937 702H942V729H937ZM943 702H948V741H943ZM949 702H955V725H949ZM954 702H961V734H954ZM960 702H967V726H960ZM966 702H971V717H966ZM1036 702H1043V709H1036ZM1042 702H1049V705H1042ZM1060 702H1065V709H1060ZM1066 702H1071V728H1066ZM1072 702H1077V724H1072ZM1083 702H1090V705H1083ZM1089 702H1096V729H1089ZM1095 702H1100V750H1095ZM1242 702H1247V708H1242ZM1423 702H1430V707H1423ZM1459 702H1465V708H1459ZM1464 702H1471V730H1464ZM1482 702H1487V720H1482ZM1488 702H1493V736H1488ZM1494 702H1499V723H1494ZM1500 702H1505V776H1500ZM1506 702H1512V772H1506ZM1511 702H1518V774H1511ZM1517 702H1524V768H1517ZM1523 702H1528V748H1523ZM1529 702H1534V774H1529ZM1535 702H1540V757H1535ZM1541 702H1546V759H1541ZM1547 702H1553V762H1547Z" fill="#dc5068" shape-rendering="crispEdges"/><path d="M17.5 702V748.5H22.5V702M22.5 702V727.5H28.5V702M28.5 702V754.5H32.5V702M34.5 702V750.5H38.5V702M40.5 702V731.5H44.5V702M46.5 702V718.5H51.5V702M51.5 702V711.5H57.5V702M57.5 702V710.5H63.5V702M63.5 702V744.5H69.5V702M69.5 702V746.5H73.5V702M75.5 702V745.5H79.5V702M81.5 702V730.5H85.5V702M87.5 702V728.5H91.5V702M93.5 702V740.5H98.5V702M98.5 702V752.5H104.5V702M104.5 702V746.5H110.5V702M110.5 702V723.5H114.5V702M116.5 702V725.5H120.5V702M122.5 702V716.5H126.5V702M128.5 702V722.5H132.5V702M134.5 702V746.5H139.5V702M139.5 702V719.5H145.5V702M145.5 702V740.5H151.5V702M151.5 702V731.5H157.5V702M157.5 702V710.5H161.5V702M163.5 702V704.5H167.5V702M251.5 702V704.5H255.5V702M421.5 702V706.5H425.5V702M444.5 702V733.5H450.5V702M450.5 702V719.5H456.5V702M456.5 702V725.5H460.5V702M462.5 702V722.5H466.5V702M503.5 702V707.5H507.5V702M509.5 702V731.5H513.5V702M515.5 702V704.5H519.5V702M521.5 702V728.5H526.5V702M526.5 702V710.5H532.5V702M538.5 702V704.5H542.5V702M544.5 702V727.5H548.5V702M550.5 702V749.5H554.5V702M556.5 702V755.5H560.5V702M562.5 702V733.5H567.5V702M567.5 702V724.5H573.5V702M573.5 702V746.5H579.5V702M579.5 702V757.5H585.5V702M585.5 702V724.5H589.5V702M591.5 702V741.5H595.5V702M597.5 702V751.5H601.5V702M603.5 702V708.5H608.5V702M614.5 702V731.5H620.5V702M620.5 702V761.5H626.5V702M626.5 702V746.5H630.5V702M632.5 702V779.5H636.5V702M638.5 702V749.5H642.5V702M644.5 702V746.5H648.5V702M650.5 702V746.5H655.5V702M655.5 702V762.5H661.5V702M661.5 702V711.5H667.5V702M667.5 702V749.5H671.5V702M673.5 702V771.5H677.5V702M679.5 702V775.5H683.5V702M685.5 702V745.5H689.5V702M691.5 702V761.5H696.5V702M696.5 702V737.5H702.5V702M702.5 702V724.5H708.5V702M708.5 702V725.5H712.5V702M714.5 702V717.5H718.5V702M720.5 702V710.5H724.5V702M726.5 702V710.5H730.5V702M732.5 702V730.5H737.5V702M737.5 702V752.5H743.5V702M743.5 702V764.5H749.5V702M749.5 702V738.5H755.5V702M755.5 702V777.5H759.5V702M761.5 702V775.5H765.5V702M767.5 702V757.5H771.5V702M773.5 702V763.5H778.5V702M778.5 702V763.5H784.5V702M784.5 702V737.5H790.5V702M790.5 702V707.5H796.5V702M796.5 702V741.5H800.5V702M802.5 702V715.5H806.5V702M808.5 702V722.5H812.5V702M814.5 702V729.5H818.5V702M820.5 702V732.5H825.5V702M825.5 702V738.5H831.5V702M831.5 702V758.5H837.5V702M837.5 702V740.5H841.5V702M843.5 702V739.5H847.5V702M849.5 702V731.5H853.5V702M855.5 702V707.5H859.5V702M861.5 702V717.5H866.5V702M866.5 702V711.5H872.5V702M884.5 702V733.5H888.5V702M890.5 702V740.5H894.5V702M896.5 702V732.5H900.5V702M902.5 702V755.5H907.5V702M907.5 702V752.5H913.5V702M913.5 702V744.5H919.5V702M919.5 702V705.5H925.5V702M925.5 702V717.5H929.5V702M931.5 702V716.5H935.5V702M937.5 702V728.5H941.5V702M943.5 702V740.5H947.5V702M949.5 702V724.5H954.5V702M954.5 702V733.5H960.5V702M960.5 702V725.5H966.5V702M966.5 702V716.5H970.5V702M1036.5 702V708.5H1042.5V702M1042.5 702V704.5H1048.5V702M1060.5 702V708.5H1064.5V702M1066.5 702V727.5H1070.5V702M1072.5 702V723.5H1076.5V702M1083.5 702V704.5H1089.5V702M1089.5 702V728.5H1095.5V702M1095.5 702V749.5H1099.5V702M1242.5 702V707.5H1246.5V702M1423.5 702V706.5H1429.5V702M1459.5 702V707.5H1464.5V702M1464.5 702V729.5H1470.5V702M1482.5 702V719.5H1486.5V702M1488.5 702V735.5H1492.5V702M1494.5 702V722.5H1498.5V702M1500.5 702V775.5H1504.5V702M1506.5 702V771.5H1511.5V702M1511.5 702V773.5H1517.5V702M1517.5 702V767.5H1523.5V702M1523.5 702V747.5H1527.5V702M1529.5 702V773.5H1533.5V702M1535.5 702V756.5H1539.5V702M1541.5 702V758.5H1545.5V702M1547.5 702V761.5H1552.5V702" fill="none" stroke="#7e0224" stroke-width="1" shape-rendering="crispEdges"/><line x1="16" y1="761.5" x2="1556" y2="761.5" stroke="#2c6440" stroke-width="1" stroke-dasharray="4 2"/><rect x="17" y="632" width="173" height="12" fill="#fff"/><g fill="#222"><rect x="19" y="636.5" width="2" height="5"/><rect x="21.5" y="633" width="2" height="8.5"/><rect x="24" y="634.5" width="2" height="7"/><rect x="19" y="640.5" width="9" height="1"/></g><text x="32.25" y="641.25" font-size="8.9" font-family="'DejaVu Sans', Verdana, sans-serif" fill="#000" textLength="155" lengthAdjust="spacingAndGlyphs" letter-spacing="0.7">!AAIIBULL-!AAIIBEAR -33.70</text><g stroke="#999" shape-rendering="crispEdges"><line x1="1556" y1="649.5" x2="1559" y2="649.5"/><line x1="1556" y1="667.5" x2="1559" y2="667.5"/><line x1="1556" y1="684.5" x2="1559" y2="684.5"/><line x1="1556" y1="702.5" x2="1559" y2="702.5"/><line x1="1556" y1="720.5" x2="1559" y2="720.5"/><line x1="1556" y1="737.5" x2="1559" y2="737.5"/><line x1="1556" y1="755.5" x2="1559" y2="755.5"/><line x1="1556" y1="773.5" x2="1559" y2="773.5"/><line x1="1556" y1="658.5" x2="1558" y2="658.5"/><line x1="1556" y1="676.5" x2="1558" y2="676.5"/><line x1="1556" y1="693.5" x2="1558" y2="693.5"/><line x1="1556" y1="711.5" x2="1558" y2="711.5"/><line x1="1556" y1="728.5" x2="1558" y2="728.5"/><line x1="1556" y1="746.5" x2="1558" y2="746.5"/><line x1="1556" y1="764.5" x2="1558" y2="764.5"/></g><text x="1574" y="652.31" font-size="9.2" font-family="'DejaVu Sans', Verdana, sans-serif" fill="#000" text-anchor="end">30</text><text x="1574" y="669.94" font-size="9.2" font-family="'DejaVu Sans', Verdana, sans-serif" fill="#000" text-anchor="end">20</text><text x="1574" y="687.57" font-size="9.2" font-family="'DejaVu Sans', Verdana, sans-serif" fill="#000" text-anchor="end">10</text><text x="1574" y="705.2" font-size="9.2" font-family="'DejaVu Sans', Verdana, sans-serif" fill="#000" text-anchor="end">0</text><text x="1574" y="722.83" font-size="9.2" font-family="'DejaVu Sans', Verdana, sans-serif" fill="#000" text-anchor="end">-10</text><text x="1574" y="740.46" font-size="9.2" font-family="'DejaVu Sans', Verdana, sans-serif" fill="#000" text-anchor="end">-20</text><text x="1574" y="758.09" font-size="9.2" font-family="'DejaVu Sans', Verdana, sans-serif" fill="#000" text-anchor="end">-30</text><text x="1574" y="775.72" font-size="9.2" font-family="'DejaVu Sans', Verdana, sans-serif" fill="#000" text-anchor="end">-40</text><path d="M1554.3 760.8 L1558 755.5 H1591.6 V766.5 H1558 Z" fill="#fff" stroke="#111" stroke-width="1.0"/><text x="1559" y="764.5" font-size="9.3" font-family="'DejaVu Sans', Verdana, sans-serif" fill="#000" font-weight="bold" textLength="30" lengthAdjust="spacingAndGlyphs">-33.70</text><rect x="16.5" y="631.5" width="1540" height="152" fill="none" stroke="#b6b6b6" shape-rendering="crispEdges"/><text x="31.3" y="794.9" font-size="8.8" font-family="'DejaVu Sans', Verdana, sans-serif" fill="#000" text-anchor="middle">M</text><text x="55.3" y="794.9" font-size="8.8" font-family="'DejaVu Sans', Verdana, sans-serif" fill="#000" text-anchor="middle">J</text><text x="84.3" y="794.9" font-size="8.8" font-family="'DejaVu Sans', Verdana, sans-serif" fill="#000" text-anchor="middle">J</text><text x="108.3" y="794.9" font-size="8.8" font-family="'DejaVu Sans', Verdana, sans-serif" fill="#000" text-anchor="middle">A</text><text x="137.3" y="794.9" font-size="8.8" font-family="'DejaVu Sans', Verdana, sans-serif" fill="#000" text-anchor="middle">S</text><text x="160.3" y="794.9" font-size="8.8" font-family="'DejaVu Sans', Verdana, sans-serif" fill="#000" text-anchor="middle">O</text><text x="184.3" y="794.9" font-size="8.8" font-family="'DejaVu Sans', Verdana, sans-serif" fill="#000" text-anchor="middle">N</text><text x="213.3" y="794.9" font-size="8.8" font-family="'DejaVu Sans', Verdana, sans-serif" fill="#000" text-anchor="middle">D</text><text x="235.5" y="795.1" font-size="11.2" font-family="'Liberation Sans', Arial, sans-serif" fill="#000" font-weight="bold" text-anchor="middle" textLength="10" lengthAdjust="spacingAndGlyphs">21</text><text x="260.3" y="794.9" font-size="8.8" font-family="'DejaVu Sans', Verdana, sans-serif" fill="#000" text-anchor="middle">F</text><text x="284.3" y="794.9" font-size="8.8" font-family="'DejaVu Sans', Verdana, sans-serif" fill="#000" text-anchor="middle">M</text><text x="313.3" y="794.9" font-size="8.8" font-family="'DejaVu Sans', Verdana, sans-serif" fill="#000" text-anchor="middle">A</text><text x="336.3" y="794.9" font-size="8.8" font-family="'DejaVu Sans', Verdana, sans-serif" fill="#000" text-anchor="middle">M</text><text x="360.3" y="794.9" font-size="8.8" font-family="'DejaVu Sans', Verdana, sans-serif" fill="#000" text-anchor="middle">J</text><text x="389.3" y="794.9" font-size="8.8" font-family="'DejaVu Sans', Verdana, sans-serif" fill="#000" text-anchor="middle">J</text><text x="412.3" y="794.9" font-size="8.8" font-family="'DejaVu Sans', Verdana, sans-serif" fill="#000" text-anchor="middle">A</text><text x="442.3" y="794.9" font-size="8.8" font-family="'DejaVu Sans', Verdana, sans-serif" fill="#000" text-anchor="middle">S</text><text x="465.3" y="794.9" font-size="8.8" font-family="'DejaVu Sans', Verdana, sans-serif" fill="#000" text-anchor="middle">O</text><text x="489.3" y="794.9" font-size="8.8" font-family="'DejaVu Sans', Verdana, sans-serif" fill="#000" text-anchor="middle">N</text><text x="518.3" y="794.9" font-size="8.8" font-family="'DejaVu Sans', Verdana, sans-serif" fill="#000" text-anchor="middle">D</text><text x="539.5" y="795.1" font-size="11.2" font-family="'Liberation Sans', Arial, sans-serif" fill="#000" font-weight="bold" text-anchor="middle" textLength="10" lengthAdjust="spacingAndGlyphs">22</text><text x="571.3" y="794.9" font-size="8.8" font-family="'DejaVu Sans', Verdana, sans-serif" fill="#000" text-anchor="middle">F</text><text x="594.3" y="794.9" font-size="8.8" font-family="'DejaVu Sans', Verdana, sans-serif" fill="#000" text-anchor="middle">M</text><text x="618.3" y="794.9" font-size="8.8" font-family="'DejaVu Sans', Verdana, sans-serif" fill="#000" text-anchor="middle">A</text><text x="641.3" y="794.9" font-size="8.8" font-family="'DejaVu Sans', Verdana, sans-serif" fill="#000" text-anchor="middle">M</text><text x="670.3" y="794.9" font-size="8.8" font-family="'DejaVu Sans', Verdana, sans-serif" fill="#000" text-anchor="middle">J</text><text x="694.3" y="794.9" font-size="8.8" font-family="'DejaVu Sans', Verdana, sans-serif" fill="#000" text-anchor="middle">J</text><text x="717.3" y="794.9" font-size="8.8" font-family="'DejaVu Sans', Verdana, sans-serif" fill="#000" text-anchor="middle">A</text><text x="747.3" y="794.9" font-size="8.8" font-family="'DejaVu Sans', Verdana, sans-serif" fill="#000" text-anchor="middle">S</text><text x="770.3" y="794.9" font-size="8.8" font-family="'DejaVu Sans', Verdana, sans-serif" fill="#000" text-anchor="middle">O</text><text x="799.3" y="794.9" font-size="8.8" font-family="'DejaVu Sans', Verdana, sans-serif" fill="#000" text-anchor="middle">N</text><text x="823.3" y="794.9" font-size="8.8" font-family="'DejaVu Sans', Verdana, sans-serif" fill="#000" text-anchor="middle">D</text><text x="844.5" y="795.1" font-size="11.2" font-family="'Liberation Sans', Arial, sans-serif" fill="#000" font-weight="bold" text-anchor="middle" textLength="10" lengthAdjust="spacingAndGlyphs">23</text><text x="876.3" y="794.9" font-size="8.8" font-family="'DejaVu Sans', Verdana, sans-serif" fill="#000" text-anchor="middle">F</text><text x="899.3" y="794.9" font-size="8.8" font-family="'DejaVu Sans', Verdana, sans-serif" fill="#000" text-anchor="middle">M</text><text x="923.3" y="794.9" font-size="8.8" font-family="'DejaVu Sans', Verdana, sans-serif" fill="#000" text-anchor="middle">A</text><text x="946.3" y="794.9" font-size="8.8" font-family="'DejaVu Sans', Verdana, sans-serif" fill="#000" text-anchor="middle">M</text><text x="975.3" y="794.9" font-size="8.8" font-family="'DejaVu Sans', Verdana, sans-serif" fill="#000" text-anchor="middle">J</text><text x="999.3" y="794.9" font-size="8.8" font-family="'DejaVu Sans', Verdana, sans-serif" fill="#000" text-anchor="middle">J</text><text x="1028.3" y="794.9" font-size="8.8" font-family="'DejaVu Sans', Verdana, sans-serif" fill="#000" text-anchor="middle">A</text><text x="1052.3" y="794.9" font-size="8.8" font-family="'DejaVu Sans', Verdana, sans-serif" fill="#000" text-anchor="middle">S</text><text x="1075.3" y="794.9" font-size="8.8" font-family="'DejaVu Sans', Verdana, sans-serif" fill="#000" text-anchor="middle">O</text><text x="1104.3" y="794.9" font-size="8.8" font-family="'DejaVu Sans', Verdana, sans-serif" fill="#000" text-anchor="middle">N</text><text x="1128.3" y="794.9" font-size="8.8" font-family="'DejaVu Sans', Verdana, sans-serif" fill="#000" text-anchor="middle">D</text><text x="1149.5" y="795.1" font-size="11.2" font-family="'Liberation Sans', Arial, sans-serif" fill="#000" font-weight="bold" text-anchor="middle" textLength="10" lengthAdjust="spacingAndGlyphs">24</text><text x="1181.3" y="794.9" font-size="8.8" font-family="'DejaVu Sans', Verdana, sans-serif" fill="#000" text-anchor="middle">F</text><text x="1204.3" y="794.9" font-size="8.8" font-family="'DejaVu Sans', Verdana, sans-serif" fill="#000" text-anchor="middle">M</text><text x="1227.3" y="794.9" font-size="8.8" font-family="'DejaVu Sans', Verdana, sans-serif" fill="#000" text-anchor="middle">A</text><text x="1257.3" y="794.9" font-size="8.8" font-family="'DejaVu Sans', Verdana, sans-serif" fill="#000" text-anchor="middle">M</text><text x="1280.3" y="794.9" font-size="8.8" font-family="'DejaVu Sans', Verdana, sans-serif" fill="#000" text-anchor="middle">J</text><text x="1304.3" y="794.9" font-size="8.8" font-family="'DejaVu Sans', Verdana, sans-serif" fill="#000" text-anchor="middle">J</text><text x="1333.3" y="794.9" font-size="8.8" font-family="'DejaVu Sans', Verdana, sans-serif" fill="#000" text-anchor="middle">A</text><text x="1356.3" y="794.9" font-size="8.8" font-family="'DejaVu Sans', Verdana, sans-serif" fill="#000" text-anchor="middle">S</text><text x="1386.3" y="794.9" font-size="8.8" font-family="'DejaVu Sans', Verdana, sans-serif" fill="#000" text-anchor="middle">O</text><text x="1409.3" y="794.9" font-size="8.8" font-family="'DejaVu Sans', Verdana, sans-serif" fill="#000" text-anchor="middle">N</text><text x="1433.3" y="794.9" font-size="8.8" font-family="'DejaVu Sans', Verdana, sans-serif" fill="#000" text-anchor="middle">D</text><text x="1460.5" y="795.1" font-size="11.2" font-family="'Liberation Sans', Arial, sans-serif" fill="#000" font-weight="bold" text-anchor="middle" textLength="10" lengthAdjust="spacingAndGlyphs">25</text><text x="1485.3" y="794.9" font-size="8.8" font-family="'DejaVu Sans', Verdana, sans-serif" fill="#000" text-anchor="middle">F</text><text x="1509.3" y="794.9" font-size="8.8" font-family="'DejaVu Sans', Verdana, sans-serif" fill="#000" text-anchor="middle">M</text><text x="1538.3" y="794.9" font-size="8.8" font-family="'DejaVu Sans', Verdana, sans-serif" fill="#000" text-anchor="middle">A</text><g stroke="#c8c8c8" shape-rendering="crispEdges"><line x1="19.5" y1="784" x2="19.5" y2="786"/><line x1="25.5" y1="784" x2="25.5" y2="786"/><line x1="30.5" y1="784" x2="30.5" y2="786"/><line x1="36.5" y1="784" x2="36.5" y2="786"/><line x1="42.5" y1="784" x2="42.5" y2="786"/><line x1="48.5" y1="784" x2="48.5" y2="786"/><line x1="54.5" y1="784" x2="54.5" y2="786"/><line x1="60.5" y1="784" x2="60.5" y2="786"/><line x1="66.5" y1="784" x2="66.5" y2="786"/><line x1="71.5" y1="784" x2="71.5" y2="786"/><line x1="77.5" y1="784" x2="77.5" y2="786"/><line x1="83.5" y1="784" x2="83.5" y2="786"/><line x1="89.5" y1="784" x2="89.5" y2="786"/><line x1="95.5" y1="784" x2="95.5" y2="786"/><line x1="101.5" y1="784" x2="101.5" y2="786"/><line x1="107.5" y1="784" x2="107.5" y2="786"/><line x1="112.5" y1="784" x2="112.5" y2="786"/><line x1="118.5" y1="784" x2="118.5" y2="786"/><line x1="124.5" y1="784" x2="124.5" y2="786"/><line x1="130.5" y1="784" x2="130.5" y2="786"/><line x1="136.5" y1="784" x2="136.5" y2="786"/><line x1="142.5" y1="784" x2="142.5" y2="786"/><line x1="148.5" y1="784" x2="148.5" y2="786"/><line x1="154.5" y1="784" x2="154.5" y2="786"/><line x1="159.5" y1="784" x2="159.5" y2="786"/><line x1="165.5" y1="784" x2="165.5" y2="786"/><line x1="171.5" y1="784" x2="171.5" y2="786"/><line x1="177.5" y1="784" x2="177.5" y2="786"/><line x1="183.5" y1="784" x2="183.5" y2="786"/><line x1="189.5" y1="784" x2="189.5" y2="786"/><line x1="195.5" y1="784" x2="195.5" y2="786"/><line x1="200.5" y1="784" x2="200.5" y2="786"/><line x1="206.5" y1="784" x2="206.5" y2="786"/><line x1="212.5" y1="784" x2="212.5" y2="786"/><line x1="218.5" y1="784" x2="218.5" y2="786"/><line x1="224.5" y1="784" x2="224.5" y2="786"/><line x1="230.5" y1="784" x2="230.5" y2="786"/><line x1="236.5" y1="784" x2="236.5" y2="786"/><line x1="241.5" y1="784" x2="241.5" y2="786"/><line x1="247.5" y1="784" x2="247.5" y2="786"/><line x1="253.5" y1="784" x2="253.5" y2="786"/><line x1="259.5" y1="784" x2="259.5" y2="786"/><line x1="265.5" y1="784" x2="265.5" y2="786"/><line x1="271.5" y1="784" x2="271.5" y2="786"/><line x1="277.5" y1="784" x2="277.5" y2="786"/><line x1="283.5" y1="784" x2="283.5" y2="786"/><line x1="288.5" y1="784" x2="288.5" y2="786"/><line x1="294.5" y1="784" x2="294.5" y2="786"/><line x1="300.5" y1="784" x2="300.5" y2="786"/><line x1="306.5" y1="784" x2="306.5" y2="786"/><line x1="312.5" y1="784" x2="312.5" y2="786"/><line x1="318.5" y1="784" x2="318.5" y2="786"/><line x1="324.5" y1="784" x2="324.5" y2="786"/><line x1="329.5" y1="784" x2="329.5" y2="786"/><line x1="335.5" y1="784" x2="335.5" y2="786"/><line x1="341.5" y1="784" x2="341.5" y2="786"/><line x1="347.5" y1="784" x2="347.5" y2="786"/><line x1="353.5" y1="784" x2="353.5" y2="786"/><line x1="359.5" y1="784" x2="359.5" y2="786"/><line x1="365.5" y1="784" x2="365.5" y2="786"/><line x1="370.5" y1="784" x2="370.5" y2="786"/><line x1="376.5" y1="784" x2="376.5" y2="786"/><line x1="382.5" y1="784" x2="382.5" y2="786"/><line x1="388.5" y1="784" x2="388.5" y2="786"/><line x1="394.5" y1="784" x2="394.5" y2="786"/><line x1="400.5" y1="784" x2="400.5" y2="786"/><line x1="406.5" y1="784" x2="406.5" y2="786"/><line x1="411.5" y1="784" x2="411.5" y2="786"/><line x1="417.5" y1="784" x2="417.5" y2="786"/><line x1="423.5" y1="784" x2="423.5" y2="786"/><line x1="429.5" y1="784" x2="429.5" y2="786"/><line x1="435.5" y1="784" x2="435.5" y2="786"/><line x1="441.5" y1="784" x2="441.5" y2="786"/><line x1="447.5" y1="784" x2="447.5" y2="786"/><line x1="453.5" y1="784" x2="453.5" y2="786"/><line x1="458.5" y1="784" x2="458.5" y2="786"/><line x1="464.5" y1="784" x2="464.5" y2="786"/><line x1="470.5" y1="784" x2="470.5" y2="786"/><line x1="476.5" y1="784" x2="476.5" y2="786"/><line x1="482.5" y1="784" x2="482.5" y2="786"/><line x1="488.5" y1="784" x2="488.5" y2="786"/><line x1="494.5" y1="784" x2="494.5" y2="786"/><line x1="499.5" y1="784" x2="499.5" y2="786"/><line x1="505.5" y1="784" x2="505.5" y2="786"/><line x1="511.5" y1="784" x2="511.5" y2="786"/><line x1="517.5" y1="784" x2="517.5" y2="786"/><line x1="523.5" y1="784" x2="523.5" y2="786"/><line x1="529.5" y1="784" x2="529.5" y2="786"/><line x1="535.5" y1="784" x2="535.5" y2="786"/><line x1="540.5" y1="784" x2="540.5" y2="786"/><line x1="546.5" y1="784" x2="546.5" y2="786"/><line x1="552.5" y1="784" x2="552.5" y2="786"/><line x1="558.5" y1="784" x2="558.5" y2="786"/><line x1="564.5" y1="784" x2="564.5" y2="786"/><line x1="570.5" y1="784" x2="570.5" y2="786"/><line x1="576.5" y1="784" x2="576.5" y2="786"/><line x1="582.5" y1="784" x2="582.5" y2="786"/><line x1="587.5" y1="784" x2="587.5" y2="786"/><line x1="593.5" y1="784" x2="593.5" y2="786"/><line x1="599.5" y1="784" x2="599.5" y2="786"/><line x1="605.5" y1="784" x2="605.5" y2="786"/><line x1="611.5" y1="784" x2="611.5" y2="786"/><line x1="617.5" y1="784" x2="617.5" y2="786"/><line x1="623.5" y1="784" x2="623.5" y2="786"/><line x1="628.5" y1="784" x2="628.5" y2="786"/><line x1="634.5" y1="784" x2="634.5" y2="786"/><line x1="640.5" y1="784" x2="640.5" y2="786"/><line x1="646.5" y1="784" x2="646.5" y2="786"/><line x1="652.5" y1="784" x2="652.5" y2="786"/><line x1="658.5" y1="784" x2="658.5" y2="786"/><line x1="664.5" y1="784" x2="664.5" y2="786"/><line x1="669.5" y1="784" x2="669.5" y2="786"/><line x1="675.5" y1="784" x2="675.5" y2="786"/><line x1="681.5" y1="784" x2="681.5" y2="786"/><line x1="687.5" y1="784" x2="687.5" y2="786"/><line x1="693.5" y1="784" x2="693.5" y2="786"/><line x1="699.5" y1="784" x2="699.5" y2="786"/><line x1="705.5" y1="784" x2="705.5" y2="786"/><line x1="710.5" y1="784" x2="710.5" y2="786"/><line x1="716.5" y1="784" x2="716.5" y2="786"/><line x1="722.5" y1="784" x2="722.5" y2="786"/><line x1="728.5" y1="784" x2="728.5" y2="786"/><line x1="734.5" y1="784" x2="734.5" y2="786"/><line x1="740.5" y1="784" x2="740.5" y2="786"/><line x1="746.5" y1="784" x2="746.5" y2="786"/><line x1="752.5" y1="784" x2="752.5" y2="786"/><line x1="757.5" y1="784" x2="757.5" y2="786"/><line x1="763.5" y1="784" x2="763.5" y2="786"/><line x1="769.5" y1="784" x2="769.5" y2="786"/><line x1="775.5" y1="784" x2="775.5" y2="786"/><line x1="781.5" y1="784" x2="781.5" y2="786"/><line x1="787.5" y1="784" x2="787.5" y2="786"/><line x1="793.5" y1="784" x2="793.5" y2="786"/><line x1="798.5" y1="784" x2="798.5" y2="786"/><line x1="804.5" y1="784" x2="804.5" y2="786"/><line x1="810.5" y1="784" x2="810.5" y2="786"/><line x1="816.5" y1="784" x2="816.5" y2="786"/><line x1="822.5" y1="784" x2="822.5" y2="786"/><line x1="828.5" y1="784" x2="828.5" y2="786"/><line x1="834.5" y1="784" x2="834.5" y2="786"/><line x1="839.5" y1="784" x2="839.5" y2="786"/><line x1="845.5" y1="784" x2="845.5" y2="786"/><line x1="851.5" y1="784" x2="851.5" y2="786"/><line x1="857.5" y1="784" x2="857.5" y2="786"/><line x1="863.5" y1="784" x2="863.5" y2="786"/><line x1="869.5" y1="784" x2="869.5" y2="786"/><line x1="875.5" y1="784" x2="875.5" y2="786"/><line x1="881.5" y1="784" x2="881.5" y2="786"/><line x1="886.5" y1="784" x2="886.5" y2="786"/><line x1="892.5" y1="784" x2="892.5" y2="786"/><line x1="898.5" y1="784" x2="898.5" y2="786"/><line x1="904.5" y1="784" x2="904.5" y2="786"/><line x1="910.5" y1="784" x2="910.5" y2="786"/><line x1="916.5" y1="784" x2="916.5" y2="786"/><line x1="922.5" y1="784" x2="922.5" y2="786"/><line x1="927.5" y1="784" x2="927.5" y2="786"/><line x1="933.5" y1="784" x2="933.5" y2="786"/><line x1="939.5" y1="784" x2="939.5" y2="786"/><line x1="945.5" y1="784" x2="945.5" y2="786"/><line x1="951.5" y1="784" x2="951.5" y2="786"/><line x1="957.5" y1="784" x2="957.5" y2="786"/><line x1="963.5" y1="784" x2="963.5" y2="786"/><line x1="968.5" y1="784" x2="968.5" y2="786"/><line x1="974.5" y1="784" x2="974.5" y2="786"/><line x1="980.5" y1="784" x2="980.5" y2="786"/><line x1="986.5" y1="784" x2="986.5" y2="786"/><line x1="992.5" y1="784" x2="992.5" y2="786"/><line x1="998.5" y1="784" x2="998.5" y2="786"/><line x1="1004.5" y1="784" x2="1004.5" y2="786"/><line x1="1010.5" y1="784" x2="1010.5" y2="786"/><line x1="1015.5" y1="784" x2="1015.5" y2="786"/><line x1="1021.5" y1="784" x2="1021.5" y2="786"/><line x1="1027.5" y1="784" x2="1027.5" y2="786"/><line x1="1033.5" y1="784" x2="1033.5" y2="786"/><line x1="1039.5" y1="784" x2="1039.5" y2="786"/><line x1="1045.5" y1="784" x2="1045.5" y2="786"/><line x1="1051.5" y1="784" x2="1051.5" y2="786"/><line x1="1056.5" y1="784" x2="1056.5" y2="786"/><line x1="1062.5" y1="784" x2="1062.5" y2="786"/><line x1="1068.5" y1="784" x2="1068.5" y2="786"/><line x1="1074.5" y1="784" x2="1074.5" y2="786"/><line x1="1080.5" y1="784" x2="1080.5" y2="786"/><line x1="1086.5" y1="784" x2="1086.5" y2="786"/><line x1="1092.5" y1="784" x2="1092.5" y2="786"/><line x1="1097.5" y1="784" x2="1097.5" y2="786"/><line x1="1103.5" y1="784" x2="1103.5" y2="786"/><line x1="1109.5" y1="784" x2="1109.5" y2="786"/><line x1="1115.5" y1="784" x2="1115.5" y2="786"/><line x1="1121.5" y1="784" x2="1121.5" y2="786"/><line x1="1127.5" y1="784" x2="1127.5" y2="786"/><line x1="1133.5" y1="784" x2="1133.5" y2="786"/><line x1="1138.5" y1="784" x2="1138.5" y2="786"/><line x1="1144.5" y1="784" x2="1144.5" y2="786"/><line x1="1150.5" y1="784" x2="1150.5" y2="786"/><line x1="1156.5" y1="784" x2="1156.5" y2="786"/><line x1="1162.5" y1="784" x2="1162.5" y2="786"/><line x1="1168.5" y1="784" x2="1168.5" y2="786"/><line x1="1174.5" y1="784" x2="1174.5" y2="786"/><line x1="1180.5" y1="784" x2="1180.5" y2="786"/><line x1="1185.5" y1="784" x2="1185.5" y2="786"/><line x1="1191.5" y1="784" x2="1191.5" y2="786"/><line x1="1197.5" y1="784" x2="1197.5" y2="786"/><line x1="1203.5" y1="784" x2="1203.5" y2="786"/><line x1="1209.5" y1="784" x2="1209.5" y2="786"/><line x1="1215.5" y1="784" x2="1215.5" y2="786"/><line x1="1221.5" y1="784" x2="1221.5" y2="786"/><line x1="1226.5" y1="784" x2="1226.5" y2="786"/><line x1="1232.5" y1="784" x2="1232.5" y2="786"/><line x1="1238.5" y1="784" x2="1238.5" y2="786"/><line x1="1244.5" y1="784" x2="1244.5" y2="786"/><line x1="1250.5" y1="784" x2="1250.5" y2="786"/><line x1="1256.5" y1="784" x2="1256.5" y2="786"/><line x1="1262.5" y1="784" x2="1262.5" y2="786"/><line x1="1267.5" y1="784" x2="1267.5" y2="786"/><line x1="1273.5" y1="784" x2="1273.5" y2="786"/><line x1="1279.5" y1="784" x2="1279.5" y2="786"/><line x1="1285.5" y1="784" x2="1285.5" y2="786"/><line x1="1291.5" y1="784" x2="1291.5" y2="786"/><line x1="1297.5" y1="784" x2="1297.5" y2="786"/><line x1="1303.5" y1="784" x2="1303.5" y2="786"/><line x1="1309.5" y1="784" x2="1309.5" y2="786"/><line x1="1314.5" y1="784" x2="1314.5" y2="786"/><line x1="1320.5" y1="784" x2="1320.5" y2="786"/><line x1="1326.5" y1="784" x2="1326.5" y2="786"/><line x1="1332.5" y1="784" x2="1332.5" y2="786"/><line x1="1338.5" y1="784" x2="1338.5" y2="786"/><line x1="1344.5" y1="784" x2="1344.5" y2="786"/><line x1="1350.5" y1="784" x2="1350.5" y2="786"/><line x1="1355.5" y1="784" x2="1355.5" y2="786"/><line x1="1361.5" y1="784" x2="1361.5" y2="786"/><line x1="1367.5" y1="784" x2="1367.5" y2="786"/><line x1="1373.5" y1="784" x2="1373.5" y2="786"/><line x1="1379.5" y1="784" x2="1379.5" y2="786"/><line x1="1385.5" y1="784" x2="1385.5" y2="786"/><line x1="1391.5" y1="784" x2="1391.5" y2="786"/><line x1="1396.5" y1="784" x2="1396.5" y2="786"/><line x1="1402.5" y1="784" x2="1402.5" y2="786"/><line x1="1408.5" y1="784" x2="1408.5" y2="786"/><line x1="1414.5" y1="784" x2="1414.5" y2="786"/><line x1="1420.5" y1="784" x2="1420.5" y2="786"/><line x1="1426.5" y1="784" x2="1426.5" y2="786"/><line x1="1432.5" y1="784" x2="1432.5" y2="786"/><line x1="1437.5" y1="784" x2="1437.5" y2="786"/><line x1="1443.5" y1="784" x2="1443.5" y2="786"/><line x1="1449.5" y1="784" x2="1449.5" y2="786"/><line x1="1455.5" y1="784" x2="1455.5" y2="786"/><line x1="1461.5" y1="784" x2="1461.5" y2="786"/><line x1="1467.5" y1="784" x2="1467.5" y2="786"/><line x1="1473.5" y1="784" x2="1473.5" y2="786"/><line x1="1479.5" y1="784" x2="1479.5" y2="786"/><line x1="1484.5" y1="784" x2="1484.5" y2="786"/><line x1="1490.5" y1="784" x2="1490.5" y2="786"/><line x1="1496.5" y1="784" x2="1496.5" y2="786"/><line x1="1502.5" y1="784" x2="1502.5" y2="786"/><line x1="1508.5" y1="784" x2="1508.5" y2="786"/><line x1="1514.5" y1="784" x2="1514.5" y2="786"/><line x1="1520.5" y1="784" x2="1520.5" y2="786"/><line x1="1525.5" y1="784" x2="1525.5" y2="786"/><line x1="1531.5" y1="784" x2="1531.5" y2="786"/><line x1="1537.5" y1="784" x2="1537.5" y2="786"/><line x1="1543.5" y1="784" x2="1543.5" y2="786"/><line x1="1549.5" y1="784" x2="1549.5" y2="786"/></g></svg></body></html>
